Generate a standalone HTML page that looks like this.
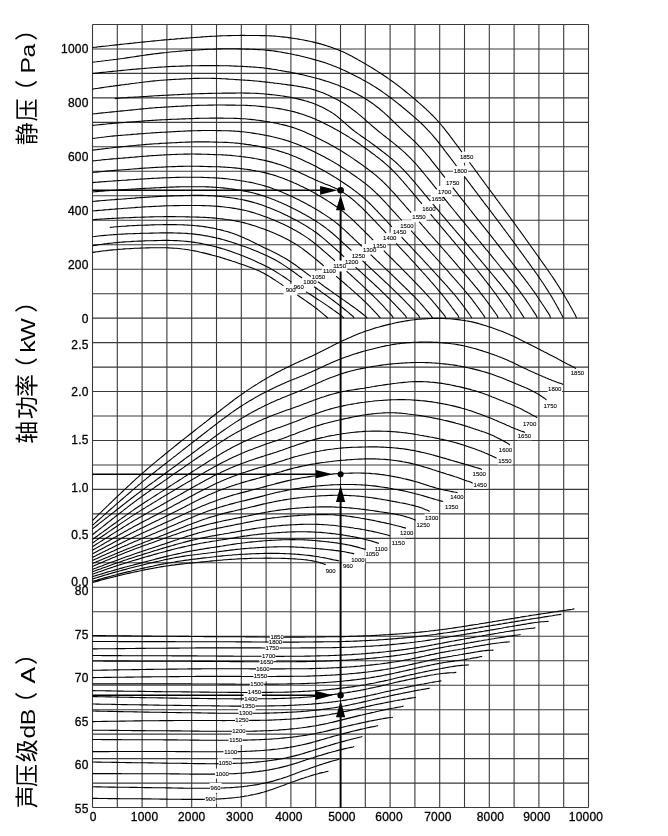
<!DOCTYPE html><html><head><meta charset="utf-8"><style>html,body{margin:0;padding:0;background:#fff;width:668px;height:836px;overflow:hidden}svg{display:block;filter:grayscale(100%)}</style></head><body>
<svg width="668" height="836" viewBox="0 0 668 836">
<rect width="668" height="836" fill="#fff"/>
<path d="M92.5 24.5V807.5M117.3 24.5V807.5M142.1 24.5V807.5M166.9 24.5V807.5M191.7 24.5V807.5M216.5 24.5V807.5M241.3 24.5V807.5M266.1 24.5V807.5M290.9 24.5V807.5M315.7 24.5V807.5M340.5 24.5V807.5M365.3 24.5V807.5M390.1 24.5V807.5M414.9 24.5V807.5M439.7 24.5V807.5M464.5 24.5V807.5M489.3 24.5V807.5M514.1 24.5V807.5M538.9 24.5V807.5M563.7 24.5V807.5M588.5 24.5V807.5M92.5 24.5H588.5M92.5 49H588.5M92.5 73.4H588.5M92.5 97.9H588.5M92.5 122.4H588.5M92.5 146.8H588.5M92.5 171.3H588.5M92.5 195.8H588.5M92.5 220.3H588.5M92.5 244.7H588.5M92.5 269.2H588.5M92.5 293.7H588.5M92.5 318.1H588.5M92.5 342.6H588.5M92.5 367.1H588.5M92.5 391.5H588.5M92.5 416H588.5M92.5 440.5H588.5M92.5 465H588.5M92.5 489.4H588.5M92.5 513.9H588.5M92.5 538.4H588.5M92.5 562.8H588.5M92.5 587.3H588.5M92.5 611.8H588.5M92.5 636.2H588.5M92.5 660.7H588.5M92.5 685.2H588.5M92.5 709.7H588.5M92.5 734.1H588.5M92.5 758.6H588.5M92.5 783.1H588.5M92.5 807.5H588.5" stroke="#3a3a3a" stroke-width="1.1" fill="none"/>
<path d="M340.6 807.5V717 M340.6 695.5V501.5 M340.6 440.4V209.5" stroke="#000" stroke-width="1.9" fill="none"/><path d="M92.5 190.3H321.1" stroke="#000" stroke-width="1.6" fill="none"/><path d="M92.5 474.2H316.9" stroke="#000" stroke-width="1.6" fill="none"/><path d="M92.5 695.3H316.2" stroke="#000" stroke-width="1.6" fill="none"/>
<g fill="#fff"><rect x="459" y="151.7" width="15.2" height="11"/><rect x="570.2" y="368.9" width="14.4" height="8"/><rect x="269.6" y="631.8" width="15" height="10"/><rect x="452.9" y="165.7" width="15.2" height="11"/><rect x="547.6" y="384.6" width="14.4" height="8"/><rect x="268" y="636.8" width="15" height="10"/><rect x="445.1" y="177.1" width="15.2" height="11"/><rect x="543" y="401.8" width="14.4" height="8"/><rect x="264.8" y="642.7" width="15" height="10"/><rect x="437" y="186" width="15.2" height="11"/><rect x="522.4" y="419.8" width="14.4" height="8"/><rect x="261.2" y="651.1" width="15" height="10"/><rect x="430.7" y="193.2" width="15.2" height="11"/><rect x="517.2" y="432.2" width="14.4" height="8"/><rect x="259.2" y="656.5" width="15" height="10"/><rect x="421.3" y="203.5" width="15.2" height="11"/><rect x="498.3" y="445.4" width="14.4" height="8"/><rect x="255.4" y="663.6" width="15" height="10"/><rect x="411.4" y="211.2" width="15.2" height="11"/><rect x="497.7" y="456.5" width="14.4" height="8"/><rect x="252.9" y="671.2" width="15" height="10"/><rect x="399.3" y="220.2" width="15.2" height="11"/><rect x="472.1" y="469.7" width="14.4" height="8"/><rect x="249.5" y="678.9" width="15" height="10"/><rect x="392.1" y="226.5" width="15.2" height="11"/><rect x="472.9" y="480.7" width="14.4" height="8"/><rect x="247" y="687.2" width="15" height="10"/><rect x="382.2" y="232.7" width="15.2" height="11"/><rect x="449.7" y="493.2" width="14.4" height="8"/><rect x="243.5" y="693.6" width="15" height="10"/><rect x="371.9" y="239.9" width="15.2" height="11"/><rect x="444.4" y="502.6" width="14.4" height="8"/><rect x="240.8" y="700.8" width="15" height="10"/><rect x="362" y="244" width="15.2" height="11"/><rect x="424.5" y="513.7" width="14.4" height="8"/><rect x="238.1" y="708" width="15" height="10"/><rect x="350.8" y="250.2" width="15.2" height="11"/><rect x="416" y="521.1" width="14.4" height="8"/><rect x="234.5" y="715.2" width="15" height="10"/><rect x="344" y="256.5" width="15.2" height="11"/><rect x="399.5" y="528.6" width="14.4" height="8"/><rect x="231.4" y="726" width="15" height="10"/><rect x="332" y="260.5" width="15.2" height="11"/><rect x="391.1" y="538.7" width="14.4" height="8"/><rect x="228.2" y="734.9" width="15" height="10"/><rect x="321.9" y="265.5" width="15.2" height="11"/><rect x="373.9" y="544.4" width="14.4" height="8"/><rect x="223.2" y="746.4" width="15" height="10"/><rect x="310.9" y="271.1" width="15.2" height="11"/><rect x="364.9" y="550.2" width="14.4" height="8"/><rect x="217.8" y="758.3" width="15" height="10"/><rect x="302.4" y="275.9" width="15.2" height="11"/><rect x="350.7" y="555.9" width="14.4" height="8"/><rect x="214.7" y="768.7" width="15" height="10"/><rect x="291.8" y="281" width="14" height="11"/><rect x="342.3" y="562.3" width="11.2" height="8"/><rect x="209.6" y="782.9" width="12" height="10"/><rect x="283.7" y="284.3" width="14" height="11"/><rect x="325.1" y="566.4" width="11.2" height="8"/><rect x="204.5" y="794" width="12" height="10"/></g>
<path d="M92.5 47.5 L94.5 47.3 L96.5 47.1 L98.5 46.8 L100.5 46.6 L102.5 46.4 L104.5 46.2 L106.5 46 L108.5 45.8 L110.5 45.5 L112.5 45.3 L114.5 45.1 L116.5 44.9 L118.5 44.7 L120.5 44.4 L122.5 44.2 L124.5 44 L126.5 43.8 L128.5 43.6 L130.5 43.4 L132.5 43.2 L134.5 42.9 L136.5 42.7 L138.5 42.5 L140.5 42.3 L142.5 42.1 L144.5 41.9 L146.5 41.7 L148.5 41.5 L150.5 41.3 L152.5 41.1 L154.5 40.9 L156.5 40.7 L158.5 40.5 L160.5 40.3 L162.5 40.1 L164.5 39.9 L166.5 39.7 L168.5 39.6 L170.5 39.4 L172.5 39.2 L174.5 39.1 L176.5 38.9 L178.5 38.7 L180.5 38.6 L182.5 38.4 L184.5 38.3 L186.5 38.1 L188.5 38 L190.5 37.8 L192.5 37.7 L194.5 37.5 L196.5 37.4 L198.5 37.2 L200.5 37.1 L202.5 36.9 L204.5 36.8 L206.5 36.6 L208.5 36.5 L210.5 36.4 L212.5 36.3 L214.5 36.2 L216.5 36.1 L218.5 36 L220.5 35.9 L222.5 35.8 L224.5 35.7 L226.5 35.7 L228.5 35.6 L230.5 35.6 L232.5 35.5 L234.5 35.5 L236.5 35.5 L238.5 35.5 L240.5 35.4 L242.5 35.4 L244.5 35.4 L246.5 35.5 L248.5 35.5 L250.5 35.5 L252.5 35.5 L254.5 35.5 L256.5 35.5 L258.5 35.5 L260.5 35.6 L262.5 35.6 L264.5 35.6 L266.5 35.7 L268.5 35.8 L270.5 35.9 L272.5 36 L274.5 36.1 L276.5 36.3 L278.5 36.5 L280.5 36.7 L282.5 36.9 L284.5 37.1 L286.5 37.3 L288.5 37.6 L290.5 37.9 L292.5 38.2 L294.5 38.5 L296.5 38.8 L298.5 39.1 L300.5 39.5 L302.5 39.8 L304.5 40.2 L306.5 40.6 L308.5 41 L310.5 41.5 L312.5 41.9 L314.5 42.4 L316.5 42.9 L318.5 43.4 L320.5 43.9 L322.5 44.5 L324.5 45.1 L326.5 45.7 L328.5 46.4 L330.5 47 L332.5 47.7 L334.4 48.4 L335.9 49 L337.4 49.6 L338.9 50.2 L340.4 50.8 L341.9 51.4 L343.4 52.1 L344.9 52.8 L346.4 53.5 L347.9 54.2 L349.4 55 L350.9 55.8 L352.4 56.6 L353.9 57.4 L355.4 58.2 L356.9 59 L358.4 59.9 L359.9 60.7 L361.4 61.6 L362.9 62.5 L364.4 63.3 L365.9 64.2 L367.4 65.1 L368.9 66 L370.4 66.9 L371.9 67.8 L373.4 68.8 L374.9 69.7 L376.4 70.6 L377.9 71.6 L379.4 72.5 L380.9 73.5 L382.4 74.5 L383.9 75.5 L385.4 76.5 L386.9 77.5 L388.4 78.6 L389.9 79.6 L391.4 80.7 L392.9 81.8 L394.4 82.9 L395.9 84 L397.4 85.1 L398.9 86.3 L400.4 87.4 L401.9 88.6 L403.4 89.8 L404.9 91 L406.4 92.2 L407.9 93.4 L409.4 94.6 L410.9 95.9 L412.4 97.1 L413.9 98.4 L415.4 99.7 L416.9 101 L418.4 102.3 L419.9 103.6 L421.3 104.8 L422.5 105.9 L423.7 107 L424.9 108.1 L426.1 109.2 L427.3 110.3 L428.5 111.4 L429.7 112.6 L430.9 113.8 L432.1 115 L433.3 116.2 L434.5 117.4 L435.7 118.7 L436.9 120 L438.1 121.3 L439.3 122.7 L440.5 124 L441.7 125.5 L442.9 126.9 L444.1 128.4 L445.2 129.8 L446.2 131.1 L447.2 132.3 L448.2 133.6 L449.2 134.9 L450.2 136.3 L451.2 137.6 L452.2 138.9 L453.2 140.3 L454.2 141.6 L455.2 143 L456.2 144.3 L457.2 145.7 L458.2 147 L459.2 148.4 L460.2 149.7 L461.2 151.1 L462 152.1 M469.5 162.3 L470.5 163.7 L471.5 165.1 L472.5 166.4 L473.5 167.8 L474.5 169.2 L475.5 170.5 L476.5 171.9 L477.5 173.2 L478.5 174.6 L479.5 176 L480.5 177.3 L481.5 178.7 L482.5 180.1 L483.5 181.4 L484.5 182.8 L485.5 184.2 L486.5 185.5 L487.5 186.9 L488.5 188.2 L489.5 189.6 L490.5 190.9 L491.5 192.3 L492.5 193.6 L493.5 195 L494.5 196.4 L495.5 197.7 L496.5 199.1 L497.5 200.4 L498.5 201.8 L499.5 203.1 L500.5 204.5 L501.5 205.8 L502.5 207.2 L503.5 208.5 L504.5 209.9 L505.5 211.2 L506.5 212.6 L507.5 213.9 L508.5 215.3 L509.5 216.6 L510.5 218 L511.5 219.4 L512.5 220.7 L513.5 222.1 L514.5 223.5 L515.5 224.8 L516.5 226.2 L517.5 227.6 L518.5 229 L519.5 230.4 L520.5 231.7 L521.5 233.1 L522.5 234.5 L523.5 235.9 L524.5 237.3 L525.5 238.7 L526.5 240.1 L527.5 241.5 L528.5 242.9 L529.5 244.3 L530.5 245.7 L531.5 247.1 L532.5 248.5 L533.5 249.9 L534.5 251.3 L535.5 252.7 L536.5 254.1 L537.5 255.5 L538.5 256.9 L539.5 258.4 L540.5 259.8 L541.5 261.2 L542.5 262.6 L543.5 264 L544.5 265.4 L545.5 266.8 L546.5 268.3 L547.5 269.7 L548.5 271.1 L549.5 272.6 L550.5 274 L551.5 275.5 L552.5 276.9 L553.5 278.4 L554.5 279.9 L555.5 281.4 L556.5 283 L557.5 284.5 L558.5 286.1 L559.4 287.5 L560.3 288.9 L561.1 290.3 L562 291.7 L562.9 293.1 L563.7 294.6 L564.6 296 L565.4 297.5 L566.3 299 L567.1 300.4 L568 301.9 L568.9 303.5 L569.7 305 L570.6 306.5 L571.4 308 L572.3 309.6 L573.1 311.1 L574 312.7 L574.9 314.2 L575.6 315.8 L576.2 317.3 L576.5 318.1 M92.5 520.5 L93.7 519.3 L94.9 518.1 L96.1 517 L97.3 515.8 L98.5 514.6 L99.7 513.4 L100.9 512.3 L102.1 511.1 L103.3 509.9 L104.5 508.8 L105.7 507.6 L106.9 506.4 L108.1 505.3 L109.3 504.1 L110.5 503 L111.7 501.8 L112.9 500.7 L114.1 499.5 L115.3 498.4 L116.5 497.2 L117.7 496.1 L118.9 494.9 L120.1 493.8 L121.3 492.7 L122.5 491.5 L123.7 490.4 L124.9 489.3 L126.1 488.1 L127.3 487 L128.5 485.9 L129.7 484.8 L130.9 483.6 L132.1 482.5 L133.3 481.4 L134.5 480.3 L135.7 479.2 L136.9 478.1 L138.1 477.1 L139.3 476 L140.5 474.9 L141.7 473.9 L143.1 472.6 L144.6 471.3 L146.1 470 L147.6 468.7 L149.1 467.4 L150.6 466.2 L152.1 464.9 L153.6 463.6 L155.1 462.4 L156.6 461.1 L158.1 459.9 L159.6 458.7 L161.1 457.4 L162.6 456.2 L164.1 455 L165.6 453.7 L167.1 452.5 L168.6 451.3 L170.1 450.1 L171.6 448.9 L173.1 447.7 L174.6 446.4 L176.1 445.2 L177.6 444 L179.1 442.8 L180.6 441.6 L182.1 440.4 L183.6 439.3 L185.1 438.1 L186.6 436.9 L188.1 435.7 L189.6 434.5 L191.1 433.3 L192.6 432.2 L194.1 431 L195.6 429.8 L197.1 428.6 L198.6 427.4 L200.1 426.3 L201.6 425.1 L203.1 423.9 L204.6 422.7 L206.1 421.6 L207.6 420.4 L209.1 419.2 L210.6 418 L212.1 416.8 L213.6 415.7 L215.1 414.5 L216.6 413.3 L218.1 412.1 L219.6 411 L221.1 409.8 L222.6 408.6 L224.1 407.4 L225.6 406.3 L227.1 405.1 L228.6 404 L230.1 402.8 L231.6 401.7 L233.1 400.5 L234.6 399.4 L236.1 398.3 L237.6 397.2 L239.1 396.1 L240.6 395.1 L242.1 394 L243.6 393 L245.1 391.9 L246.6 390.9 L248.1 389.9 L249.6 388.9 L251.1 387.9 L252.6 386.9 L254.1 386 L255.6 385 L257.1 384.1 L258.6 383.1 L260.1 382.2 L261.6 381.3 L263.1 380.4 L264.6 379.5 L266.1 378.6 L267.6 377.8 L269.1 376.9 L270.6 376 L272.1 375.2 L273.6 374.4 L275.1 373.6 L276.6 372.8 L278.1 372 L279.6 371.2 L281.1 370.4 L282.6 369.6 L284.1 368.9 L285.6 368.1 L287.1 367.4 L288.6 366.7 L290.1 365.9 L291.6 365.2 L293.1 364.5 L294.6 363.8 L296.1 363.1 L297.6 362.5 L299.1 361.8 L300.6 361.1 L302.1 360.4 L303.6 359.8 L305.1 359.1 L306.6 358.4 L308.1 357.8 L309.6 357.1 L311.1 356.4 L312.6 355.7 L314.1 355 L315.6 354.3 L317.1 353.5 L318.6 352.8 L320.1 352 L321.6 351.3 L323.1 350.5 L324.6 349.7 L326.1 349 L327.6 348.2 L329.1 347.4 L330.6 346.7 L332.1 345.9 L333.6 345.1 L335.1 344.4 L336.6 343.6 L338.1 342.9 L339.6 342.2 L341.1 341.5 L342.6 340.7 L344.1 340 L345.6 339.4 L347.1 338.7 L348.6 338 L350.1 337.4 L351.6 336.7 L353.1 336.1 L354.6 335.4 L356.1 334.8 L357.6 334.2 L359.1 333.6 L360.6 333 L362.1 332.5 L364 331.8 L366 331.1 L368 330.4 L370 329.7 L372 329.1 L374 328.4 L376 327.8 L378 327.3 L380 326.7 L382 326.1 L384 325.6 L386 325.1 L388 324.6 L390 324.1 L392 323.7 L394 323.2 L396 322.8 L398 322.4 L400 322 L402 321.6 L404 321.2 L406 320.9 L408 320.6 L410 320.3 L412 320 L414 319.8 L416 319.5 L418 319.3 L420 319.2 L422 319 L424 318.9 L426 318.7 L428 318.6 L430 318.5 L432 318.5 L434 318.4 L436 318.4 L438 318.4 L440 318.4 L442 318.4 L444 318.5 L446 318.6 L448 318.7 L450 318.8 L452 319 L454 319.2 L456 319.4 L458 319.6 L460 319.9 L462 320.2 L464 320.4 L466 320.8 L468 321.1 L470 321.5 L472 321.9 L474 322.4 L476 322.9 L478 323.4 L480 324 L482 324.6 L484 325.2 L486 325.8 L488 326.5 L490 327.1 L492 327.8 L494 328.5 L496 329.2 L497.9 329.9 L499.4 330.5 L500.9 331 L502.4 331.6 L503.9 332.2 L505.4 332.8 L506.9 333.5 L508.4 334.1 L509.9 334.8 L511.4 335.4 L512.9 336.1 L514.4 336.8 L515.9 337.5 L517.4 338.2 L518.9 338.9 L520.4 339.7 L521.9 340.4 L523.4 341.2 L524.9 341.9 L526.4 342.7 L527.9 343.4 L529.4 344.2 L530.9 345 L532.4 345.8 L533.9 346.5 L535.4 347.3 L536.9 348.1 L538.4 348.8 L539.9 349.6 L541.4 350.4 L542.9 351.1 L544.4 351.9 L545.9 352.6 L547.4 353.4 L548.9 354.2 L550.4 355 L551.9 355.7 L553.4 356.5 L554.9 357.3 L556.4 358.1 L557.9 358.9 L559.4 359.8 L560.9 360.6 L562.4 361.4 L563.9 362.2 L565.4 363 L566.9 363.8 L568.4 364.6 L569.9 365.3 L571.4 366.1 L572.9 366.8 L574.4 367.5 L575.8 368.7 M92.5 635.5 L94.5 635.5 L96.5 635.5 L98.5 635.6 L100.5 635.6 L102.5 635.6 L104.5 635.6 L106.5 635.7 L108.5 635.7 L110.5 635.7 L112.5 635.7 L114.5 635.8 L116.5 635.8 L118.5 635.8 L120.5 635.8 L122.5 635.9 L124.5 635.9 L126.5 635.9 L128.5 635.9 L130.5 635.9 L132.5 636 L134.5 636 L136.5 636 L138.5 636 L140.5 636 L142.5 636.1 L144.5 636.1 L146.5 636.1 L148.5 636.1 L150.5 636.1 L152.5 636.2 L154.5 636.2 L156.5 636.2 L158.5 636.2 L160.5 636.2 L162.5 636.2 L164.5 636.3 L166.5 636.3 L168.5 636.3 L170.5 636.3 L172.5 636.3 L174.5 636.3 L176.5 636.3 L178.5 636.4 L180.5 636.4 L182.5 636.4 L184.5 636.4 L186.5 636.4 L188.5 636.4 L190.5 636.5 L192.5 636.5 L194.5 636.5 L196.5 636.5 L198.5 636.5 L200.5 636.5 L202.5 636.5 L204.5 636.6 L206.5 636.6 L208.5 636.6 L210.5 636.6 L212.5 636.6 L214.5 636.6 L216.5 636.6 L218.5 636.7 L220.5 636.7 L222.5 636.7 L224.5 636.7 L226.5 636.7 L228.5 636.7 L230.5 636.7 L232.5 636.8 L234.5 636.8 L236.5 636.8 L238.5 636.8 L240.5 636.8 L242.5 636.8 L244.5 636.8 L246.5 636.9 L248.5 636.9 L250.5 636.9 L252.5 636.9 L254.5 636.9 L256.5 636.9 L258.5 637 L260.5 637 L262.5 637 L264.5 637 L266.5 637 L268.5 637 L270 637 M284 637.1 L286 637.1 L288 637.1 L290 637.1 L292 637.1 L294 637.1 L296 637.1 L298 637.1 L300 637.1 L302 637.1 L304 637.1 L306 637 L308 637 L310 637 L312 637 L314 637 L316 637 L318 636.9 L320 636.9 L322 636.9 L324 636.9 L326 636.8 L328 636.8 L330 636.8 L332 636.8 L334 636.7 L336 636.7 L338 636.7 L340 636.6 L342 636.6 L344 636.6 L346 636.5 L348 636.5 L350 636.4 L352 636.3 L354 636.3 L356 636.2 L358 636.1 L360 636.1 L362 636 L364 635.9 L366 635.8 L368 635.7 L370 635.7 L372 635.6 L374 635.5 L376 635.4 L378 635.3 L380 635.1 L382 635 L384 634.9 L386 634.8 L388 634.7 L390 634.5 L392 634.4 L394 634.3 L396 634.1 L398 634 L400 633.8 L402 633.7 L404 633.5 L406 633.3 L408 633.2 L410 633 L412 632.8 L414 632.6 L416 632.5 L418 632.3 L420 632.1 L422 631.9 L424 631.7 L426 631.5 L428 631.3 L430 631 L432 630.8 L434 630.6 L436 630.3 L438 630.1 L440 629.8 L442 629.6 L444 629.3 L446 629.1 L448 628.8 L450 628.5 L452 628.2 L454 627.9 L456 627.6 L458 627.3 L460 627 L462 626.7 L464 626.4 L466 626.1 L468 625.7 L470 625.4 L472 625.1 L474 624.8 L476 624.5 L478 624.2 L480 623.8 L482 623.5 L484 623.2 L486 622.9 L488 622.5 L490 622.2 L492 621.9 L494 621.5 L496 621.2 L498 620.9 L500 620.5 L502 620.2 L504 619.9 L506 619.6 L508 619.2 L510 618.9 L512 618.6 L514 618.3 L516 617.9 L518 617.6 L520 617.3 L522 616.9 L524 616.6 L526 616.3 L528 616 L530 615.6 L532 615.3 L534 615 L536 614.7 L538 614.4 L540 614.1 L542 613.8 L544 613.5 L546 613.2 L548 612.9 L550 612.6 L552 612.3 L554 612 L556 611.7 L558 611.4 L560 611.1 L562 610.8 L564 610.5 L566 610.2 L568 609.9 L570 609.6 L572 609.3 L574 608.9 L574.4 608.7 M92.5 62.3 L94.5 62 L96.5 61.8 L98.5 61.5 L100.5 61.3 L102.5 61 L104.5 60.8 L106.5 60.5 L108.5 60.3 L110.5 60 L112.5 59.8 L114.5 59.5 L116.5 59.3 L118.5 59 L120.5 58.7 L122.5 58.5 L124.5 58.2 L126.5 57.9 L128.5 57.6 L130.5 57.3 L132.5 57 L134.5 56.7 L136.5 56.4 L138.5 56.1 L140.5 55.8 L142.5 55.5 L144.5 55.2 L146.5 54.9 L148.5 54.6 L150.5 54.4 L152.5 54.1 L154.5 53.8 L156.5 53.6 L158.5 53.4 L160.5 53.1 L162.5 52.9 L164.5 52.7 L166.5 52.5 L168.5 52.2 L170.5 52 L172.5 51.8 L174.5 51.7 L176.5 51.5 L178.5 51.3 L180.5 51.1 L182.5 51 L184.5 50.8 L186.5 50.6 L188.5 50.5 L190.5 50.4 L192.5 50.2 L194.5 50.1 L196.5 50 L198.5 49.9 L200.5 49.7 L202.5 49.6 L204.5 49.5 L206.5 49.4 L208.5 49.3 L210.5 49.2 L212.5 49.2 L214.5 49.1 L216.5 49 L218.5 48.9 L220.5 48.9 L222.5 48.8 L224.5 48.8 L226.5 48.8 L228.5 48.8 L230.5 48.8 L232.5 48.8 L234.5 48.8 L236.5 48.8 L238.5 48.9 L240.5 48.9 L242.5 49 L244.5 49 L246.5 49.1 L248.5 49.1 L250.5 49.2 L252.5 49.3 L254.5 49.4 L256.5 49.5 L258.5 49.6 L260.5 49.7 L262.5 49.8 L264.5 50 L266.5 50.2 L268.5 50.4 L270.5 50.6 L272.5 50.8 L274.5 51.1 L276.5 51.4 L278.5 51.7 L280.5 52 L282.5 52.4 L284.5 52.7 L286.5 53.1 L288.5 53.5 L290.5 53.8 L292.5 54.2 L294.5 54.7 L296.5 55.1 L298.5 55.5 L300.5 56 L302.5 56.5 L304.5 57 L306.5 57.5 L308.5 58 L310.5 58.5 L312.5 59.1 L314.5 59.6 L316.5 60.2 L318.5 60.8 L320.5 61.4 L322.5 62 L324.5 62.6 L326.5 63.3 L328.5 64 L330.5 64.7 L332.1 65.3 L333.6 65.9 L335.1 66.5 L336.6 67.1 L338.1 67.7 L339.6 68.3 L341.1 69 L342.6 69.7 L344.1 70.3 L345.6 71 L347.1 71.7 L348.6 72.5 L350.1 73.2 L351.6 73.9 L353.1 74.7 L354.6 75.4 L356.1 76.2 L357.6 77 L359.1 77.7 L360.6 78.5 L362.1 79.4 L363.6 80.2 L365.1 81 L366.6 81.9 L368.1 82.8 L369.6 83.6 L371.1 84.5 L372.6 85.5 L374.1 86.4 L375.6 87.3 L377.1 88.3 L378.6 89.3 L380.1 90.3 L381.6 91.3 L383.1 92.4 L384.6 93.4 L386.1 94.5 L387.6 95.6 L389.1 96.7 L390.6 97.8 L392.1 98.9 L393.6 100.1 L395.1 101.2 L396.6 102.4 L398.1 103.6 L399.6 104.8 L401.1 106 L402.6 107.3 L404.1 108.5 L405.6 109.7 L407.1 111 L408.6 112.2 L410.1 113.5 L411.6 114.8 L413.1 116.1 L414.6 117.4 L415.9 118.5 L417.1 119.6 L418.3 120.7 L419.5 121.8 L420.7 122.9 L421.9 124 L423.1 125.2 L424.3 126.4 L425.5 127.6 L426.7 128.8 L427.9 130.1 L429.1 131.3 L430.3 132.7 L431.5 134 L432.7 135.4 L433.9 136.8 L435.1 138.2 L436.3 139.7 L437.5 141.2 L438.5 142.4 L439.5 143.7 L440.5 145 L441.5 146.2 L442.5 147.5 L443.5 148.8 L444.5 150.1 L445.5 151.5 L446.5 152.8 L447.5 154.1 L448.5 155.4 L449.5 156.7 L450.5 158 L451.5 159.4 L452.5 160.7 L453.5 162 L454.5 163.3 L455.5 164.7 L456.5 166 M464.2 176.3 L465.2 177.6 L466.2 178.9 L467.2 180.3 L468.2 181.6 L469.2 182.9 L470.2 184.2 L471.2 185.6 L472.2 186.9 L473.2 188.2 L474.2 189.5 L475.2 190.9 L476.2 192.2 L477.2 193.5 L478.2 194.8 L479.2 196.2 L480.2 197.5 L481.2 198.8 L482.2 200.1 L483.2 201.4 L484.2 202.8 L485.2 204.1 L486.2 205.4 L487.2 206.7 L488.2 208 L489.2 209.4 L490.2 210.7 L491.2 212 L492.2 213.3 L493.2 214.6 L494.2 216 L495.2 217.3 L496.2 218.6 L497.2 219.9 L498.2 221.3 L499.2 222.6 L500.2 223.9 L501.2 225.3 L502.2 226.6 L503.2 228 L504.2 229.3 L505.2 230.6 L506.2 232 L507.2 233.3 L508.2 234.7 L509.2 236.1 L510.2 237.4 L511.2 238.8 L512.2 240.1 L513.2 241.5 L514.2 242.9 L515.2 244.2 L516.2 245.6 L517.2 247 L518.2 248.3 L519.2 249.7 L520.2 251.1 L521.2 252.5 L522.2 253.9 L523.2 255.2 L524.2 256.6 L525.2 258 L526.2 259.4 L527.2 260.8 L528.2 262.1 L529.2 263.5 L530.2 264.9 L531.2 266.3 L532.2 267.7 L533.2 269.1 L534.2 270.5 L535.2 271.9 L536.2 273.3 L537.2 274.7 L538.2 276.1 L539.2 277.6 L540.2 279 L541.2 280.5 L542.2 282 L543.2 283.5 L544.2 285 L545.2 286.5 L546.2 288.1 L547.2 289.6 L548.1 290.9 L548.9 292.3 L549.8 293.7 L550.6 295.1 L551.5 296.6 L552.4 298 L553.2 299.5 L554.1 301 L554.9 302.5 L555.8 304 L556.6 305.5 L557.5 307.1 L558.4 308.6 L559.2 310.2 L560.1 311.8 L560.9 313.3 L561.8 314.9 L562.6 316.5 L563.4 318.1 M92.5 525.3 L93.7 524.2 L94.9 523.2 L96.1 522.1 L97.3 521 L98.5 520 L99.7 518.9 L100.9 517.8 L102.1 516.8 L103.3 515.7 L104.5 514.7 L105.7 513.6 L106.9 512.5 L108.2 511.3 L109.8 510 L111.2 508.7 L112.8 507.4 L114.2 506.1 L115.8 504.7 L117.2 503.4 L118.8 502.1 L120.2 500.8 L121.8 499.5 L123.2 498.2 L124.8 496.9 L126.2 495.6 L127.8 494.3 L129.2 493 L130.8 491.7 L132.2 490.4 L133.8 489.1 L135.2 487.8 L136.8 486.6 L138.2 485.3 L139.8 484.1 L141.2 482.8 L142.8 481.6 L144.2 480.4 L145.8 479.1 L147.2 477.9 L148.8 476.7 L150.2 475.5 L151.8 474.4 L153.2 473.2 L154.8 472 L156.2 470.8 L157.8 469.6 L159.2 468.5 L160.8 467.3 L162.2 466.1 L163.8 464.9 L165.2 463.8 L166.8 462.6 L168.2 461.4 L169.8 460.3 L171.2 459.1 L172.8 457.9 L174.2 456.7 L175.8 455.6 L177.2 454.4 L178.8 453.2 L180.2 452.1 L181.8 450.9 L183.2 449.7 L184.8 448.5 L186.2 447.4 L187.8 446.2 L189.2 445 L190.8 443.9 L192.2 442.7 L193.8 441.5 L195.2 440.4 L196.8 439.2 L198.2 438 L199.8 436.8 L201.2 435.7 L202.8 434.5 L204.2 433.3 L205.8 432.2 L207.2 431 L208.8 429.9 L210.2 428.7 L211.8 427.5 L213.2 426.4 L214.8 425.2 L216.2 424.1 L217.8 422.9 L219.2 421.8 L220.8 420.7 L222.2 419.5 L223.8 418.4 L225.2 417.3 L226.8 416.2 L228.2 415.1 L229.8 414 L231.2 412.9 L232.8 411.9 L234.2 410.8 L235.8 409.8 L237.2 408.8 L238.8 407.8 L240.2 406.8 L241.8 405.8 L243.2 404.9 L244.8 403.9 L246.2 403 L247.8 402.1 L249.2 401.1 L250.8 400.2 L252.2 399.4 L253.8 398.5 L255.2 397.6 L256.8 396.8 L258.2 395.9 L259.8 395.1 L261.2 394.3 L262.8 393.5 L264.2 392.7 L265.8 391.9 L267.2 391.2 L268.8 390.4 L270.2 389.7 L271.8 388.9 L273.2 388.2 L274.8 387.5 L276.2 386.8 L277.8 386.1 L279.2 385.4 L280.8 384.7 L282.2 384.1 L283.8 383.4 L285.2 382.7 L286.8 382.1 L288.2 381.5 L289.8 380.8 L291.2 380.2 L292.8 379.6 L294.2 379 L295.8 378.4 L297.2 377.8 L298.8 377.2 L300.2 376.6 L301.8 376 L303.2 375.4 L304.8 374.7 L306.2 374.1 L307.8 373.5 L309.2 372.8 L310.8 372.2 L312.2 371.5 L313.8 370.8 L315.2 370.2 L316.8 369.5 L318.2 368.8 L319.8 368.1 L321.2 367.4 L322.8 366.7 L324.2 366 L325.8 365.3 L327.2 364.6 L328.8 363.9 L330.2 363.3 L331.8 362.6 L333.2 362 L334.8 361.3 L336.2 360.7 L337.8 360.1 L339.2 359.5 L340.8 358.9 L342.2 358.3 L343.8 357.7 L345.5 357.1 L347.5 356.4 L349.5 355.7 L351.5 355 L353.5 354.3 L355.5 353.7 L357.5 353.1 L359.5 352.5 L361.5 351.9 L363.5 351.3 L365.5 350.8 L367.5 350.2 L369.5 349.7 L371.5 349.2 L373.5 348.7 L375.5 348.2 L377.5 347.7 L379.5 347.2 L381.5 346.8 L383.5 346.4 L385.5 345.9 L387.5 345.5 L389.5 345.2 L391.5 344.8 L393.5 344.4 L395.5 344.1 L397.5 343.8 L399.5 343.6 L401.5 343.3 L403.5 343.1 L405.5 342.9 L407.5 342.7 L409.5 342.6 L411.5 342.5 L413.5 342.3 L415.5 342.2 L417.5 342.2 L419.5 342.1 L421.5 342.1 L423.5 342 L425.5 342 L427.5 342 L429.5 342.1 L431.5 342.1 L433.5 342.2 L435.5 342.3 L437.5 342.4 L439.5 342.6 L441.5 342.7 L443.5 342.9 L445.5 343.1 L447.5 343.3 L449.5 343.5 L451.5 343.8 L453.5 344 L455.5 344.3 L457.5 344.6 L459.5 345 L461.5 345.4 L463.5 345.8 L465.5 346.2 L467.5 346.7 L469.5 347.2 L471.5 347.7 L473.5 348.3 L475.5 348.8 L477.5 349.4 L479.5 350 L481.5 350.6 L483.5 351.2 L485.5 351.9 L487.5 352.5 L489.5 353.2 L491.5 353.9 L493.5 354.6 L495.2 355.3 L496.8 355.8 L498.2 356.4 L499.8 357 L501.2 357.6 L502.8 358.2 L504.2 358.8 L505.8 359.5 L507.2 360.1 L508.8 360.8 L510.2 361.4 L511.8 362.1 L513.2 362.8 L514.8 363.5 L516.2 364.2 L517.8 365 L519.2 365.7 L520.8 366.4 L522.2 367.2 L523.8 367.9 L525.2 368.6 L526.8 369.3 L528.2 370.1 L529.8 370.8 L531.2 371.5 L532.8 372.1 L534.2 372.8 L535.8 373.5 L537.2 374.1 L538.8 374.8 L540.2 375.4 L541.8 376 L543.2 376.7 L544.8 377.3 L546.2 377.9 L547.8 378.5 L549.2 379.2 L550.8 379.8 L552.2 380.4 L553.8 380.9 L555.2 381.5 L557 382.2 L559 382.9 L561 383.6 L562.8 384.2 L563.2 384.4 M92.5 641.5 L94.5 641.5 L96.5 641.5 L98.5 641.5 L100.5 641.5 L102.5 641.5 L104.5 641.5 L106.5 641.5 L108.5 641.5 L110.5 641.5 L112.5 641.5 L114.5 641.5 L116.5 641.5 L118.5 641.6 L120.5 641.6 L122.5 641.6 L124.5 641.6 L126.5 641.6 L128.5 641.6 L130.5 641.6 L132.5 641.6 L134.5 641.6 L136.5 641.6 L138.5 641.6 L140.5 641.6 L142.5 641.6 L144.5 641.6 L146.5 641.6 L148.5 641.6 L150.5 641.6 L152.5 641.6 L154.5 641.6 L156.5 641.6 L158.5 641.6 L160.5 641.6 L162.5 641.6 L164.5 641.6 L166.5 641.6 L168.5 641.6 L170.5 641.6 L172.5 641.6 L174.5 641.6 L176.5 641.7 L178.5 641.7 L180.5 641.7 L182.5 641.7 L184.5 641.7 L186.5 641.7 L188.5 641.7 L190.5 641.7 L192.5 641.7 L194.5 641.7 L196.5 641.7 L198.5 641.7 L200.5 641.7 L202.5 641.7 L204.5 641.7 L206.5 641.7 L208.5 641.7 L210.5 641.7 L212.5 641.8 L214.5 641.8 L216.5 641.8 L218.5 641.8 L220.5 641.8 L222.5 641.8 L224.5 641.8 L226.5 641.8 L228.5 641.8 L230.5 641.8 L232.5 641.8 L234.5 641.8 L236.5 641.9 L238.5 641.9 L240.5 641.9 L242.5 641.9 L244.5 641.9 L246.5 641.9 L248.5 641.9 L250.5 641.9 L252.5 642 L254.5 642 L256.5 642 L258.5 642 L260.5 642 L262.5 642 L264.5 642 L266.5 642 L268.5 642.1 M282.5 642.1 L284.5 642.1 L286.5 642.1 L288.5 642.1 L290.5 642.1 L292.5 642.1 L294.5 642.1 L296.5 642.1 L298.5 642.1 L300.5 642 L302.5 642 L304.5 642 L306.5 642 L308.5 642 L310.5 642 L312.5 642 L314.5 641.9 L316.5 641.9 L318.5 641.9 L320.5 641.9 L322.5 641.9 L324.5 641.8 L326.5 641.8 L328.5 641.8 L330.5 641.8 L332.5 641.7 L334.5 641.7 L336.5 641.7 L338.5 641.6 L340.5 641.6 L342.5 641.5 L344.5 641.5 L346.5 641.4 L348.5 641.4 L350.5 641.3 L352.5 641.2 L354.5 641.1 L356.5 641.1 L358.5 641 L360.5 640.9 L362.5 640.8 L364.5 640.7 L366.5 640.6 L368.5 640.5 L370.5 640.4 L372.5 640.3 L374.5 640.2 L376.5 640.1 L378.5 639.9 L380.5 639.8 L382.5 639.7 L384.5 639.5 L386.5 639.4 L388.5 639.3 L390.5 639.1 L392.5 638.9 L394.5 638.8 L396.5 638.6 L398.5 638.4 L400.5 638.3 L402.5 638.1 L404.5 637.9 L406.5 637.7 L408.5 637.5 L410.5 637.3 L412.5 637.1 L414.5 636.9 L416.5 636.7 L418.5 636.5 L420.5 636.2 L422.5 636 L424.5 635.8 L426.5 635.5 L428.5 635.3 L430.5 635 L432.5 634.7 L434.5 634.5 L436.5 634.2 L438.5 633.9 L440.5 633.6 L442.5 633.3 L444.5 633 L446.5 632.8 L448.5 632.5 L450.5 632.2 L452.5 631.9 L454.5 631.6 L456.5 631.3 L458.5 631 L460.5 630.7 L462.5 630.4 L464.5 630.1 L466.5 629.7 L468.5 629.4 L470.5 629.1 L472.5 628.8 L474.5 628.4 L476.5 628.1 L478.5 627.8 L480.5 627.4 L482.5 627.1 L484.5 626.8 L486.5 626.4 L488.5 626.1 L490.5 625.8 L492.5 625.4 L494.5 625.1 L496.5 624.8 L498.5 624.4 L500.5 624.1 L502.5 623.8 L504.5 623.4 L506.5 623.1 L508.5 622.8 L510.5 622.4 L512.5 622.1 L514.5 621.8 L516.5 621.4 L518.5 621.1 L520.5 620.8 L522.5 620.4 L524.5 620.1 L526.5 619.8 L528.5 619.5 L530.5 619.1 L532.5 618.8 L534.5 618.5 L536.5 618.2 L538.5 617.9 L540.5 617.6 L542.5 617.2 L544.5 616.9 L546.5 616.6 L548.5 616.3 L550.5 616 L552.5 615.7 L554.5 615.3 L556.5 615 L558.5 614.7 L560.5 614.4 L561.3 614.2 M92.5 73.5 L94.5 73.3 L96.5 73.1 L98.5 72.9 L100.5 72.6 L102.5 72.4 L104.5 72.2 L106.5 72 L108.5 71.8 L110.5 71.6 L112.5 71.4 L114.5 71.2 L116.5 71 L118.5 70.8 L120.5 70.6 L122.5 70.4 L124.5 70.2 L126.5 70 L128.5 69.8 L130.5 69.6 L132.5 69.4 L134.5 69.3 L136.5 69.1 L138.5 68.9 L140.5 68.7 L142.5 68.5 L144.5 68.4 L146.5 68.2 L148.5 68 L150.5 67.9 L152.5 67.7 L154.5 67.5 L156.5 67.4 L158.5 67.2 L160.5 67.1 L162.5 67 L164.5 66.9 L166.5 66.7 L168.5 66.6 L170.5 66.5 L172.5 66.4 L174.5 66.4 L176.5 66.3 L178.5 66.2 L180.5 66.1 L182.5 66.1 L184.5 66 L186.5 65.9 L188.5 65.9 L190.5 65.8 L192.5 65.8 L194.5 65.7 L196.5 65.7 L198.5 65.7 L200.5 65.6 L202.5 65.6 L204.5 65.6 L206.5 65.6 L208.5 65.6 L210.5 65.6 L212.5 65.6 L214.5 65.6 L216.5 65.6 L218.5 65.6 L220.5 65.7 L222.5 65.7 L224.5 65.7 L226.5 65.8 L228.5 65.8 L230.5 65.9 L232.5 66 L234.5 66.1 L236.5 66.1 L238.5 66.2 L240.5 66.3 L242.5 66.4 L244.5 66.5 L246.5 66.6 L248.5 66.8 L250.5 66.9 L252.5 67 L254.5 67.1 L256.5 67.3 L258.5 67.5 L260.5 67.6 L262.5 67.8 L264.5 68.1 L266.5 68.3 L268.5 68.6 L270.5 68.9 L272.5 69.2 L274.5 69.5 L276.5 69.8 L278.5 70.2 L280.5 70.5 L282.5 70.9 L284.5 71.2 L286.5 71.6 L288.5 71.9 L290.5 72.3 L292.5 72.7 L294.5 73.1 L296.5 73.5 L298.5 73.9 L300.5 74.4 L302.5 74.8 L304.5 75.2 L306.5 75.7 L308.5 76.2 L310.5 76.7 L312.5 77.2 L314.5 77.8 L316.5 78.3 L318.5 78.8 L320.5 79.4 L322.5 80 L324.5 80.6 L326.5 81.2 L328.5 81.8 L330.5 82.5 L332.5 83.2 L334.5 83.9 L336.2 84.6 L337.8 85.1 L339.2 85.7 L340.8 86.4 L342.2 87 L343.8 87.6 L345.2 88.3 L346.8 89 L348.2 89.6 L349.8 90.3 L351.2 91 L352.8 91.8 L354.2 92.5 L355.8 93.3 L357.2 94.1 L358.8 94.9 L360.2 95.7 L361.8 96.6 L363.2 97.4 L364.8 98.4 L366.2 99.3 L367.8 100.3 L369.2 101.3 L370.8 102.3 L372.2 103.3 L373.8 104.4 L375.2 105.5 L376.8 106.7 L378.2 107.8 L379.8 109 L381.2 110.3 L382.8 111.6 L384.1 112.7 L385.3 113.8 L386.5 114.9 L387.7 116 L388.9 117.2 L390.1 118.3 L391.3 119.5 L392.5 120.6 L393.7 121.8 L394.9 123 L396.1 124.2 L397.3 125.4 L398.5 126.5 L399.7 127.7 L400.9 128.8 L402.1 129.9 L403.3 131.1 L404.5 132.2 L405.7 133.3 L406.9 134.4 L408.1 135.5 L409.3 136.5 L410.5 137.6 L411.7 138.8 L412.9 139.9 L414.1 141 L415.3 142.2 L416.5 143.4 L417.7 144.6 L418.9 145.8 L420.1 147.1 L421.3 148.4 L422.5 149.7 L423.7 151.1 L424.9 152.5 L426.1 153.9 L427.3 155.3 L428.5 156.7 L429.7 158.2 L430.9 159.7 L432 161.1 L433 162.3 L434 163.6 L435 164.9 L436 166.1 L437 167.4 L438 168.7 L439 170 L440 171.3 L441 172.5 L442 173.8 L443 175.1 L444 176.4 L445 177.7 M452.8 187.6 L453.8 188.9 L454.8 190.2 L455.8 191.4 L456.8 192.7 L457.8 194 L458.8 195.3 L459.8 196.6 L460.8 197.8 L461.8 199.1 L462.8 200.4 L463.8 201.7 L464.8 202.9 L465.8 204.2 L466.8 205.5 L467.8 206.7 L468.8 208 L469.8 209.3 L470.8 210.5 L471.8 211.8 L472.8 213.1 L473.8 214.3 L474.8 215.6 L475.8 216.8 L476.8 218.1 L477.8 219.3 L478.8 220.6 L479.8 221.8 L480.8 223.1 L481.8 224.4 L482.8 225.6 L483.8 226.9 L484.8 228.1 L485.8 229.4 L486.8 230.6 L487.8 231.9 L488.8 233.2 L489.8 234.4 L490.8 235.7 L491.8 236.9 L492.8 238.2 L493.8 239.5 L494.8 240.7 L495.8 242 L496.8 243.3 L497.8 244.6 L498.8 245.8 L499.8 247.1 L500.8 248.4 L501.8 249.7 L502.8 250.9 L503.8 252.2 L504.8 253.5 L505.8 254.8 L506.8 256.1 L507.8 257.3 L508.8 258.6 L509.8 259.9 L510.8 261.2 L511.8 262.5 L512.8 263.8 L513.8 265 L514.8 266.3 L515.8 267.6 L516.8 268.9 L517.8 270.2 L518.8 271.4 L519.8 272.7 L520.8 274 L521.8 275.3 L522.8 276.6 L523.8 277.9 L524.8 279.2 L525.8 280.5 L526.8 281.8 L527.8 283.1 L528.8 284.5 L529.8 285.8 L530.8 287.2 L531.8 288.6 L532.8 290 L533.8 291.4 L534.8 292.8 L535.8 294.3 L536.8 295.8 L537.8 297.2 L538.8 298.7 L539.8 300.2 L540.8 301.7 L541.8 303.3 L542.8 304.8 L543.8 306.3 L544.8 307.8 L545.8 309.4 L546.8 310.9 L547.8 312.4 L548.8 313.9 L549.8 315.4 L550.2 317.2 L550.3 318.1 M92.5 528.8 L94 527.6 L95.5 526.5 L97 525.3 L98.5 524.1 L100 522.9 L101.5 521.8 L103 520.6 L104.5 519.4 L106 518.2 L107.5 517.1 L109 515.9 L110.5 514.7 L112 513.5 L113.5 512.4 L115 511.2 L116.5 510 L118 508.8 L119.5 507.7 L121 506.5 L122.5 505.3 L124 504.1 L125.5 503 L127 501.8 L128.5 500.6 L130 499.5 L131.5 498.3 L133 497.2 L134.5 496 L136 494.9 L137.5 493.7 L139 492.6 L140.5 491.5 L142 490.3 L143.5 489.2 L145 488.1 L146.5 487 L148 485.9 L149.5 484.8 L151 483.7 L152.5 482.6 L154 481.6 L155.5 480.5 L157 479.4 L158.5 478.3 L160 477.2 L161.5 476.1 L163 475 L164.5 473.9 L166 472.8 L167.5 471.7 L169 470.6 L170.5 469.5 L172 468.4 L173.5 467.3 L175 466.2 L176.5 465.1 L178 464 L179.5 462.9 L181 461.8 L182.5 460.7 L184 459.5 L185.5 458.4 L187 457.3 L188.5 456.2 L190 455.1 L191.5 453.9 L193 452.8 L194.5 451.7 L196 450.6 L197.5 449.5 L199 448.3 L200.5 447.2 L202 446.1 L203.5 445 L205 443.9 L206.5 442.8 L208 441.7 L209.5 440.6 L211 439.5 L212.5 438.4 L214 437.3 L215.5 436.2 L217 435.1 L218.5 434 L220 432.9 L221.5 431.8 L223 430.8 L224.5 429.7 L226 428.6 L227.5 427.6 L229 426.6 L230.5 425.6 L232 424.6 L233.5 423.6 L235 422.6 L236.5 421.6 L238 420.7 L239.5 419.7 L241 418.8 L242.5 417.9 L244 417 L245.5 416.1 L247 415.2 L248.5 414.3 L250 413.5 L251.5 412.6 L253 411.8 L254.5 411 L256 410.2 L257.5 409.4 L259 408.6 L260.5 407.9 L262 407.1 L263.5 406.4 L265 405.6 L266.5 404.9 L268 404.2 L269.5 403.5 L271 402.8 L272.5 402.1 L274 401.5 L275.5 400.8 L277 400.1 L278.5 399.5 L280 398.9 L281.5 398.2 L283 397.6 L284.5 397 L286 396.4 L287.5 395.8 L289 395.2 L290.5 394.6 L292 394 L293.5 393.4 L295 392.8 L296.5 392.2 L298 391.6 L299.5 391 L301 390.4 L302.5 389.8 L304 389.2 L305.5 388.5 L307 387.9 L308.5 387.2 L310 386.6 L311.5 385.9 L313 385.2 L314.5 384.6 L316 383.9 L317.5 383.2 L319 382.5 L320.5 381.9 L322 381.2 L323.5 380.6 L325 380 L326.5 379.3 L328 378.7 L329.5 378.1 L331 377.5 L332.5 377 L334 376.4 L336 375.7 L338 375 L340 374.3 L342 373.6 L344 373 L346 372.4 L348 371.8 L350 371.2 L352 370.7 L354 370.2 L356 369.7 L358 369.3 L360 368.9 L362 368.4 L364 368.1 L366 367.7 L368 367.3 L370 367 L372 366.6 L374 366.3 L376 366 L378 365.7 L380 365.4 L382 365.1 L384 364.8 L386 364.6 L388 364.3 L390 364.1 L392 363.9 L394 363.7 L396 363.5 L398 363.4 L400 363.2 L402 363.1 L404 363 L406 362.9 L408 362.8 L410 362.7 L412 362.6 L414 362.5 L416 362.5 L418 362.5 L420 362.5 L422 362.5 L424 362.5 L426 362.6 L428 362.6 L430 362.7 L432 362.9 L434 363 L436 363.1 L438 363.3 L440 363.5 L442 363.7 L444 363.9 L446 364.1 L448 364.3 L450 364.6 L452 364.8 L454 365.1 L456 365.4 L458 365.8 L460 366.1 L462 366.5 L464 366.9 L466 367.3 L468 367.7 L470 368.2 L472 368.6 L474 369.1 L476 369.6 L478 370.1 L480 370.6 L482 371.2 L484 371.8 L486 372.4 L488 373 L490 373.6 L492 374.3 L494 375 L496 375.7 L497.9 376.4 L499.4 377 L500.9 377.6 L502.4 378.1 L503.9 378.7 L505.4 379.3 L506.9 379.9 L508.4 380.5 L509.9 381.2 L511.4 381.8 L512.9 382.4 L514.4 383 L515.9 383.7 L517.4 384.3 L518.9 384.9 L520.4 385.5 L521.9 386.2 L523.4 386.8 L524.9 387.5 L526.4 388.1 L527.9 388.8 L529.4 389.5 L530.9 390.2 L532.4 390.9 L533.9 391.7 L535.4 392.5 L536.9 393.4 L538.4 394.3 L539.9 395.2 L541.4 396.2 L542.9 397.2 L544.4 398.2 L545.8 399.4 L546.4 400.1 M92.5 648.9 L94.5 648.9 L96.5 648.9 L98.5 648.8 L100.5 648.8 L102.5 648.8 L104.5 648.8 L106.5 648.7 L108.5 648.7 L110.5 648.7 L112.5 648.7 L114.5 648.7 L116.5 648.6 L118.5 648.6 L120.5 648.6 L122.5 648.6 L124.5 648.6 L126.5 648.5 L128.5 648.5 L130.5 648.5 L132.5 648.5 L134.5 648.5 L136.5 648.4 L138.5 648.4 L140.5 648.4 L142.5 648.4 L144.5 648.4 L146.5 648.3 L148.5 648.3 L150.5 648.3 L152.5 648.3 L154.5 648.3 L156.5 648.2 L158.5 648.2 L160.5 648.2 L162.5 648.2 L164.5 648.2 L166.5 648.2 L168.5 648.1 L170.5 648.1 L172.5 648.1 L174.5 648.1 L176.5 648.1 L178.5 648.1 L180.5 648 L182.5 648 L184.5 648 L186.5 648 L188.5 648 L190.5 648 L192.5 648 L194.5 648 L196.5 647.9 L198.5 647.9 L200.5 647.9 L202.5 647.9 L204.5 647.9 L206.5 647.9 L208.5 647.9 L210.5 647.9 L212.5 647.9 L214.5 647.9 L216.5 647.9 L218.5 647.9 L220.5 647.9 L222.5 647.9 L224.5 647.9 L226.5 647.9 L228.5 647.9 L230.5 647.9 L232.5 647.9 L234.5 647.9 L236.5 647.9 L238.5 647.9 L240.5 647.9 L242.5 647.9 L244.5 647.9 L246.5 647.9 L248.5 647.9 L250.5 647.9 L252.5 647.9 L254.5 647.9 L256.5 647.9 L258.5 647.9 L260.5 647.9 L262.5 648 L264.5 648 L265.5 648 M279.5 648 L281.5 648 L283.5 648 L285.5 648 L287.5 648 L289.5 648 L291.5 648 L293.5 648 L295.5 648 L297.5 648 L299.5 648 L301.5 647.9 L303.5 647.9 L305.5 647.9 L307.5 647.9 L309.5 647.9 L311.5 647.9 L313.5 647.9 L315.5 647.9 L317.5 647.8 L319.5 647.8 L321.5 647.8 L323.5 647.8 L325.5 647.8 L327.5 647.7 L329.5 647.7 L331.5 647.7 L333.5 647.6 L335.5 647.6 L337.5 647.5 L339.5 647.5 L341.5 647.4 L343.5 647.4 L345.5 647.3 L347.5 647.2 L349.5 647.2 L351.5 647.1 L353.5 647 L355.5 646.9 L357.5 646.8 L359.5 646.8 L361.5 646.7 L363.5 646.5 L365.5 646.4 L367.5 646.3 L369.5 646.2 L371.5 646.1 L373.5 646 L375.5 645.8 L377.5 645.7 L379.5 645.6 L381.5 645.4 L383.5 645.3 L385.5 645.1 L387.5 644.9 L389.5 644.8 L391.5 644.6 L393.5 644.4 L395.5 644.2 L397.5 644 L399.5 643.8 L401.5 643.6 L403.5 643.4 L405.5 643.2 L407.5 643 L409.5 642.8 L411.5 642.5 L413.5 642.3 L415.5 642 L417.5 641.8 L419.5 641.5 L421.5 641.3 L423.5 641 L425.5 640.7 L427.5 640.4 L429.5 640.1 L431.5 639.8 L433.5 639.5 L435.5 639.1 L437.5 638.8 L439.5 638.5 L441.5 638.1 L443.5 637.8 L445.5 637.5 L447.5 637.2 L449.5 636.8 L451.5 636.5 L453.5 636.2 L455.5 635.9 L457.5 635.5 L459.5 635.2 L461.5 634.9 L463.5 634.6 L465.5 634.2 L467.5 633.9 L469.5 633.6 L471.5 633.2 L473.5 632.9 L475.5 632.6 L477.5 632.3 L479.5 631.9 L481.5 631.6 L483.5 631.3 L485.5 630.9 L487.5 630.6 L489.5 630.3 L491.5 629.9 L493.5 629.6 L495.5 629.2 L497.5 628.9 L499.5 628.5 L501.5 628.2 L503.5 627.8 L505.5 627.5 L507.5 627.1 L509.5 626.8 L511.5 626.5 L513.5 626.1 L515.5 625.8 L517.5 625.4 L519.5 625.1 L521.5 624.7 L523.5 624.4 L525.5 624.1 L527.5 623.7 L529.5 623.4 L531.5 623.1 L533.5 622.8 L535.5 622.5 L537.5 622.3 L539.5 622 L541.5 621.8 L543.5 621.7 L545.5 621.5 L547.5 621.4 L548.6 621.3 M92.5 89.1 L94.5 88.8 L96.5 88.5 L98.5 88.2 L100.5 87.9 L102.5 87.6 L104.5 87.3 L106.5 87 L108.5 86.7 L110.5 86.4 L112.5 86.2 L114.5 85.9 L116.5 85.6 L118.5 85.4 L120.5 85.1 L122.5 84.8 L124.5 84.6 L126.5 84.3 L128.5 84.1 L130.5 83.8 L132.5 83.5 L134.5 83.3 L136.5 83 L138.5 82.8 L140.5 82.5 L142.5 82.3 L144.5 82 L146.5 81.8 L148.5 81.6 L150.5 81.3 L152.5 81.1 L154.5 80.9 L156.5 80.7 L158.5 80.5 L160.5 80.3 L162.5 80.2 L164.5 80 L166.5 79.9 L168.5 79.7 L170.5 79.6 L172.5 79.5 L174.5 79.4 L176.5 79.3 L178.5 79.2 L180.5 79.1 L182.5 79 L184.5 78.9 L186.5 78.8 L188.5 78.7 L190.5 78.6 L192.5 78.5 L194.5 78.4 L196.5 78.4 L198.5 78.4 L200.5 78.3 L202.5 78.3 L204.5 78.3 L206.5 78.3 L208.5 78.3 L210.5 78.3 L212.5 78.4 L214.5 78.4 L216.5 78.5 L218.5 78.5 L220.5 78.6 L222.5 78.7 L224.5 78.8 L226.5 78.9 L228.5 79.1 L230.5 79.2 L232.5 79.3 L234.5 79.5 L236.5 79.6 L238.5 79.7 L240.5 79.9 L242.5 80 L244.5 80.1 L246.5 80.3 L248.5 80.4 L250.5 80.5 L252.5 80.7 L254.5 80.9 L256.5 81 L258.5 81.2 L260.5 81.4 L262.5 81.7 L264.5 81.9 L266.5 82.1 L268.5 82.3 L270.5 82.6 L272.5 82.8 L274.5 83.1 L276.5 83.3 L278.5 83.5 L280.5 83.8 L282.5 84.1 L284.5 84.3 L286.5 84.6 L288.5 84.9 L290.5 85.1 L292.5 85.4 L294.5 85.7 L296.5 86 L298.5 86.4 L300.5 86.7 L302.5 87.1 L304.5 87.5 L306.5 87.9 L308.5 88.3 L310.5 88.8 L312.5 89.4 L314.5 89.9 L316.5 90.6 L318.5 91.2 L320.5 92 L322 92.5 L323.5 93.1 L325 93.7 L326.5 94.4 L328 95 L329.5 95.7 L331 96.4 L332.5 97.2 L334 97.9 L335.5 98.7 L337 99.5 L338.5 100.3 L340 101.2 L341.5 102 L343 102.9 L344.5 103.8 L346 104.8 L347.5 105.8 L349 106.8 L350.5 107.9 L352 109 L353.5 110.1 L355 111.2 L356.5 112.4 L358 113.6 L359.5 114.9 L361 116.1 L362.5 117.4 L364 118.7 L365.5 120 L366.7 121.1 L367.9 122.1 L369.2 123.3 L370.8 124.7 L372.2 126 L373.8 127.2 L375.2 128.5 L376.8 129.8 L378.2 131 L379.8 132.2 L381.2 133.4 L382.8 134.6 L384.2 135.8 L385.8 137 L387.2 138.1 L388.8 139.3 L390.2 140.5 L391.8 141.7 L393.2 142.9 L394.8 144.1 L396.2 145.3 L397.8 146.6 L399.2 147.8 L400.8 149.1 L402.2 150.4 L403.6 151.6 L404.8 152.7 L406 153.8 L407.2 155 L408.4 156.1 L409.6 157.3 L410.8 158.5 L412 159.8 L413.2 161.1 L414.4 162.4 L415.6 163.7 L416.8 165 L418 166.4 L419.2 167.8 L420.4 169.2 L421.6 170.6 L422.8 172.1 L424 173.5 L425.2 175 L426.4 176.5 L427.6 177.9 L428.8 179.4 L430 180.9 L431.2 182.4 L432.4 183.8 L433.6 185.3 L434.8 186.8 L436 188.3 L436.9 189.4 M442.9 196.8 L444.1 198.2 L445.3 199.7 L446.5 201.2 L447.7 202.7 L448.9 204.1 L450.1 205.6 L451.3 207.1 L452.5 208.5 L453.7 210 L454.9 211.5 L456.1 212.9 L457.3 214.4 L458.5 215.9 L459.7 217.3 L460.9 218.8 L462.1 220.2 L463.3 221.7 L464.5 223.1 L465.7 224.6 L466.9 226 L468.1 227.4 L469.3 228.9 L470.5 230.3 L471.7 231.8 L472.9 233.2 L474.1 234.7 L475.3 236.1 L476.5 237.6 L477.7 239 L478.9 240.5 L480.1 241.9 L481.3 243.4 L482.5 244.9 L483.7 246.3 L484.9 247.8 L486.1 249.3 L487.3 250.7 L488.5 252.2 L489.7 253.7 L490.9 255.1 L492.1 256.6 L493.3 258.1 L494.5 259.6 L495.7 261 L496.9 262.5 L498.1 264 L499.3 265.5 L500.5 267 L501.7 268.4 L502.9 269.9 L504.1 271.4 L505.3 272.9 L506.5 274.4 L507.7 275.8 L508.9 277.3 L510.1 278.8 L511.2 280.2 L512.2 281.5 L513.2 282.8 L514.2 284 L515.2 285.3 L516.2 286.6 L517.2 287.9 L518.2 289.2 L519.2 290.6 L520.2 291.9 L521.2 293.3 L522.2 294.7 L523.2 296.1 L524.2 297.5 L525.2 298.9 L526.2 300.4 L527.2 301.9 L528.2 303.3 L529.2 304.8 L530.2 306.3 L531.2 307.8 L532.2 309.3 L533.2 310.9 L534.2 312.4 L535.2 313.9 L536.2 315.4 L536.9 317 L537.3 318.1 M92.5 534.7 L94 533.5 L95.5 532.3 L97 531.1 L98.5 529.9 L100 528.7 L101.5 527.6 L103 526.4 L104.5 525.2 L106 524 L107.5 522.8 L109 521.6 L110.5 520.5 L112 519.3 L113.5 518.1 L115 516.9 L116.5 515.7 L118 514.6 L119.5 513.4 L121 512.2 L122.5 511.1 L124 509.9 L125.5 508.7 L127 507.6 L128.5 506.4 L130 505.3 L131.5 504.1 L133 503 L134.5 501.9 L136 500.8 L137.5 499.6 L139 498.5 L140.5 497.5 L142 496.4 L143.5 495.3 L145 494.2 L146.5 493.1 L148 492.1 L149.5 491 L151 490 L152.5 488.9 L154 487.9 L155.5 486.8 L157 485.8 L158.5 484.8 L160 483.7 L161.5 482.7 L163 481.6 L164.5 480.6 L166 479.6 L167.5 478.5 L169 477.5 L170.5 476.4 L172 475.4 L173.5 474.4 L175 473.3 L176.5 472.3 L178 471.2 L179.5 470.2 L181 469.2 L182.5 468.1 L184 467.1 L185.5 466 L187 465 L188.5 464 L190 462.9 L191.5 461.9 L193 460.9 L194.5 459.8 L196 458.8 L197.5 457.8 L199 456.7 L200.5 455.7 L202 454.7 L203.5 453.7 L205 452.6 L206.5 451.6 L208 450.6 L209.5 449.6 L211 448.6 L212.5 447.6 L214 446.6 L215.5 445.6 L217 444.6 L218.5 443.6 L220 442.6 L221.5 441.6 L223 440.7 L224.5 439.7 L226 438.8 L227.5 437.8 L229 436.9 L230.5 436 L232 435.1 L233.5 434.3 L235 433.4 L236.5 432.5 L238 431.7 L239.5 430.9 L241 430 L242.5 429.2 L244 428.4 L245.5 427.7 L247 426.9 L248.5 426.1 L250 425.4 L251.5 424.6 L253 423.9 L254.5 423.2 L256 422.5 L257.5 421.8 L259 421.1 L260.5 420.4 L262 419.8 L263.5 419.1 L265 418.5 L266.5 417.9 L268 417.2 L269.5 416.6 L271 416 L272.5 415.4 L274 414.8 L275.5 414.3 L277 413.7 L279 413 L281 412.2 L283 411.5 L285 410.8 L287 410.1 L289 409.4 L291 408.7 L293 408 L295 407.3 L297 406.6 L299 405.9 L300.6 405.3 L302.1 404.7 L303.6 404.1 L305.1 403.5 L306.6 403 L308.1 402.4 L309.6 401.8 L311.1 401.2 L312.6 400.7 L314.1 400.1 L316 399.4 L318 398.7 L320 398 L322 397.3 L324 396.7 L326 396 L328 395.4 L330 394.8 L332 394.2 L334 393.7 L336 393.1 L338 392.6 L340 392.2 L342 391.7 L344 391.3 L346 391 L348 390.6 L350 390.3 L352 390 L354 389.7 L356 389.4 L358 389.1 L360 388.8 L362 388.5 L364 388.2 L366 387.8 L368 387.5 L370 387.2 L372 386.8 L374 386.5 L376 386.1 L378 385.8 L380 385.5 L382 385.2 L384 384.9 L386 384.6 L388 384.3 L390 384.1 L392 383.8 L394 383.5 L396 383.3 L398 383 L400 382.8 L402 382.6 L404 382.4 L406 382.2 L408 382 L410 381.8 L412 381.7 L414 381.6 L416 381.6 L418 381.5 L420 381.6 L422 381.6 L424 381.7 L426 381.8 L428 381.9 L430 382.1 L432 382.2 L434 382.4 L436 382.6 L438 382.9 L440 383.1 L442 383.4 L444 383.7 L446 384.1 L448 384.4 L450 384.8 L452 385.2 L454 385.6 L456 386.1 L458 386.5 L460 386.9 L462 387.4 L464 387.9 L466 388.4 L468 388.9 L470 389.4 L472 390 L474 390.5 L476 391.1 L478 391.7 L480 392.4 L482 393 L484 393.7 L486 394.5 L487.8 395.1 L489.2 395.7 L490.8 396.3 L492.2 396.9 L493.8 397.5 L495.2 398.1 L496.8 398.7 L498.2 399.3 L499.8 399.9 L501.2 400.5 L502.8 401.1 L504.2 401.7 L505.8 402.3 L507.2 402.9 L508.8 403.5 L510.2 404.1 L511.8 404.8 L513.2 405.4 L514.8 406 L516.2 406.7 L517.8 407.4 L519.2 408.1 L520.8 408.8 L522.2 409.6 L523.8 410.4 L525.2 411.2 L526.8 412 L528.2 412.8 L529.8 413.6 L531.2 414.4 L532.8 415.2 L534.2 416 L535.8 416.7 L537 417.9 M92.5 655.5 L94.5 655.5 L96.5 655.5 L98.5 655.5 L100.5 655.5 L102.5 655.6 L104.5 655.6 L106.5 655.6 L108.5 655.6 L110.5 655.6 L112.5 655.6 L114.5 655.6 L116.5 655.6 L118.5 655.6 L120.5 655.6 L122.5 655.7 L124.5 655.7 L126.5 655.7 L128.5 655.7 L130.5 655.7 L132.5 655.7 L134.5 655.7 L136.5 655.7 L138.5 655.7 L140.5 655.7 L142.5 655.7 L144.5 655.8 L146.5 655.8 L148.5 655.8 L150.5 655.8 L152.5 655.8 L154.5 655.8 L156.5 655.8 L158.5 655.8 L160.5 655.8 L162.5 655.8 L164.5 655.8 L166.5 655.8 L168.5 655.8 L170.5 655.8 L172.5 655.9 L174.5 655.9 L176.5 655.9 L178.5 655.9 L180.5 655.9 L182.5 655.9 L184.5 655.9 L186.5 655.9 L188.5 655.9 L190.5 655.9 L192.5 655.9 L194.5 655.9 L196.5 655.9 L198.5 656 L200.5 656 L202.5 656 L204.5 656 L206.5 656 L208.5 656 L210.5 656 L212.5 656 L214.5 656 L216.5 656 L218.5 656.1 L220.5 656.1 L222.5 656.1 L224.5 656.1 L226.5 656.1 L228.5 656.1 L230.5 656.1 L232.5 656.1 L234.5 656.2 L236.5 656.2 L238.5 656.2 L240.5 656.2 L242.5 656.2 L244.5 656.2 L246.5 656.2 L248.5 656.3 L250.5 656.3 L252.5 656.3 L254.5 656.3 L256.5 656.3 L258.5 656.3 L260.5 656.3 L261.5 656.4 M275.5 656.4 L277.5 656.4 L279.5 656.4 L281.5 656.4 L283.5 656.4 L285.5 656.3 L287.5 656.3 L289.5 656.3 L291.5 656.3 L293.5 656.3 L295.5 656.3 L297.5 656.2 L299.5 656.2 L301.5 656.2 L303.5 656.2 L305.5 656.1 L307.5 656.1 L309.5 656.1 L311.5 656 L313.5 656 L315.5 656 L317.5 655.9 L319.5 655.9 L321.5 655.8 L323.5 655.8 L325.5 655.7 L327.5 655.7 L329.5 655.6 L331.5 655.5 L333.5 655.5 L335.5 655.4 L337.5 655.3 L339.5 655.2 L341.5 655.1 L343.5 655 L345.5 654.9 L347.5 654.8 L349.5 654.7 L351.5 654.6 L353.5 654.4 L355.5 654.3 L357.5 654.2 L359.5 654 L361.5 653.9 L363.5 653.7 L365.5 653.6 L367.5 653.4 L369.5 653.3 L371.5 653.1 L373.5 652.9 L375.5 652.7 L377.5 652.6 L379.5 652.4 L381.5 652.2 L383.5 652 L385.5 651.8 L387.5 651.5 L389.5 651.3 L391.5 651.1 L393.5 650.9 L395.5 650.6 L397.5 650.4 L399.5 650.1 L401.5 649.9 L403.5 649.6 L405.5 649.4 L407.5 649.1 L409.5 648.8 L411.5 648.5 L413.5 648.2 L415.5 647.9 L417.5 647.6 L419.5 647.3 L421.5 646.9 L423.5 646.6 L425.5 646.2 L427.5 645.9 L429.5 645.5 L431.5 645.1 L433.5 644.8 L435.5 644.4 L437.5 644 L439.5 643.6 L441.5 643.3 L443.5 642.9 L445.5 642.5 L447.5 642.1 L449.5 641.7 L451.5 641.3 L453.5 641 L455.5 640.6 L457.5 640.2 L459.5 639.9 L461.5 639.5 L463.5 639.2 L465.5 638.8 L467.5 638.4 L469.5 638.1 L471.5 637.7 L473.5 637.4 L475.5 637 L477.5 636.7 L479.5 636.3 L481.5 636 L483.5 635.6 L485.5 635.3 L487.5 634.9 L489.5 634.6 L491.5 634.2 L493.5 633.9 L495.5 633.5 L497.5 633.2 L499.5 632.8 L501.5 632.5 L503.5 632.2 L505.5 631.8 L507.5 631.5 L509.5 631.2 L511.5 630.9 L513.5 630.6 L515.5 630.3 L517.5 630 L519.5 629.7 L521.5 629.5 L523.5 629.2 L525.5 629 L527.5 628.7 L529.5 628.5 L531.5 628.3 L533.5 628.1 L535.4 627.8 M114.8 98.6 L116.8 98.4 L118.8 98.2 L120.8 98 L122.8 97.8 L124.8 97.7 L126.8 97.6 L128.8 97.4 L130.8 97.3 L132.8 97.2 L134.8 97.1 L136.8 97 L138.8 96.9 L140.8 96.7 L142.8 96.6 L144.8 96.5 L146.8 96.4 L148.8 96.2 L150.8 96.1 L152.8 96 L154.8 95.8 L156.8 95.7 L158.8 95.6 L160.8 95.5 L162.8 95.4 L164.8 95.3 L166.8 95.2 L168.8 95.1 L170.8 95 L172.8 94.9 L174.8 94.8 L176.8 94.7 L178.8 94.6 L180.8 94.5 L182.8 94.4 L184.8 94.3 L186.8 94.2 L188.8 94.1 L190.8 94 L192.8 93.9 L194.8 93.8 L196.8 93.8 L198.8 93.7 L200.8 93.6 L202.8 93.6 L204.8 93.5 L206.8 93.5 L208.8 93.4 L210.8 93.4 L212.8 93.3 L214.8 93.3 L216.8 93.2 L218.8 93.2 L220.8 93.2 L222.8 93.1 L224.8 93.1 L226.8 93.1 L228.8 93.1 L230.8 93.1 L232.8 93.1 L234.8 93.1 L236.8 93 L238.8 93 L240.8 93 L242.8 93 L244.8 93.1 L246.8 93.1 L248.8 93.1 L250.8 93.2 L252.8 93.2 L254.8 93.3 L256.8 93.4 L258.8 93.5 L260.8 93.7 L262.8 93.8 L264.8 94 L266.8 94.2 L268.8 94.4 L270.8 94.6 L272.8 94.8 L274.8 95 L276.8 95.2 L278.8 95.5 L280.8 95.8 L282.8 96 L284.8 96.4 L286.8 96.7 L288.8 97 L290.8 97.4 L292.8 97.8 L294.8 98.2 L296.8 98.6 L298.8 99.1 L300.8 99.6 L302.8 100.1 L304.8 100.7 L306.8 101.3 L308.8 101.9 L310.8 102.6 L312.8 103.3 L314.3 103.8 L315.8 104.4 L317.3 105 L318.8 105.7 L320.3 106.4 L321.8 107.1 L323.3 107.8 L324.8 108.6 L326.3 109.4 L327.8 110.2 L329.3 111.1 L330.8 112 L332.3 112.9 L333.8 113.9 L335.3 115 L336.8 116.1 L338.3 117.3 L339.8 118.6 L341.3 119.9 L342.5 120.9 L343.7 122 L344.9 123.1 L346.1 124.1 L347.3 125.2 L348.8 126.5 L350.3 127.8 L351.8 129 L353.3 130.2 L354.8 131.4 L356.3 132.5 L357.8 133.6 L359.3 134.6 L360.8 135.7 L362.3 136.7 L363.8 137.8 L365.3 138.8 L366.8 139.9 L368.3 140.9 L369.8 142 L371.3 143.1 L372.8 144.2 L374.3 145.3 L375.8 146.4 L377.3 147.5 L378.8 148.7 L380.3 149.8 L381.8 151 L383.3 152.1 L384.8 153.3 L386.3 154.5 L387.8 155.6 L389.3 156.9 L390.8 158.1 L392.3 159.3 L393.8 160.6 L395.3 161.9 L396.5 163 L397.7 164.1 L398.9 165.3 L400.1 166.4 L401.3 167.6 L402.5 168.8 L403.7 170 L404.9 171.3 L406.1 172.6 L407.3 173.9 L408.5 175.2 L409.7 176.6 L410.9 177.9 L412.1 179.3 L413.3 180.7 L414.5 182.1 L415.7 183.6 L416.9 185 L418.1 186.4 L419.3 187.8 L420.5 189.3 L421.7 190.7 L422.9 192.1 L424.1 193.6 L425.3 195 L426.5 196.4 L427.7 197.9 L428.9 199.3 L430.1 200.7 L430.4 201.1 M432.8 204 L434 205.4 L435.2 206.8 L436.4 208.3 L437.6 209.7 L438.8 211.1 L440 212.5 L441.2 214 L442.4 215.4 L443.6 216.8 L444.8 218.2 L446 219.6 L447.2 221.1 L448.4 222.5 L449.6 223.9 L450.8 225.3 L452 226.7 L453.2 228.1 L454.4 229.5 L455.6 230.9 L456.8 232.3 L458 233.7 L459.2 235.1 L460.4 236.5 L461.6 237.9 L462.8 239.3 L464 240.7 L465.2 242.2 L466.4 243.6 L467.6 245 L468.8 246.4 L470 247.8 L471.2 249.2 L472.4 250.6 L473.6 252.1 L474.8 253.5 L476 254.9 L477.2 256.3 L478.4 257.8 L479.6 259.2 L480.8 260.6 L482 262.1 L483.2 263.5 L484.4 264.9 L485.6 266.4 L486.8 267.8 L488 269.2 L489.2 270.7 L490.4 272.1 L491.6 273.5 L492.8 275 L494 276.4 L495.2 277.9 L496.4 279.3 L497.6 280.8 L498.8 282.2 L500 283.7 L501.2 285.2 L502.3 286.5 L503.3 287.8 L504.3 289.1 L505.3 290.3 L506.3 291.6 L507.3 292.9 L508.3 294.3 L509.3 295.6 L510.3 297 L511.3 298.4 L512.3 299.8 L513.3 301.2 L514.3 302.7 L515.3 304.2 L516.3 305.7 L517.3 307.2 L518.3 308.7 L519.3 310.3 L520.3 311.8 L521.3 313.4 L522.3 314.9 L523.3 316.5 L524.2 318.1 M92.5 539.5 L94 538.4 L95.5 537.3 L97 536.2 L98.5 535.1 L100 534 L101.5 532.9 L103 531.9 L104.5 530.8 L106 529.7 L107.5 528.6 L109 527.5 L110.5 526.4 L112 525.3 L113.5 524.2 L115 523.2 L116.5 522.1 L118 521 L119.5 519.9 L121 518.9 L122.5 517.8 L124 516.7 L125.5 515.6 L127 514.6 L128.5 513.5 L130 512.5 L131.5 511.4 L133 510.4 L134.5 509.3 L136 508.3 L137.5 507.3 L139 506.3 L140.5 505.3 L142 504.3 L143.5 503.3 L145 502.3 L146.5 501.3 L148 500.3 L149.5 499.4 L151 498.4 L152.5 497.4 L154 496.5 L155.5 495.5 L157 494.5 L158.5 493.6 L160 492.6 L161.5 491.6 L163 490.7 L164.5 489.7 L166 488.7 L167.5 487.8 L169 486.8 L170.5 485.8 L172 484.9 L173.5 483.9 L175 482.9 L176.5 482 L178 481 L179.5 480 L181 479.1 L182.5 478.1 L184 477.1 L185.5 476.2 L187 475.2 L188.5 474.2 L190 473.3 L191.5 472.3 L193 471.3 L194.5 470.4 L196 469.4 L197.5 468.5 L199 467.5 L200.5 466.5 L202 465.6 L203.5 464.6 L205 463.7 L206.5 462.7 L208 461.8 L209.5 460.8 L211 459.9 L212.5 459 L214 458 L215.5 457.1 L217 456.2 L218.5 455.3 L220 454.4 L221.5 453.5 L223 452.6 L224.5 451.8 L226 450.9 L227.5 450.1 L229 449.3 L230.5 448.4 L232 447.6 L233.5 446.8 L235 446.1 L236.5 445.3 L238 444.5 L239.5 443.8 L241 443.1 L242.5 442.3 L244 441.6 L245.5 440.9 L247 440.2 L248.5 439.6 L250 438.9 L251.5 438.2 L253 437.6 L254.5 436.9 L256 436.3 L257.5 435.7 L259 435.1 L260.5 434.5 L262 433.9 L263.5 433.3 L265 432.7 L266.5 432.1 L268 431.6 L269.5 431 L271.5 430.3 L273.5 429.5 L275.5 428.8 L277.5 428.1 L279.5 427.4 L281.5 426.7 L283.5 426 L285.5 425.3 L287.5 424.6 L289.5 423.8 L291.2 423.2 L292.8 422.6 L294.2 422.1 L295.8 421.5 L297.2 420.9 L298.8 420.3 L300.2 419.7 L301.8 419.1 L303.2 418.5 L304.8 417.9 L306.2 417.3 L307.8 416.7 L309.2 416.1 L310.8 415.6 L312.2 415 L314 414.4 L316 413.6 L318 412.9 L320 412.2 L322 411.6 L324 410.9 L326 410.3 L328 409.7 L330 409.1 L332 408.5 L334 408 L336 407.5 L338 407 L340 406.5 L342 406.1 L344 405.6 L346 405.2 L348 404.8 L350 404.5 L352 404.1 L354 403.8 L356 403.5 L358 403.1 L360 402.8 L362 402.5 L364 402.3 L366 402 L368 401.7 L370 401.5 L372 401.3 L374 401 L376 400.8 L378 400.7 L380 400.5 L382 400.4 L384 400.2 L386 400.1 L388 400 L390 399.9 L392 399.8 L394 399.7 L396 399.7 L398 399.6 L400 399.6 L402 399.6 L404 399.6 L406 399.7 L408 399.8 L410 399.8 L412 400 L414 400.1 L416 400.2 L418 400.4 L420 400.6 L422 400.7 L424 400.9 L426 401.1 L428 401.4 L430 401.6 L432 401.9 L434 402.2 L436 402.5 L438 402.9 L440 403.2 L442 403.6 L444 404 L446 404.4 L448 404.8 L450 405.2 L452 405.6 L454 406.1 L456 406.6 L458 407.1 L460 407.6 L462 408.2 L464 408.7 L466 409.3 L468 410 L470 410.6 L472 411.3 L474 412 L476 412.7 L478 413.4 L479.9 414.1 L481.4 414.6 L482.9 415.2 L484.4 415.8 L485.9 416.4 L487.4 416.9 L488.9 417.5 L490.4 418.1 L491.9 418.7 L493.4 419.3 L494.9 420 L496.4 420.6 L497.9 421.2 L499.4 421.9 L500.9 422.5 L502.4 423.2 L503.9 423.8 L505.4 424.5 L506.9 425.2 L508.4 425.8 L509.9 426.5 L511.4 427.2 L512.9 427.8 L514.4 428.4 L515.9 429.1 L517.4 429.6 L519 430.3 L521 431 L523 431.6 L525 432.6 M92.5 661 L94.5 661 L96.5 661 L98.5 661 L100.5 661 L102.5 661 L104.5 661.1 L106.5 661.1 L108.5 661.1 L110.5 661.1 L112.5 661.1 L114.5 661.1 L116.5 661.1 L118.5 661.1 L120.5 661.1 L122.5 661.1 L124.5 661.1 L126.5 661.1 L128.5 661.1 L130.5 661.2 L132.5 661.2 L134.5 661.2 L136.5 661.2 L138.5 661.2 L140.5 661.2 L142.5 661.2 L144.5 661.2 L146.5 661.2 L148.5 661.2 L150.5 661.2 L152.5 661.2 L154.5 661.2 L156.5 661.2 L158.5 661.2 L160.5 661.2 L162.5 661.3 L164.5 661.3 L166.5 661.3 L168.5 661.3 L170.5 661.3 L172.5 661.3 L174.5 661.3 L176.5 661.3 L178.5 661.3 L180.5 661.3 L182.5 661.3 L184.5 661.3 L186.5 661.3 L188.5 661.3 L190.5 661.3 L192.5 661.4 L194.5 661.4 L196.5 661.4 L198.5 661.4 L200.5 661.4 L202.5 661.4 L204.5 661.4 L206.5 661.4 L208.5 661.4 L210.5 661.4 L212.5 661.4 L214.5 661.5 L216.5 661.5 L218.5 661.5 L220.5 661.5 L222.5 661.5 L224.5 661.5 L226.5 661.5 L228.5 661.5 L230.5 661.6 L232.5 661.6 L234.5 661.6 L236.5 661.6 L238.5 661.6 L240.5 661.6 L242.5 661.6 L244.5 661.7 L246.5 661.7 L248.5 661.7 L250.5 661.7 L252.5 661.7 L254.5 661.7 L256.5 661.7 L258.5 661.8 L259.5 661.8 M273.5 661.8 L275.5 661.8 L277.5 661.8 L279.5 661.8 L281.5 661.8 L283.5 661.7 L285.5 661.7 L287.5 661.7 L289.5 661.7 L291.5 661.7 L293.5 661.7 L295.5 661.7 L297.5 661.6 L299.5 661.6 L301.5 661.6 L303.5 661.6 L305.5 661.6 L307.5 661.5 L309.5 661.5 L311.5 661.5 L313.5 661.4 L315.5 661.4 L317.5 661.3 L319.5 661.3 L321.5 661.2 L323.5 661.2 L325.5 661.1 L327.5 661 L329.5 661 L331.5 660.9 L333.5 660.8 L335.5 660.7 L337.5 660.6 L339.5 660.5 L341.5 660.4 L343.5 660.3 L345.5 660.2 L347.5 660.1 L349.5 660 L351.5 659.8 L353.5 659.7 L355.5 659.6 L357.5 659.4 L359.5 659.3 L361.5 659.1 L363.5 659 L365.5 658.8 L367.5 658.6 L369.5 658.5 L371.5 658.3 L373.5 658.1 L375.5 657.9 L377.5 657.7 L379.5 657.5 L381.5 657.3 L383.5 657 L385.5 656.8 L387.5 656.6 L389.5 656.4 L391.5 656.1 L393.5 655.9 L395.5 655.6 L397.5 655.3 L399.5 655.1 L401.5 654.8 L403.5 654.5 L405.5 654.2 L407.5 653.9 L409.5 653.5 L411.5 653.2 L413.5 652.9 L415.5 652.5 L417.5 652.2 L419.5 651.8 L421.5 651.4 L423.5 651.1 L425.5 650.7 L427.5 650.3 L429.5 649.9 L431.5 649.5 L433.5 649.1 L435.5 648.7 L437.5 648.3 L439.5 647.9 L441.5 647.6 L443.5 647.2 L445.5 646.8 L447.5 646.5 L449.5 646.1 L451.5 645.8 L453.5 645.5 L455.5 645.1 L457.5 644.8 L459.5 644.5 L461.5 644.2 L463.5 643.8 L465.5 643.5 L467.5 643.1 L469.5 642.8 L471.5 642.4 L473.5 642.1 L475.5 641.7 L477.5 641.4 L479.5 641 L481.5 640.7 L483.5 640.3 L485.5 640 L487.5 639.7 L489.5 639.3 L491.5 639 L493.5 638.7 L495.5 638.3 L497.5 638 L499.5 637.7 L501.5 637.4 L503.5 637.1 L505.5 636.7 L507.5 636.4 L509.5 636.1 L511.5 635.9 L513.5 635.6 L515.5 635.3 L517.5 635 L519.5 634.8 L520.5 634.5 M92.5 114 L94.5 113.8 L96.5 113.6 L98.5 113.3 L100.5 113.1 L102.5 112.9 L104.5 112.7 L106.5 112.5 L108.5 112.3 L110.5 112.1 L112.5 111.9 L114.5 111.7 L116.5 111.5 L118.5 111.3 L120.5 111.1 L122.5 110.9 L124.5 110.7 L126.5 110.5 L128.5 110.3 L130.5 110.1 L132.5 109.9 L134.5 109.7 L136.5 109.5 L138.5 109.3 L140.5 109.1 L142.5 108.9 L144.5 108.7 L146.5 108.5 L148.5 108.3 L150.5 108.1 L152.5 108 L154.5 107.8 L156.5 107.6 L158.5 107.5 L160.5 107.4 L162.5 107.2 L164.5 107.1 L166.5 107 L168.5 106.9 L170.5 106.7 L172.5 106.6 L174.5 106.5 L176.5 106.4 L178.5 106.3 L180.5 106.2 L182.5 106.1 L184.5 106 L186.5 105.9 L188.5 105.8 L190.5 105.7 L192.5 105.6 L194.5 105.5 L196.5 105.4 L198.5 105.4 L200.5 105.3 L202.5 105.3 L204.5 105.2 L206.5 105.2 L208.5 105.1 L210.5 105.1 L212.5 105.1 L214.5 105 L216.5 105 L218.5 105 L220.5 105 L222.5 105 L224.5 105 L226.5 105.1 L228.5 105.1 L230.5 105.1 L232.5 105.1 L234.5 105.1 L236.5 105.2 L238.5 105.2 L240.5 105.2 L242.5 105.3 L244.5 105.3 L246.5 105.4 L248.5 105.5 L250.5 105.6 L252.5 105.7 L254.5 105.8 L256.5 106 L258.5 106.2 L260.5 106.4 L262.5 106.6 L264.5 106.8 L266.5 107 L268.5 107.2 L270.5 107.5 L272.5 107.7 L274.5 108 L276.5 108.3 L278.5 108.6 L280.5 108.9 L282.5 109.3 L284.5 109.7 L286.5 110.1 L288.5 110.5 L290.5 111 L292.5 111.4 L294.5 111.9 L296.5 112.5 L298.5 113.1 L300.5 113.7 L302.5 114.3 L304.5 115 L306.5 115.7 L308.5 116.4 L310 117 L311.5 117.6 L313 118.2 L314.5 118.8 L316 119.5 L317.5 120.2 L319 120.8 L320.5 121.6 L322 122.3 L323.5 123 L325 123.7 L326.5 124.5 L328 125.3 L329.5 126 L331 126.8 L332.5 127.6 L334 128.4 L335.5 129.2 L337 130.1 L338.5 130.9 L340 131.8 L341.5 132.6 L343 133.5 L344.5 134.4 L346 135.3 L347.5 136.2 L349 137.1 L350.5 138.1 L352 139 L353.5 140 L355 141 L356.5 142 L358 143 L359.5 144 L361 145.1 L362.5 146.1 L364 147.2 L365.5 148.3 L367 149.3 L368.5 150.4 L370 151.5 L371.5 152.7 L373 153.8 L374.5 154.9 L376 156.1 L377.5 157.2 L379 158.4 L380.5 159.6 L382 160.8 L383.5 162 L385 163.3 L386.5 164.6 L387.7 165.7 L388.9 166.8 L390.1 167.9 L391.3 169 L392.5 170.2 L393.7 171.4 L394.9 172.6 L396.1 173.9 L397.3 175.2 L398.5 176.5 L399.7 177.8 L400.9 179.2 L402.1 180.5 L403.3 181.9 L404.5 183.3 L405.7 184.7 L406.9 186.1 L408.1 187.5 L409.3 188.9 L410.5 190.3 L411.7 191.7 L412.9 193.2 L414.1 194.6 L415.3 196 L416.5 197.4 L417.7 198.8 L418.9 200.3 L420.1 201.7 L421.3 203.1 L421.9 203.8 M430.6 214.2 L431.8 215.6 L433 217 L434.2 218.5 L435.4 219.9 L436.6 221.3 L437.8 222.7 L439 224.1 L440.2 225.6 L441.4 227 L442.6 228.4 L443.8 229.8 L445 231.2 L446.2 232.6 L447.4 234.1 L448.6 235.5 L449.8 236.9 L451 238.3 L452.2 239.8 L453.4 241.2 L454.6 242.6 L455.8 244.1 L457 245.5 L458.2 247 L459.4 248.4 L460.6 249.9 L461.8 251.3 L463 252.8 L464.2 254.2 L465.4 255.7 L466.6 257.2 L467.8 258.6 L469 260.1 L470.2 261.6 L471.4 263 L472.6 264.5 L473.8 266 L475 267.5 L476.2 269 L477.4 270.5 L478.6 271.9 L479.8 273.4 L481 274.9 L482.2 276.4 L483.2 277.7 L484.2 279 L485.2 280.3 L486.2 281.5 L487.2 282.8 L488.2 284.1 L489.2 285.4 L490.2 286.7 L491.2 288 L492.2 289.3 L493.2 290.7 L494.2 292 L495.2 293.4 L496.2 294.8 L497.2 296.2 L498.2 297.6 L499.2 299 L500.2 300.4 L501.2 301.9 L502.2 303.3 L503.2 304.8 L504.2 306.2 L505.2 307.7 L506.2 309.1 L507.2 310.6 L508.2 312 L509.2 313.5 L510.2 314.9 L511 316.4 L511.1 318.1 M92.5 543 L94 542 L95.5 540.9 L97 539.9 L98.5 538.8 L100 537.8 L101.5 536.8 L103 535.7 L104.5 534.7 L106 533.7 L107.5 532.6 L109 531.6 L110.5 530.6 L112 529.5 L113.5 528.5 L115 527.5 L116.5 526.5 L118 525.5 L119.5 524.4 L121 523.4 L122.5 522.4 L124 521.4 L125.5 520.4 L127 519.4 L128.5 518.4 L130 517.4 L131.5 516.4 L133 515.4 L134.5 514.5 L136 513.5 L137.5 512.5 L139 511.6 L140.5 510.6 L142 509.7 L143.5 508.8 L145 507.9 L146.5 506.9 L148 506 L149.5 505.1 L151 504.2 L152.5 503.3 L154 502.4 L155.5 501.5 L157 500.6 L158.5 499.6 L160 498.7 L161.5 497.8 L163 496.9 L164.5 496 L166 495.1 L167.5 494.2 L169 493.3 L170.5 492.4 L172 491.5 L173.5 490.6 L175 489.7 L176.5 488.8 L178 487.9 L179.5 487.1 L181 486.2 L182.5 485.3 L184 484.4 L185.5 483.5 L187 482.6 L188.5 481.7 L190 480.9 L191.5 480 L193 479.1 L194.5 478.2 L196 477.4 L197.5 476.5 L199 475.6 L200.5 474.7 L202 473.9 L203.5 473 L205 472.1 L206.5 471.3 L208 470.4 L209.5 469.6 L211 468.7 L212.5 467.9 L214 467 L215.5 466.2 L217 465.4 L218.5 464.6 L220 463.8 L221.5 463 L223 462.2 L224.5 461.5 L226 460.7 L227.5 460 L229 459.2 L230.5 458.5 L232 457.8 L233.5 457.1 L235 456.4 L236.5 455.7 L238 455 L239.5 454.4 L241 453.7 L242.5 453.1 L244 452.5 L245.5 451.8 L247 451.2 L248.5 450.6 L250 450 L251.5 449.4 L253 448.9 L254.5 448.3 L256 447.7 L257.5 447.2 L259.5 446.4 L261.5 445.7 L263.5 445 L265.5 444.3 L267.5 443.6 L269.5 442.9 L271.5 442.3 L273.5 441.6 L275.5 440.9 L277.5 440.2 L279.5 439.6 L281.5 438.9 L283.5 438.2 L285.5 437.4 L287.5 436.7 L289 436.1 L290.5 435.6 L292 435 L293.5 434.4 L295 433.9 L296.5 433.3 L298 432.7 L299.5 432.1 L301 431.5 L302.5 431 L304 430.4 L306 429.7 L308 429 L310 428.3 L312 427.6 L314 426.9 L316 426.3 L318 425.6 L320 425 L322 424.4 L324 423.8 L326 423.3 L328 422.7 L330 422.2 L332 421.7 L334 421.2 L336 420.7 L338 420.3 L340 419.8 L342 419.4 L344 418.9 L346 418.5 L348 418.1 L350 417.6 L352 417.2 L354 416.8 L356 416.4 L358 416.1 L360 415.7 L362 415.3 L364 415 L366 414.7 L368 414.4 L370 414.2 L372 413.9 L374 413.7 L376 413.5 L378 413.3 L380 413.2 L382 413 L384 412.9 L386 412.8 L388 412.8 L390 412.8 L392 412.8 L394 412.8 L396 412.9 L398 413 L400 413.1 L402 413.3 L404 413.5 L406 413.7 L408 414 L410 414.2 L412 414.5 L414 414.7 L416 415 L418 415.3 L420 415.6 L422 415.9 L424 416.2 L426 416.6 L428 416.9 L430 417.3 L432 417.7 L434 418.1 L436 418.5 L438 418.9 L440 419.3 L442 419.7 L444 420.2 L446 420.6 L448 421.1 L450 421.6 L452 422.1 L454 422.6 L456 423.2 L458 423.7 L460 424.3 L462 424.9 L464 425.5 L466 426.1 L468 426.8 L470 427.4 L472 428.1 L474 428.8 L476 429.4 L478 430.1 L480 430.8 L482 431.4 L484 432.1 L486 432.8 L487.8 433.5 L489.2 434.1 L490.8 434.7 L492.2 435.3 L493.8 436 L495.2 436.7 L496.8 437.4 L498.2 438.2 L499.8 439 L501.2 439.8 L502.8 440.6 L504.2 441.4 L505.8 442.3 L507.2 443.1 L508.8 443.9 L509.7 445.2 M92.5 670.3 L94.5 670.3 L96.5 670.2 L98.5 670.2 L100.5 670.2 L102.5 670.1 L104.5 670.1 L106.5 670.1 L108.5 670 L110.5 670 L112.5 670 L114.5 669.9 L116.5 669.9 L118.5 669.9 L120.5 669.8 L122.5 669.8 L124.5 669.8 L126.5 669.7 L128.5 669.7 L130.5 669.7 L132.5 669.6 L134.5 669.6 L136.5 669.6 L138.5 669.6 L140.5 669.5 L142.5 669.5 L144.5 669.5 L146.5 669.4 L148.5 669.4 L150.5 669.4 L152.5 669.4 L154.5 669.3 L156.5 669.3 L158.5 669.3 L160.5 669.2 L162.5 669.2 L164.5 669.2 L166.5 669.2 L168.5 669.1 L170.5 669.1 L172.5 669.1 L174.5 669.1 L176.5 669.1 L178.5 669 L180.5 669 L182.5 669 L184.5 669 L186.5 669 L188.5 668.9 L190.5 668.9 L192.5 668.9 L194.5 668.9 L196.5 668.9 L198.5 668.9 L200.5 668.9 L202.5 668.8 L204.5 668.8 L206.5 668.8 L208.5 668.8 L210.5 668.8 L212.5 668.8 L214.5 668.8 L216.5 668.8 L218.5 668.8 L220.5 668.8 L222.5 668.8 L224.5 668.8 L226.5 668.8 L228.5 668.8 L230.5 668.8 L232.5 668.8 L234.5 668.8 L236.5 668.8 L238.5 668.8 L240.5 668.8 L242.5 668.8 L244.5 668.8 L246.5 668.8 L248.5 668.8 L250.5 668.9 L252.5 668.9 L254.5 668.9 L256 668.9 M270 668.9 L272 668.9 L274 668.9 L276 668.9 L278 668.9 L280 668.9 L282 668.9 L284 668.9 L286 668.8 L288 668.8 L290 668.8 L292 668.8 L294 668.8 L296 668.8 L298 668.8 L300 668.8 L302 668.7 L304 668.7 L306 668.7 L308 668.7 L310 668.6 L312 668.6 L314 668.5 L316 668.5 L318 668.4 L320 668.4 L322 668.3 L324 668.2 L326 668.2 L328 668.1 L330 668 L332 667.9 L334 667.8 L336 667.7 L338 667.6 L340 667.5 L342 667.4 L344 667.3 L346 667.1 L348 667 L350 666.9 L352 666.7 L354 666.6 L356 666.4 L358 666.2 L360 666.1 L362 665.9 L364 665.7 L366 665.5 L368 665.3 L370 665.1 L372 664.9 L374 664.7 L376 664.4 L378 664.2 L380 664 L382 663.7 L384 663.4 L386 663.2 L388 662.9 L390 662.6 L392 662.3 L394 662 L396 661.7 L398 661.4 L400 661 L402 660.7 L404 660.3 L406 659.9 L408 659.6 L410 659.2 L412 658.8 L414 658.4 L416 658 L418 657.6 L420 657.1 L422 656.7 L424 656.3 L426 655.8 L428 655.4 L430 654.9 L432 654.5 L434 654.1 L436 653.6 L438 653.2 L440 652.8 L442 652.4 L444 652.1 L446 651.7 L448 651.4 L450 651 L452 650.7 L454 650.3 L456 650 L458 649.7 L460 649.3 L462 649 L464 648.6 L466 648.3 L468 647.9 L470 647.5 L472 647.2 L474 646.8 L476 646.4 L478 646.1 L480 645.7 L482 645.4 L484 645.1 L486 644.7 L488 644.4 L490 644.1 L492 643.8 L494 643.5 L496 643.2 L498 643 L500 642.8 L502 642.5 L504 642.3 L506 642.1 L508 642 L509.8 641.7 M92.5 125.4 L94.5 125.2 L96.5 125 L98.5 124.8 L100.5 124.6 L102.5 124.4 L104.5 124.2 L106.5 124 L108.5 123.8 L110.5 123.6 L112.5 123.4 L114.5 123.3 L116.5 123.1 L118.5 122.9 L120.5 122.8 L122.5 122.6 L124.5 122.5 L126.5 122.3 L128.5 122.1 L130.5 122 L132.5 121.8 L134.5 121.7 L136.5 121.5 L138.5 121.4 L140.5 121.2 L142.5 121.1 L144.5 120.9 L146.5 120.8 L148.5 120.6 L150.5 120.5 L152.5 120.4 L154.5 120.3 L156.5 120.1 L158.5 120 L160.5 119.9 L162.5 119.8 L164.5 119.7 L166.5 119.6 L168.5 119.5 L170.5 119.4 L172.5 119.3 L174.5 119.3 L176.5 119.2 L178.5 119.1 L180.5 119 L182.5 118.9 L184.5 118.9 L186.5 118.8 L188.5 118.7 L190.5 118.6 L192.5 118.6 L194.5 118.5 L196.5 118.4 L198.5 118.4 L200.5 118.3 L202.5 118.3 L204.5 118.2 L206.5 118.2 L208.5 118.2 L210.5 118.1 L212.5 118.1 L214.5 118.1 L216.5 118.1 L218.5 118.1 L220.5 118.1 L222.5 118.1 L224.5 118.2 L226.5 118.2 L228.5 118.2 L230.5 118.3 L232.5 118.3 L234.5 118.4 L236.5 118.4 L238.5 118.5 L240.5 118.6 L242.5 118.7 L244.5 118.8 L246.5 119 L248.5 119.2 L250.5 119.4 L252.5 119.6 L254.5 119.8 L256.5 120.1 L258.5 120.3 L260.5 120.6 L262.5 120.9 L264.5 121.2 L266.5 121.5 L268.5 121.8 L270.5 122.2 L272.5 122.5 L274.5 122.9 L276.5 123.3 L278.5 123.7 L280.5 124.2 L282.5 124.6 L284.5 125.1 L286.5 125.6 L288.5 126.2 L290.5 126.8 L292.5 127.4 L294.5 128 L296.5 128.7 L298.4 129.4 L299.9 130 L301.4 130.6 L302.9 131.2 L304.4 131.8 L305.9 132.5 L307.4 133.2 L308.9 133.9 L310.4 134.6 L311.9 135.3 L313.4 136 L314.9 136.7 L316.4 137.5 L317.9 138.2 L319.4 139 L320.9 139.7 L322.4 140.5 L323.9 141.3 L325.4 142 L326.9 142.8 L328.4 143.6 L329.9 144.4 L331.4 145.3 L332.9 146.1 L334.4 146.9 L335.9 147.8 L337.4 148.7 L338.9 149.5 L340.4 150.4 L341.9 151.3 L343.4 152.3 L344.9 153.2 L346.4 154.2 L347.9 155.1 L349.4 156.1 L350.9 157.1 L352.4 158.1 L353.9 159.1 L355.4 160.2 L356.9 161.2 L358.4 162.3 L359.9 163.3 L361.4 164.4 L362.9 165.5 L364.4 166.6 L365.9 167.7 L367.4 168.8 L368.9 169.9 L370.4 171 L371.9 172.2 L373.4 173.4 L374.9 174.6 L376.4 175.8 L377.9 177.1 L379.3 178.3 L380.5 179.4 L381.7 180.5 L382.9 181.7 L384.1 182.8 L385.3 184 L386.5 185.2 L387.7 186.4 L388.9 187.7 L390.1 189 L391.3 190.3 L392.5 191.6 L393.7 192.9 L394.9 194.2 L396.1 195.6 L397.3 196.9 L398.5 198.3 L399.7 199.6 L400.9 201 L402.1 202.4 L403.3 203.7 L404.5 205.1 L405.7 206.5 L406.9 207.8 L408.1 209.2 L409.3 210.6 L410.5 211.9 L411.1 212.6 M419.2 221.9 L420.4 223.2 L421.6 224.6 L422.8 226 L424 227.3 L425.2 228.7 L426.4 230 L427.6 231.4 L428.8 232.8 L430 234.1 L431.2 235.5 L432.4 236.8 L433.6 238.2 L434.8 239.5 L436 240.9 L437.2 242.2 L438.4 243.6 L439.6 244.9 L440.8 246.3 L442 247.7 L443.2 249 L444.4 250.4 L445.6 251.8 L446.8 253.1 L448 254.5 L449.2 255.9 L450.4 257.3 L451.6 258.7 L452.8 260 L454 261.4 L455.2 262.8 L456.4 264.2 L457.6 265.6 L458.8 267 L460 268.4 L461.2 269.8 L462.4 271.2 L463.6 272.6 L464.8 274 L466 275.4 L467.2 276.8 L468.4 278.2 L469.6 279.6 L470.8 281 L472 282.4 L473.2 283.9 L474.4 285.3 L475.6 286.8 L476.8 288.2 L478 289.7 L479.2 291.2 L480.2 292.5 L481.2 293.8 L482.2 295.1 L483.2 296.4 L484.2 297.7 L485.2 299 L486.2 300.3 L487.2 301.7 L488.2 303.1 L489.2 304.5 L490.2 305.8 L491.2 307.2 L492.2 308.6 L493.2 310 L494.2 311.4 L495.2 312.8 L496.2 314.2 L497.2 315.6 L497.8 317.3 L498 318.1 M92.5 546.7 L94 545.7 L95.5 544.8 L97 543.8 L98.5 542.9 L100 541.9 L101.5 541 L103 540 L104.5 539.1 L106 538.1 L107.5 537.2 L109 536.2 L110.5 535.3 L112 534.3 L113.5 533.4 L115 532.4 L116.5 531.5 L118 530.5 L119.5 529.6 L121 528.7 L122.5 527.7 L124 526.8 L125.5 525.9 L127 525 L128.5 524 L130 523.1 L131.5 522.2 L133 521.3 L134.5 520.4 L136 519.5 L137.5 518.7 L139 517.8 L140.5 516.9 L142 516.1 L143.5 515.2 L145 514.3 L146.5 513.5 L148 512.6 L149.5 511.8 L151 510.9 L152.5 510.1 L154 509.2 L155.5 508.4 L157 507.6 L158.5 506.7 L160 505.9 L161.5 505 L163 504.2 L164.5 503.3 L166 502.5 L167.5 501.6 L169 500.8 L170.5 499.9 L172 499.1 L173.5 498.3 L175 497.4 L176.5 496.6 L178 495.7 L179.5 494.9 L181 494 L182.5 493.2 L184 492.3 L185.5 491.5 L187 490.6 L188.5 489.8 L190 488.9 L191.5 488.1 L193 487.3 L194.5 486.4 L196 485.6 L197.5 484.8 L199 483.9 L200.5 483.1 L202 482.3 L203.5 481.4 L205 480.6 L206.5 479.8 L208 479 L209.5 478.2 L211 477.4 L212.5 476.6 L214 475.8 L215.5 475.1 L217 474.3 L218.5 473.6 L220 472.9 L221.5 472.1 L223 471.4 L224.5 470.7 L226 470.1 L227.5 469.4 L229 468.7 L230.5 468.1 L232 467.4 L233.5 466.8 L235 466.2 L236.5 465.6 L238 465 L239.5 464.4 L241 463.8 L242.5 463.3 L244 462.7 L246 462 L248 461.3 L250 460.6 L252 459.9 L254 459.2 L256 458.5 L258 457.9 L260 457.2 L262 456.6 L264 456 L266 455.3 L268 454.7 L270 454.1 L272 453.5 L274 452.8 L276 452.2 L278 451.5 L280 450.8 L282 450.2 L284 449.5 L286 448.8 L288 448.1 L290 447.3 L292 446.6 L294 445.9 L296 445.2 L298 444.5 L300 443.9 L302 443.2 L304 442.6 L306 441.9 L308 441.3 L310 440.8 L312 440.2 L314 439.6 L316 439.1 L318 438.6 L320 438.1 L322 437.6 L324 437.2 L326 436.7 L328 436.3 L330 435.9 L332 435.5 L334 435.2 L336 434.8 L338 434.5 L340 434.2 L342 433.8 L344 433.5 L346 433.3 L348 433 L350 432.7 L352 432.5 L354 432.3 L356 432.1 L358 431.9 L360 431.7 L362 431.6 L364 431.4 L366 431.3 L368 431.2 L370 431.2 L372 431.1 L374 431.1 L376 431.1 L378 431.1 L380 431.1 L382 431.2 L384 431.2 L386 431.3 L388 431.4 L390 431.5 L392 431.6 L394 431.7 L396 431.9 L398 432.1 L400 432.3 L402 432.5 L404 432.7 L406 432.9 L408 433.2 L410 433.5 L412 433.8 L414 434.1 L416 434.5 L418 434.8 L420 435.2 L422 435.5 L424 435.9 L426 436.2 L428 436.6 L430 437 L432 437.3 L434 437.7 L436 438.1 L438 438.5 L440 439 L442 439.4 L444 439.8 L446 440.3 L448 440.8 L450 441.3 L452 441.8 L454 442.3 L456 442.8 L458 443.4 L460 444 L462 444.6 L464 445.3 L466 445.9 L468 446.6 L470 447.2 L472 447.9 L474 448.6 L476 449.4 L477.6 450 L479.1 450.5 L480.6 451.1 L482.1 451.7 L483.6 452.3 L485.1 453 L486.6 453.6 L488.1 454.2 L489.6 454.9 L491.1 455.5 L492.6 456.2 L494.1 456.9 L495.6 457.6 L496.5 458.4 M92.5 677.6 L94.5 677.6 L96.5 677.5 L98.5 677.5 L100.5 677.5 L102.5 677.5 L104.5 677.4 L106.5 677.4 L108.5 677.4 L110.5 677.4 L112.5 677.3 L114.5 677.3 L116.5 677.3 L118.5 677.3 L120.5 677.2 L122.5 677.2 L124.5 677.2 L126.5 677.1 L128.5 677.1 L130.5 677.1 L132.5 677.1 L134.5 677 L136.5 677 L138.5 677 L140.5 677 L142.5 676.9 L144.5 676.9 L146.5 676.9 L148.5 676.9 L150.5 676.9 L152.5 676.8 L154.5 676.8 L156.5 676.8 L158.5 676.8 L160.5 676.7 L162.5 676.7 L164.5 676.7 L166.5 676.7 L168.5 676.7 L170.5 676.6 L172.5 676.6 L174.5 676.6 L176.5 676.6 L178.5 676.6 L180.5 676.5 L182.5 676.5 L184.5 676.5 L186.5 676.5 L188.5 676.5 L190.5 676.5 L192.5 676.5 L194.5 676.5 L196.5 676.4 L198.5 676.4 L200.5 676.4 L202.5 676.4 L204.5 676.4 L206.5 676.4 L208.5 676.4 L210.5 676.4 L212.5 676.4 L214.5 676.4 L216.5 676.4 L218.5 676.4 L220.5 676.4 L222.5 676.4 L224.5 676.4 L226.5 676.4 L228.5 676.4 L230.5 676.4 L232.5 676.4 L234.5 676.4 L236.5 676.4 L238.5 676.4 L240.5 676.4 L242.5 676.5 L244.5 676.5 L246.5 676.5 L248.5 676.5 L250.5 676.5 L252.5 676.5 L253.5 676.5 M267.5 676.5 L269.5 676.5 L271.5 676.5 L273.5 676.5 L275.5 676.5 L277.5 676.4 L279.5 676.4 L281.5 676.4 L283.5 676.4 L285.5 676.4 L287.5 676.4 L289.5 676.4 L291.5 676.4 L293.5 676.3 L295.5 676.3 L297.5 676.3 L299.5 676.3 L301.5 676.2 L303.5 676.2 L305.5 676.2 L307.5 676.1 L309.5 676.1 L311.5 676 L313.5 675.9 L315.5 675.9 L317.5 675.8 L319.5 675.7 L321.5 675.6 L323.5 675.5 L325.5 675.4 L327.5 675.3 L329.5 675.2 L331.5 675.1 L333.5 675 L335.5 674.9 L337.5 674.7 L339.5 674.6 L341.5 674.5 L343.5 674.3 L345.5 674.2 L347.5 674 L349.5 673.8 L351.5 673.6 L353.5 673.5 L355.5 673.3 L357.5 673.1 L359.5 672.9 L361.5 672.7 L363.5 672.4 L365.5 672.2 L367.5 672 L369.5 671.7 L371.5 671.5 L373.5 671.2 L375.5 670.9 L377.5 670.7 L379.5 670.4 L381.5 670.1 L383.5 669.8 L385.5 669.5 L387.5 669.1 L389.5 668.8 L391.5 668.4 L393.5 668.1 L395.5 667.7 L397.5 667.3 L399.5 666.9 L401.5 666.5 L403.5 666.1 L405.5 665.7 L407.5 665.3 L409.5 664.8 L411.5 664.4 L413.5 663.9 L415.5 663.5 L417.5 663 L419.5 662.6 L421.5 662.1 L423.5 661.7 L425.5 661.2 L427.5 660.8 L429.5 660.4 L431.5 659.9 L433.5 659.5 L435.5 659.1 L437.5 658.7 L439.5 658.3 L441.5 657.9 L443.5 657.6 L445.5 657.2 L447.5 656.9 L449.5 656.5 L451.5 656.2 L453.5 655.8 L455.5 655.5 L457.5 655.2 L459.5 654.8 L461.5 654.5 L463.5 654.1 L465.5 653.8 L467.5 653.4 L469.5 653.1 L471.5 652.7 L473.5 652.4 L475.5 652 L477.5 651.7 L479.5 651.4 L481.5 651.1 L483.5 650.8 L485.5 650.6 L487.5 650.4 L489.5 650.3 L491.5 650.2 L493.5 650.1 M92.5 138.5 L94.5 138.2 L96.5 138 L98.5 137.7 L100.5 137.5 L102.5 137.2 L104.5 137 L106.5 136.7 L108.5 136.5 L110.5 136.3 L112.5 136.1 L114.5 135.9 L116.5 135.7 L118.5 135.5 L120.5 135.4 L122.5 135.2 L124.5 135 L126.5 134.9 L128.5 134.7 L130.5 134.6 L132.5 134.4 L134.5 134.2 L136.5 134.1 L138.5 133.9 L140.5 133.8 L142.5 133.6 L144.5 133.5 L146.5 133.3 L148.5 133.2 L150.5 133 L152.5 132.9 L154.5 132.8 L156.5 132.6 L158.5 132.5 L160.5 132.4 L162.5 132.3 L164.5 132.2 L166.5 132.1 L168.5 132 L170.5 131.9 L172.5 131.8 L174.5 131.6 L176.5 131.5 L178.5 131.4 L180.5 131.3 L182.5 131.2 L184.5 131.1 L186.5 131 L188.5 130.9 L190.5 130.9 L192.5 130.8 L194.5 130.7 L196.5 130.7 L198.5 130.6 L200.5 130.6 L202.5 130.5 L204.5 130.5 L206.5 130.5 L208.5 130.5 L210.5 130.5 L212.5 130.5 L214.5 130.5 L216.5 130.6 L218.5 130.6 L220.5 130.6 L222.5 130.7 L224.5 130.7 L226.5 130.8 L228.5 130.8 L230.5 130.9 L232.5 131 L234.5 131.1 L236.5 131.2 L238.5 131.4 L240.5 131.6 L242.5 131.8 L244.5 132 L246.5 132.2 L248.5 132.5 L250.5 132.8 L252.5 133.1 L254.5 133.4 L256.5 133.7 L258.5 134 L260.5 134.4 L262.5 134.7 L264.5 135.1 L266.5 135.5 L268.5 135.9 L270.5 136.3 L272.5 136.8 L274.5 137.2 L276.5 137.7 L278.5 138.2 L280.5 138.7 L282.5 139.3 L284.5 139.9 L286.5 140.5 L288.5 141.1 L290.5 141.7 L292.5 142.4 L294.5 143.2 L296.1 143.8 L297.6 144.4 L299.1 145 L300.6 145.6 L302.1 146.2 L303.6 146.8 L305.1 147.5 L306.6 148.2 L308.1 148.9 L309.6 149.6 L311.1 150.3 L312.6 151 L314.1 151.7 L315.6 152.5 L317.1 153.2 L318.6 154 L320.1 154.7 L321.6 155.5 L323.1 156.3 L324.6 157.1 L326.1 157.9 L327.6 158.7 L329.1 159.5 L330.6 160.4 L332.1 161.3 L333.6 162.1 L335.1 163 L336.6 163.9 L338.1 164.8 L339.6 165.8 L341.1 166.7 L342.6 167.7 L344.1 168.6 L345.6 169.6 L347.1 170.6 L348.6 171.6 L350.1 172.6 L351.6 173.7 L353.1 174.7 L354.6 175.7 L356.1 176.8 L357.6 177.9 L359.1 178.9 L360.6 180 L362.1 181.1 L363.6 182.3 L365.1 183.4 L366.6 184.6 L368.1 185.8 L369.6 187.1 L371.1 188.4 L372.4 189.5 L373.6 190.6 L374.8 191.7 L376 192.9 L377.2 194 L378.4 195.2 L379.6 196.4 L380.8 197.7 L382 198.9 L383.2 200.2 L384.4 201.4 L385.6 202.7 L386.8 204 L388 205.3 L389.2 206.6 L390.4 208 L391.6 209.3 L392.8 210.6 L394 211.9 L395.2 213.2 L396.4 214.6 L397.6 215.9 L398.8 217.2 L400 218.5 L401.2 219.8 L401.8 220.5 M411.1 230.7 L412.3 232 L413.5 233.4 L414.7 234.7 L415.9 236 L417.1 237.3 L418.3 238.6 L419.5 239.9 L420.7 241.2 L421.9 242.5 L423.1 243.8 L424.3 245.1 L425.5 246.4 L426.7 247.8 L427.9 249.1 L429.1 250.4 L430.3 251.7 L431.5 253 L432.7 254.3 L433.9 255.7 L435.1 257 L436.3 258.3 L437.5 259.6 L438.7 261 L439.9 262.3 L441.1 263.6 L442.3 265 L443.5 266.3 L444.7 267.7 L445.9 269 L447.1 270.4 L448.3 271.7 L449.5 273.1 L450.7 274.4 L451.9 275.8 L453.1 277.1 L454.3 278.5 L455.5 279.9 L456.7 281.2 L457.9 282.6 L459.1 284 L460.3 285.3 L461.5 286.7 L462.7 288.1 L463.9 289.5 L465.1 291 L466.3 292.4 L467.5 293.9 L468.7 295.3 L469.8 296.7 L470.8 297.9 L471.8 299.2 L472.8 300.5 L473.8 301.8 L474.8 303.1 L475.8 304.5 L476.8 305.8 L477.8 307.2 L478.8 308.6 L479.8 310 L480.8 311.4 L481.8 312.8 L482.8 314.2 L483.8 315.6 L484.6 317.2 L484.9 318.1 M92.5 550.2 L94 549.3 L95.5 548.5 L97 547.6 L98.5 546.7 L100 545.9 L101.5 545 L103 544.2 L104.5 543.3 L106 542.4 L107.5 541.6 L109 540.7 L110.5 539.8 L112 539 L113.5 538.1 L115 537.3 L116.5 536.4 L118 535.6 L119.5 534.7 L121 533.8 L122.5 533 L124 532.1 L125.5 531.3 L127 530.5 L128.5 529.6 L130 528.8 L131.5 528 L133 527.1 L134.5 526.3 L136 525.5 L137.5 524.7 L139 523.9 L140.5 523.1 L142 522.3 L143.5 521.5 L145 520.7 L146.5 519.9 L148 519.2 L149.5 518.4 L151 517.6 L152.5 516.8 L154 516 L155.5 515.2 L157 514.4 L158.5 513.6 L160 512.8 L161.5 512 L163 511.2 L164.5 510.5 L166 509.7 L167.5 508.9 L169 508.1 L170.5 507.3 L172 506.5 L173.5 505.6 L175 504.8 L176.5 504 L178 503.2 L179.5 502.4 L181 501.6 L182.5 500.8 L184 500 L185.5 499.2 L187 498.4 L188.5 497.6 L190 496.8 L191.5 496 L193 495.2 L194.5 494.4 L196 493.6 L197.5 492.8 L199 492 L200.5 491.2 L202 490.5 L203.5 489.7 L205 488.9 L206.5 488.2 L208 487.4 L209.5 486.7 L211 485.9 L212.5 485.2 L214 484.5 L215.5 483.8 L217 483.1 L218.5 482.4 L220 481.8 L221.5 481.1 L223 480.5 L224.5 479.8 L226 479.2 L227.5 478.6 L229 478 L230.5 477.4 L232 476.8 L233.5 476.3 L235 475.7 L237 475 L239 474.2 L241 473.5 L243 472.8 L245 472.2 L247 471.5 L249 470.9 L251 470.2 L253 469.6 L255 469 L257 468.4 L259 467.8 L261 467.2 L263 466.7 L265 466.1 L267 465.5 L269 464.9 L271 464.3 L273 463.7 L275 463.1 L277 462.5 L279 461.8 L281 461.2 L283 460.6 L285 459.9 L287 459.3 L289 458.7 L291 458 L293 457.4 L295 456.8 L297 456.3 L299 455.7 L301 455.2 L303 454.7 L305 454.2 L307 453.7 L309 453.2 L311 452.8 L313 452.3 L315 451.9 L317 451.5 L319 451.2 L321 450.8 L323 450.5 L325 450.1 L327 449.8 L329 449.5 L331 449.2 L333 449 L335 448.7 L337 448.5 L339 448.3 L341 448.1 L343 447.9 L345 447.7 L347 447.6 L349 447.5 L351 447.4 L353 447.3 L355 447.2 L357 447.2 L359 447.1 L361 447.1 L363 447 L365 447 L367 447 L369 446.9 L371 446.9 L373 446.9 L375 446.9 L377 446.9 L379 447 L381 447.1 L383 447.1 L385 447.2 L387 447.4 L389 447.5 L391 447.6 L393 447.8 L395 448 L397 448.1 L399 448.4 L401 448.6 L403 448.8 L405 449.1 L407 449.4 L409 449.7 L411 450.1 L413 450.4 L415 450.8 L417 451.2 L419 451.6 L421 452.1 L423 452.5 L425 453 L427 453.5 L429 454 L431 454.5 L433 455 L435 455.6 L437 456.1 L439 456.7 L441 457.3 L443 457.9 L445 458.4 L447 459 L449 459.6 L451 460.2 L453 460.8 L455 461.4 L457 461.9 L459 462.5 L461 463.1 L463 463.6 L465 464.2 L467 464.8 L469 465.4 L471 466 L473 466.6 L475 467.2 L477 467.8 L479 468.4 L481 469 L482 469.5 M92.5 683.9 L94.5 683.9 L96.5 683.9 L98.5 683.9 L100.5 683.9 L102.5 683.9 L104.5 683.9 L106.5 683.9 L108.5 683.9 L110.5 683.9 L112.5 683.9 L114.5 683.9 L116.5 683.9 L118.5 683.9 L120.5 683.9 L122.5 683.9 L124.5 683.9 L126.5 683.9 L128.5 683.9 L130.5 683.9 L132.5 683.9 L134.5 683.9 L136.5 683.9 L138.5 683.9 L140.5 683.9 L142.5 683.9 L144.5 683.9 L146.5 683.9 L148.5 683.9 L150.5 683.9 L152.5 683.9 L154.5 683.9 L156.5 683.9 L158.5 683.9 L160.5 683.9 L162.5 683.9 L164.5 683.9 L166.5 683.9 L168.5 683.9 L170.5 683.9 L172.5 683.9 L174.5 683.9 L176.5 683.9 L178.5 683.9 L180.5 683.9 L182.5 683.9 L184.5 683.9 L186.5 683.9 L188.5 683.9 L190.5 683.9 L192.5 684 L194.5 684 L196.5 684 L198.5 684 L200.5 684 L202.5 684 L204.5 684 L206.5 684 L208.5 684 L210.5 684 L212.5 684 L214.5 684 L216.5 684 L218.5 684 L220.5 684.1 L222.5 684.1 L224.5 684.1 L226.5 684.1 L228.5 684.1 L230.5 684.1 L232.5 684.1 L234.5 684.1 L236.5 684.2 L238.5 684.2 L240.5 684.2 L242.5 684.2 L244.5 684.2 L246.5 684.2 L248.5 684.2 L250 684.2 M264 684.2 L266 684.1 L268 684.1 L270 684.1 L272 684.1 L274 684.1 L276 684.1 L278 684.1 L280 684 L282 684 L284 684 L286 684 L288 683.9 L290 683.9 L292 683.9 L294 683.8 L296 683.8 L298 683.7 L300 683.7 L302 683.6 L304 683.6 L306 683.5 L308 683.4 L310 683.3 L312 683.2 L314 683.2 L316 683.1 L318 682.9 L320 682.8 L322 682.7 L324 682.6 L326 682.5 L328 682.3 L330 682.2 L332 682 L334 681.9 L336 681.7 L338 681.5 L340 681.4 L342 681.2 L344 681 L346 680.8 L348 680.6 L350 680.4 L352 680.1 L354 679.9 L356 679.7 L358 679.4 L360 679.2 L362 678.9 L364 678.6 L366 678.3 L368 678.1 L370 677.8 L372 677.4 L374 677.1 L376 676.8 L378 676.4 L380 676.1 L382 675.7 L384 675.3 L386 674.9 L388 674.5 L390 674.1 L392 673.7 L394 673.3 L396 672.8 L398 672.4 L400 671.9 L402 671.5 L404 671 L406 670.6 L408 670.1 L410 669.6 L412 669.2 L414 668.7 L416 668.2 L418 667.8 L420 667.3 L422 666.9 L424 666.5 L426 666 L428 665.6 L430 665.2 L432 664.8 L434 664.4 L436 664 L438 663.6 L440 663.2 L442 662.9 L444 662.5 L446 662.2 L448 661.9 L450 661.6 L452 661.4 L454 661.1 L456 660.8 L458 660.6 L460 660.3 L462 660 L464 659.7 L466 659.4 L468 659 L470 658.7 L472 658.3 L474 657.9 L476 657.6 L478 657.2 L480 656.8 L481.8 656.4 L482.2 656.3 M92.5 150.2 L94.5 149.9 L96.5 149.7 L98.5 149.4 L100.5 149.2 L102.5 148.9 L104.5 148.7 L106.5 148.4 L108.5 148.2 L110.5 148 L112.5 147.7 L114.5 147.5 L116.5 147.3 L118.5 147.1 L120.5 146.9 L122.5 146.7 L124.5 146.5 L126.5 146.3 L128.5 146.1 L130.5 145.9 L132.5 145.7 L134.5 145.5 L136.5 145.3 L138.5 145.1 L140.5 145 L142.5 144.8 L144.5 144.6 L146.5 144.4 L148.5 144.3 L150.5 144.1 L152.5 144 L154.5 143.8 L156.5 143.7 L158.5 143.6 L160.5 143.4 L162.5 143.3 L164.5 143.2 L166.5 143.1 L168.5 143 L170.5 142.9 L172.5 142.8 L174.5 142.7 L176.5 142.6 L178.5 142.5 L180.5 142.4 L182.5 142.3 L184.5 142.2 L186.5 142.1 L188.5 142.1 L190.5 142 L192.5 142 L194.5 141.9 L196.5 141.9 L198.5 141.9 L200.5 141.9 L202.5 141.9 L204.5 141.9 L206.5 141.9 L208.5 141.9 L210.5 142 L212.5 142 L214.5 142.1 L216.5 142.1 L218.5 142.2 L220.5 142.2 L222.5 142.3 L224.5 142.4 L226.5 142.4 L228.5 142.5 L230.5 142.7 L232.5 142.8 L234.5 143 L236.5 143.1 L238.5 143.3 L240.5 143.6 L242.5 143.8 L244.5 144.1 L246.5 144.4 L248.5 144.6 L250.5 144.9 L252.5 145.3 L254.5 145.6 L256.5 145.9 L258.5 146.3 L260.5 146.7 L262.5 147.1 L264.5 147.5 L266.5 147.9 L268.5 148.3 L270.5 148.8 L272.5 149.3 L274.5 149.8 L276.5 150.3 L278.5 150.9 L280.5 151.5 L282.5 152.1 L284.5 152.8 L286.5 153.4 L288.5 154.1 L290.1 154.8 L291.6 155.3 L293.1 155.9 L294.6 156.5 L296.1 157.1 L297.6 157.8 L299.1 158.4 L300.6 159.1 L302.1 159.8 L303.6 160.5 L305.1 161.2 L306.6 161.9 L308.1 162.6 L309.6 163.3 L311.1 164 L312.6 164.8 L314.1 165.5 L315.6 166.3 L317.1 167.1 L318.6 167.9 L320.1 168.7 L321.6 169.5 L323.1 170.3 L324.6 171.1 L326.1 172 L327.6 172.9 L329.1 173.7 L330.6 174.6 L332.1 175.5 L333.6 176.5 L335.1 177.4 L336.6 178.3 L338.1 179.3 L339.6 180.3 L341.1 181.2 L342.6 182.2 L344.1 183.2 L345.6 184.2 L347.1 185.3 L348.6 186.3 L350.1 187.3 L351.6 188.4 L353.1 189.5 L354.6 190.6 L356.1 191.7 L357.6 192.9 L359.1 194.1 L360.6 195.3 L362.1 196.5 L363.6 197.8 L364.9 199 L366.1 200.1 L367.3 201.2 L368.5 202.3 L369.7 203.5 L370.9 204.7 L372.1 205.9 L373.3 207.1 L374.5 208.3 L375.7 209.6 L376.9 210.8 L378.1 212.1 L379.3 213.4 L380.5 214.6 L381.7 215.9 L382.9 217.2 L384.1 218.5 L385.3 219.7 L386.5 221 L387.7 222.3 L388.9 223.6 L390.1 224.9 L391.3 226.2 L391.9 226.8 M401.5 237 L402.7 238.3 L403.9 239.6 L405.1 240.9 L406.3 242.1 L407.5 243.4 L408.7 244.7 L409.9 245.9 L411.1 247.2 L412.3 248.5 L413.5 249.8 L414.7 251 L415.9 252.3 L417.1 253.6 L418.3 254.9 L419.5 256.1 L420.7 257.4 L421.9 258.7 L423.1 260 L424.3 261.3 L425.5 262.6 L426.7 263.9 L427.9 265.2 L429.1 266.5 L430.3 267.8 L431.5 269.1 L432.7 270.4 L433.9 271.7 L435.1 273 L436.3 274.3 L437.5 275.6 L438.7 276.9 L439.9 278.3 L441.1 279.6 L442.3 280.9 L443.5 282.2 L444.7 283.6 L445.9 284.9 L447.1 286.2 L448.3 287.6 L449.5 288.9 L450.7 290.3 L451.9 291.7 L453.1 293.1 L454.3 294.5 L455.5 295.9 L456.7 297.4 L457.9 298.9 L459 300.3 L460 301.5 L461 302.8 L462 304.1 L463 305.5 L464 306.8 L465 308.2 L466 309.6 L467 311 L468 312.4 L469 313.8 L470 315.2 L471 316.7 L471.9 318.1 M92.5 553.8 L94 553 L95.5 552.2 L97 551.4 L98.5 550.6 L100 549.8 L101.5 549 L103 548.2 L104.5 547.4 L106 546.6 L107.5 545.8 L109 545 L110.5 544.2 L112 543.4 L113.5 542.6 L115 541.8 L116.5 541 L118 540.2 L119.5 539.4 L121 538.6 L122.5 537.8 L124 537 L125.5 536.2 L127 535.4 L128.5 534.7 L130 533.9 L131.5 533.1 L133 532.4 L134.5 531.6 L136 530.9 L137.5 530.1 L139 529.4 L140.5 528.6 L142 527.9 L143.5 527.2 L145 526.4 L146.5 525.7 L148 525 L149.5 524.2 L151 523.5 L152.5 522.8 L154 522.1 L155.5 521.3 L157 520.6 L158.5 519.9 L160 519.1 L161.5 518.4 L163 517.7 L164.5 516.9 L166 516.2 L167.5 515.5 L169 514.7 L170.5 514 L172 513.2 L173.5 512.5 L175 511.7 L176.5 511 L178 510.2 L179.5 509.5 L181 508.7 L182.5 507.9 L184 507.2 L185.5 506.4 L187 505.6 L188.5 504.9 L190 504.1 L191.5 503.4 L193 502.6 L194.5 501.8 L196 501.1 L197.5 500.3 L199 499.6 L200.5 498.8 L202 498.1 L203.5 497.4 L205 496.7 L206.5 496 L208 495.3 L209.5 494.6 L211 494 L212.5 493.3 L214 492.7 L215.5 492.1 L217 491.4 L218.5 490.8 L220 490.3 L221.5 489.7 L223 489.1 L225 488.4 L227 487.6 L229 486.9 L231 486.3 L233 485.6 L235 484.9 L237 484.3 L239 483.7 L241 483 L243 482.4 L245 481.9 L247 481.3 L249 480.7 L251 480.1 L253 479.6 L255 479.1 L257 478.5 L259 478 L261 477.4 L263 476.9 L265 476.3 L267 475.8 L269 475.2 L271 474.6 L273 474 L275 473.4 L277 472.8 L279 472.2 L281 471.7 L283 471.1 L285 470.5 L287 469.9 L289 469.4 L291 468.9 L293 468.3 L295 467.8 L297 467.4 L299 466.9 L301 466.4 L303 466 L305 465.6 L307 465.2 L309 464.8 L311 464.4 L313 464.1 L315 463.8 L317 463.4 L319 463.1 L321 462.8 L323 462.5 L325 462.3 L327 462 L329 461.7 L331 461.5 L333 461.2 L335 461 L337 460.8 L339 460.6 L341 460.4 L343 460.2 L345 460.1 L347 459.9 L349 459.7 L351 459.6 L353 459.5 L355 459.3 L357 459.2 L359 459.1 L361 459.1 L363 459 L365 458.9 L367 458.9 L369 458.9 L371 458.9 L373 458.9 L375 458.9 L377 459 L379 459.1 L381 459.2 L383 459.3 L385 459.4 L387 459.6 L389 459.8 L391 460 L393 460.2 L395 460.5 L397 460.8 L399 461.1 L401 461.4 L403 461.8 L405 462.1 L407 462.5 L409 462.9 L411 463.4 L413 463.9 L415 464.3 L417 464.9 L419 465.4 L421 466 L423 466.6 L425 467.2 L427 467.8 L429 468.4 L431 469 L433 469.7 L435 470.3 L437 471 L439 471.6 L441 472.3 L443 472.9 L445 473.5 L447 474.2 L449 474.8 L451 475.4 L453 476 L455 476.7 L457 477.3 L459 478 L461 478.7 L463 479.4 L465 480.2 L467 480.9 L469 481.6 L471 482.3 L472.6 483.2 M92.5 690.6 L94.5 690.6 L96.5 690.7 L98.5 690.7 L100.5 690.7 L102.5 690.8 L104.5 690.8 L106.5 690.9 L108.5 690.9 L110.5 690.9 L112.5 691 L114.5 691 L116.5 691 L118.5 691.1 L120.5 691.1 L122.5 691.1 L124.5 691.2 L126.5 691.2 L128.5 691.2 L130.5 691.2 L132.5 691.3 L134.5 691.3 L136.5 691.3 L138.5 691.4 L140.5 691.4 L142.5 691.4 L144.5 691.4 L146.5 691.5 L148.5 691.5 L150.5 691.5 L152.5 691.5 L154.5 691.6 L156.5 691.6 L158.5 691.6 L160.5 691.6 L162.5 691.7 L164.5 691.7 L166.5 691.7 L168.5 691.7 L170.5 691.7 L172.5 691.8 L174.5 691.8 L176.5 691.8 L178.5 691.8 L180.5 691.8 L182.5 691.9 L184.5 691.9 L186.5 691.9 L188.5 691.9 L190.5 692 L192.5 692 L194.5 692 L196.5 692 L198.5 692 L200.5 692.1 L202.5 692.1 L204.5 692.1 L206.5 692.1 L208.5 692.1 L210.5 692.2 L212.5 692.2 L214.5 692.2 L216.5 692.2 L218.5 692.2 L220.5 692.3 L222.5 692.3 L224.5 692.3 L226.5 692.3 L228.5 692.4 L230.5 692.4 L232.5 692.4 L234.5 692.4 L236.5 692.4 L238.5 692.4 L240.5 692.5 L242.5 692.5 L244.5 692.5 L246.5 692.5 L247.5 692.5 M261.5 692.5 L263.5 692.4 L265.5 692.4 L267.5 692.4 L269.5 692.4 L271.5 692.4 L273.5 692.3 L275.5 692.3 L277.5 692.3 L279.5 692.2 L281.5 692.2 L283.5 692.2 L285.5 692.1 L287.5 692.1 L289.5 692 L291.5 692 L293.5 691.9 L295.5 691.8 L297.5 691.7 L299.5 691.6 L301.5 691.5 L303.5 691.4 L305.5 691.3 L307.5 691.2 L309.5 691.1 L311.5 691 L313.5 690.8 L315.5 690.7 L317.5 690.5 L319.5 690.4 L321.5 690.2 L323.5 690 L325.5 689.9 L327.5 689.7 L329.5 689.5 L331.5 689.3 L333.5 689.1 L335.5 688.9 L337.5 688.6 L339.5 688.4 L341.5 688.2 L343.5 687.9 L345.5 687.7 L347.5 687.4 L349.5 687.1 L351.5 686.9 L353.5 686.6 L355.5 686.3 L357.5 686 L359.5 685.7 L361.5 685.3 L363.5 685 L365.5 684.7 L367.5 684.3 L369.5 683.9 L371.5 683.5 L373.5 683.2 L375.5 682.8 L377.5 682.3 L379.5 681.9 L381.5 681.5 L383.5 681.1 L385.5 680.6 L387.5 680.2 L389.5 679.7 L391.5 679.2 L393.5 678.8 L395.5 678.3 L397.5 677.8 L399.5 677.3 L401.5 676.9 L403.5 676.4 L405.5 675.9 L407.5 675.5 L409.5 675 L411.5 674.6 L413.5 674.2 L415.5 673.7 L417.5 673.3 L419.5 672.9 L421.5 672.5 L423.5 672 L425.5 671.6 L427.5 671.2 L429.5 670.8 L431.5 670.4 L433.5 670 L435.5 669.6 L437.5 669.2 L439.5 668.8 L441.5 668.5 L443.5 668.1 L445.5 667.7 L447.5 667.4 L449.5 667 L451.5 666.7 L453.5 666.4 L455.5 666.1 L457.5 665.8 L459.5 665.6 L461.5 665.4 L463.5 665.2 L465.5 665.1 L467.5 665 L468.8 664.9 M92.5 160.9 L94.5 160.7 L96.5 160.5 L98.5 160.3 L100.5 160.1 L102.5 159.8 L104.5 159.6 L106.5 159.5 L108.5 159.3 L110.5 159.1 L112.5 158.9 L114.5 158.7 L116.5 158.6 L118.5 158.4 L120.5 158.2 L122.5 158.1 L124.5 157.9 L126.5 157.7 L128.5 157.6 L130.5 157.4 L132.5 157.2 L134.5 157.1 L136.5 156.9 L138.5 156.7 L140.5 156.5 L142.5 156.4 L144.5 156.2 L146.5 156.1 L148.5 155.9 L150.5 155.8 L152.5 155.6 L154.5 155.5 L156.5 155.4 L158.5 155.2 L160.5 155.1 L162.5 155 L164.5 154.9 L166.5 154.8 L168.5 154.7 L170.5 154.6 L172.5 154.5 L174.5 154.5 L176.5 154.4 L178.5 154.3 L180.5 154.3 L182.5 154.2 L184.5 154.1 L186.5 154.1 L188.5 154.1 L190.5 154 L192.5 154 L194.5 154 L196.5 154.1 L198.5 154.1 L200.5 154.1 L202.5 154.2 L204.5 154.2 L206.5 154.3 L208.5 154.4 L210.5 154.5 L212.5 154.5 L214.5 154.6 L216.5 154.7 L218.5 154.7 L220.5 154.8 L222.5 154.9 L224.5 155 L226.5 155.1 L228.5 155.2 L230.5 155.4 L232.5 155.6 L234.5 155.7 L236.5 156 L238.5 156.2 L240.5 156.4 L242.5 156.7 L244.5 156.9 L246.5 157.2 L248.5 157.5 L250.5 157.8 L252.5 158.1 L254.5 158.5 L256.5 158.8 L258.5 159.2 L260.5 159.6 L262.5 160 L264.5 160.4 L266.5 160.9 L268.5 161.4 L270.5 161.9 L272.5 162.4 L274.5 163 L276.5 163.6 L278.5 164.2 L280.5 164.8 L282.5 165.5 L284.5 166.2 L286 166.8 L287.5 167.4 L289 168 L290.5 168.6 L292 169.2 L293.5 169.8 L295 170.5 L296.5 171.2 L298 171.8 L299.5 172.5 L301 173.2 L302.5 173.9 L304 174.6 L305.5 175.3 L307 176 L308.5 176.7 L310 177.4 L311.5 178.1 L313 178.8 L314.5 179.5 L316 180.2 L317.5 180.8 L319 181.5 L320.5 182.1 L322 182.7 L323.5 183.3 L325 183.9 L326.5 184.4 L328 185 L329.5 185.6 L331 186.2 L332.5 186.9 L334 187.5 L335.5 188.3 L337 189 L338.5 189.8 L340 190.6 L341.5 191.5 L343 192.4 L344.5 193.4 L346 194.4 L347.5 195.5 L349 196.6 L350.5 197.7 L352 198.9 L353.5 200.2 L355 201.4 L356.5 202.8 L357.7 203.8 L358.9 205 L360.1 206.1 L361.3 207.2 L362.5 208.4 L363.7 209.6 L364.9 210.8 L366.1 212 L367.3 213.2 L368.5 214.5 L369.7 215.7 L370.9 217 L372.1 218.2 L373.3 219.5 L374.5 220.7 L375.7 222 L376.9 223.2 L378.1 224.5 L379.3 225.7 L380.5 227 L381.7 228.3 L382.9 229.5 L384.1 230.8 L385.3 232.1 L386.2 233 M396.1 243.4 L397.3 244.7 L398.5 246 L399.7 247.3 L400.9 248.5 L402.1 249.8 L403.3 251.1 L404.5 252.3 L405.7 253.6 L406.9 254.9 L408.1 256.2 L409.3 257.5 L410.5 258.8 L411.7 260.1 L412.9 261.4 L414.1 262.7 L415.3 264 L416.5 265.3 L417.7 266.7 L418.9 268 L420.1 269.3 L421.3 270.6 L422.5 272 L423.7 273.3 L424.9 274.7 L426.1 276 L427.3 277.4 L428.5 278.7 L429.7 280.1 L430.9 281.5 L432.1 282.8 L433.3 284.2 L434.5 285.6 L435.7 287 L436.9 288.4 L438.1 289.8 L439.3 291.3 L440.5 292.7 L441.7 294.2 L442.9 295.7 L444 297 L445 298.3 L446 299.6 L447 300.9 L448 302.2 L449 303.5 L450 304.8 L451 306.1 L452 307.5 L453 308.8 L454 310.1 L455 311.5 L456 312.8 L457 314.1 L458 315.4 L458.6 316.9 L458.8 318.1 M92.5 557.4 L94 556.6 L95.5 555.9 L97 555.1 L98.5 554.4 L100 553.6 L101.5 552.9 L103 552.1 L104.5 551.4 L106 550.6 L107.5 549.9 L109 549.1 L110.5 548.4 L112 547.7 L113.5 546.9 L115 546.2 L116.5 545.4 L118 544.7 L119.5 543.9 L121 543.2 L122.5 542.5 L124 541.7 L125.5 541 L127 540.3 L128.5 539.6 L130 538.9 L131.5 538.2 L133 537.5 L134.5 536.8 L136 536.1 L137.5 535.4 L139 534.7 L140.5 534 L142 533.3 L143.5 532.6 L145 532 L146.5 531.3 L148 530.6 L149.5 529.9 L151 529.2 L152.5 528.6 L154 527.9 L155.5 527.2 L157 526.5 L158.5 525.8 L160 525.2 L161.5 524.5 L163 523.8 L164.5 523.1 L166 522.4 L167.5 521.7 L169 521 L170.5 520.4 L172 519.7 L173.5 519 L175 518.3 L176.5 517.6 L178 516.9 L179.5 516.2 L181 515.5 L182.5 514.8 L184 514.2 L185.5 513.5 L187 512.8 L188.5 512.1 L190 511.4 L191.5 510.8 L193 510.1 L194.5 509.4 L196 508.7 L197.5 508.1 L199 507.4 L200.5 506.8 L202 506.1 L203.5 505.5 L205 504.9 L206.5 504.3 L208 503.7 L209.5 503.1 L211 502.5 L212.5 502 L214 501.4 L216 500.7 L218 500 L220 499.3 L222 498.6 L224 497.9 L226 497.3 L228 496.6 L230 496 L232 495.4 L234 494.8 L236 494.3 L238 493.7 L240 493.1 L242 492.6 L244 492.1 L246 491.6 L248 491.1 L250 490.5 L252 490 L254 489.5 L256 489 L258 488.5 L260 488 L262 487.5 L264 486.9 L266 486.4 L268 485.8 L270 485.3 L272 484.7 L274 484.2 L276 483.6 L278 483.1 L280 482.6 L282 482.1 L284 481.6 L286 481.1 L288 480.6 L290 480.2 L292 479.8 L294 479.3 L296 478.9 L298 478.6 L300 478.2 L302 477.8 L304 477.5 L306 477.2 L308 476.9 L310 476.6 L312 476.3 L314 476 L316 475.8 L318 475.5 L320 475.3 L322 475 L324 474.8 L326 474.6 L328 474.4 L330 474.2 L332 474.1 L334 473.9 L336 473.8 L338 473.6 L340 473.5 L342 473.4 L344 473.3 L346 473.2 L348 473.2 L350 473.1 L352 473.1 L354 473 L356 473 L358 473 L360 473 L362 473.1 L364 473.1 L366 473.2 L368 473.3 L370 473.4 L372 473.6 L374 473.7 L376 473.9 L378 474.1 L380 474.4 L382 474.6 L384 474.9 L386 475.2 L388 475.5 L390 475.9 L392 476.2 L394 476.6 L396 477 L398 477.4 L400 477.8 L402 478.2 L404 478.7 L406 479.1 L408 479.6 L410 480.1 L412 480.6 L414 481.2 L416 481.7 L418 482.3 L420 482.9 L422 483.6 L424 484.2 L426 484.9 L428 485.5 L430 486.2 L432 486.8 L434 487.4 L436 488 L438 488.5 L440 489 L442 489.5 L444 490 L446 490.4 L448 490.8 L450 491.2 L452 491.6 L454 492 L456 492.3 L457.6 492.7 M92.5 696.5 L94.5 696.6 L96.5 696.6 L98.5 696.7 L100.5 696.7 L102.5 696.8 L104.5 696.8 L106.5 696.9 L108.5 696.9 L110.5 696.9 L112.5 697 L114.5 697 L116.5 697.1 L118.5 697.1 L120.5 697.2 L122.5 697.2 L124.5 697.3 L126.5 697.3 L128.5 697.3 L130.5 697.4 L132.5 697.4 L134.5 697.5 L136.5 697.5 L138.5 697.5 L140.5 697.6 L142.5 697.6 L144.5 697.6 L146.5 697.7 L148.5 697.7 L150.5 697.7 L152.5 697.8 L154.5 697.8 L156.5 697.8 L158.5 697.9 L160.5 697.9 L162.5 697.9 L164.5 698 L166.5 698 L168.5 698 L170.5 698.1 L172.5 698.1 L174.5 698.1 L176.5 698.1 L178.5 698.2 L180.5 698.2 L182.5 698.2 L184.5 698.2 L186.5 698.3 L188.5 698.3 L190.5 698.3 L192.5 698.4 L194.5 698.4 L196.5 698.4 L198.5 698.4 L200.5 698.5 L202.5 698.5 L204.5 698.5 L206.5 698.5 L208.5 698.6 L210.5 698.6 L212.5 698.6 L214.5 698.6 L216.5 698.7 L218.5 698.7 L220.5 698.7 L222.5 698.7 L224.5 698.8 L226.5 698.8 L228.5 698.8 L230.5 698.8 L232.5 698.8 L234.5 698.9 L236.5 698.9 L238.5 698.9 L240.5 698.9 L242.5 698.9 L244 698.9 M258 698.8 L260 698.8 L262 698.8 L264 698.8 L266 698.8 L268 698.7 L270 698.7 L272 698.7 L274 698.6 L276 698.6 L278 698.5 L280 698.5 L282 698.4 L284 698.4 L286 698.3 L288 698.2 L290 698.1 L292 698 L294 697.9 L296 697.8 L298 697.7 L300 697.6 L302 697.5 L304 697.3 L306 697.2 L308 697 L310 696.9 L312 696.7 L314 696.5 L316 696.4 L318 696.2 L320 696 L322 695.8 L324 695.6 L326 695.3 L328 695.1 L330 694.9 L332 694.6 L334 694.4 L336 694.1 L338 693.9 L340 693.6 L342 693.3 L344 693 L346 692.7 L348 692.4 L350 692.1 L352 691.8 L354 691.4 L356 691.1 L358 690.7 L360 690.4 L362 690 L364 689.6 L366 689.2 L368 688.8 L370 688.3 L372 687.9 L374 687.5 L376 687 L378 686.6 L380 686.1 L382 685.6 L384 685.1 L386 684.7 L388 684.2 L390 683.7 L392 683.3 L394 682.8 L396 682.3 L398 681.9 L400 681.4 L402 681 L404 680.6 L406 680.1 L408 679.7 L410 679.3 L412 678.9 L414 678.5 L416 678.1 L418 677.6 L420 677.2 L422 676.8 L424 676.5 L426 676.1 L428 675.7 L430 675.3 L432 675 L434 674.7 L436 674.3 L438 674 L440 673.8 L442 673.5 L444 673.3 L446 673.1 L448 672.9 L450 672.8 L452 672.7 L454 672.6 L455.9 672.4 L456.3 672.4 M92.5 172.5 L94.5 172.3 L96.5 172.1 L98.5 171.9 L100.5 171.7 L102.5 171.5 L104.5 171.3 L106.5 171.1 L108.5 170.9 L110.5 170.8 L112.5 170.6 L114.5 170.4 L116.5 170.3 L118.5 170.1 L120.5 170 L122.5 169.8 L124.5 169.7 L126.5 169.5 L128.5 169.4 L130.5 169.2 L132.5 169 L134.5 168.9 L136.5 168.7 L138.5 168.6 L140.5 168.4 L142.5 168.3 L144.5 168.1 L146.5 168 L148.5 167.9 L150.5 167.7 L152.5 167.6 L154.5 167.5 L156.5 167.4 L158.5 167.3 L160.5 167.2 L162.5 167.1 L164.5 167 L166.5 166.9 L168.5 166.8 L170.5 166.7 L172.5 166.6 L174.5 166.6 L176.5 166.5 L178.5 166.4 L180.5 166.4 L182.5 166.4 L184.5 166.3 L186.5 166.3 L188.5 166.3 L190.5 166.3 L192.5 166.3 L194.5 166.3 L196.5 166.3 L198.5 166.3 L200.5 166.4 L202.5 166.4 L204.5 166.5 L206.5 166.5 L208.5 166.6 L210.5 166.6 L212.5 166.7 L214.5 166.7 L216.5 166.8 L218.5 166.8 L220.5 166.9 L222.5 167 L224.5 167.1 L226.5 167.2 L228.5 167.4 L230.5 167.5 L232.5 167.7 L234.5 167.9 L236.5 168.1 L238.5 168.3 L240.5 168.6 L242.5 168.8 L244.5 169.1 L246.5 169.3 L248.5 169.6 L250.5 169.9 L252.5 170.3 L254.5 170.6 L256.5 171 L258.5 171.3 L260.5 171.7 L262.5 172.2 L264.5 172.6 L266.5 173.1 L268.5 173.6 L270.5 174.2 L272.5 174.8 L274.5 175.4 L276.5 176 L278.5 176.7 L280.5 177.4 L282.2 178 L283.8 178.6 L285.2 179.2 L286.8 179.8 L288.2 180.4 L289.8 181 L291.2 181.6 L292.8 182.3 L294.2 183 L295.8 183.6 L297.2 184.3 L298.8 185 L300.2 185.7 L301.8 186.4 L303.2 187.1 L304.8 187.9 L306.2 188.6 L307.8 189.4 L309.2 190.2 L310.8 191 L312.2 191.8 L313.8 192.6 L315.2 193.4 L316.8 194.3 L318.2 195.2 L319.8 196 L321.2 196.9 L322.8 197.8 L324.2 198.8 L325.8 199.7 L327.2 200.6 L328.8 201.6 L330.2 202.5 L331.8 203.5 L333.2 204.5 L334.8 205.5 L336.2 206.5 L337.8 207.6 L339.2 208.6 L340.8 209.8 L342.2 210.9 L343.8 212.1 L345.2 213.3 L346.8 214.6 L348.2 215.9 L349.6 217.1 L350.8 218.1 L352 219.2 L353.2 220.4 L354.4 221.5 L355.6 222.7 L356.8 223.8 L358 225 L359.2 226.2 L360.4 227.4 L361.6 228.5 L362.8 229.7 L364 230.9 L365.2 232.1 L366.4 233.3 L367.6 234.5 L368.8 235.7 L370 236.9 L371.2 238.1 L372.4 239.3 L373.3 240.2 M383.8 250.7 L385 251.9 L386.2 253.1 L387.4 254.3 L388.6 255.4 L389.8 256.6 L391 257.8 L392.2 259 L393.4 260.2 L394.6 261.4 L395.8 262.6 L397 263.8 L398.2 265 L399.4 266.2 L400.6 267.4 L401.8 268.6 L403 269.9 L404.2 271.1 L405.4 272.3 L406.6 273.5 L407.8 274.7 L409 276 L410.2 277.2 L411.4 278.4 L412.6 279.7 L413.8 280.9 L415 282.2 L416.2 283.4 L417.4 284.6 L418.6 285.9 L419.8 287.1 L421 288.4 L422.2 289.7 L423.4 290.9 L424.6 292.2 L425.8 293.5 L427 294.8 L428.2 296.1 L429.4 297.5 L430.6 298.8 L431.8 300.2 L433 301.6 L434.2 303 L435.4 304.4 L436.6 305.8 L437.8 307.3 L439 308.8 L440.2 310.2 L441.4 311.7 L442.6 313.2 L443.8 314.7 L444.8 315.9 L445.4 317.3 L445.7 318.1 M92.5 560.4 L94 559.7 L95.5 559 L97 558.4 L98.5 557.7 L100 557 L101.5 556.3 L103 555.6 L104.5 554.9 L106 554.3 L107.5 553.6 L109 552.9 L110.5 552.2 L112 551.5 L113.5 550.9 L115 550.2 L116.5 549.5 L118 548.8 L119.5 548.2 L121 547.5 L122.5 546.8 L124 546.2 L125.5 545.5 L127 544.9 L128.5 544.2 L130 543.6 L131.5 542.9 L133 542.3 L134.5 541.6 L136 541 L137.5 540.4 L139 539.7 L140.5 539.1 L142 538.5 L143.5 537.9 L145 537.2 L146.5 536.6 L148 536 L149.5 535.4 L151 534.7 L152.5 534.1 L154 533.5 L155.5 532.9 L157 532.2 L158.5 531.6 L160 530.9 L161.5 530.3 L163 529.7 L164.5 529 L166 528.4 L167.5 527.8 L169 527.1 L170.5 526.5 L172 525.8 L173.5 525.2 L175 524.5 L176.5 523.9 L178 523.3 L179.5 522.6 L181 522 L182.5 521.3 L184 520.7 L185.5 520.1 L187 519.4 L188.5 518.8 L190 518.2 L191.5 517.5 L193 516.9 L194.5 516.3 L196 515.7 L197.5 515.1 L199 514.5 L200.5 513.9 L202 513.4 L203.5 512.8 L205.5 512.1 L207.5 511.3 L209.5 510.6 L211.5 509.9 L213.5 509.3 L215.5 508.6 L217.5 508 L219.5 507.3 L221.5 506.7 L223.5 506.1 L225.5 505.5 L227.5 505 L229.5 504.4 L231.5 503.9 L233.5 503.4 L235.5 502.8 L237.5 502.3 L239.5 501.8 L241.5 501.3 L243.5 500.9 L245.5 500.4 L247.5 499.9 L249.5 499.4 L251.5 498.9 L253.5 498.4 L255.5 497.9 L257.5 497.4 L259.5 496.9 L261.5 496.4 L263.5 495.9 L265.5 495.3 L267.5 494.8 L269.5 494.3 L271.5 493.8 L273.5 493.3 L275.5 492.8 L277.5 492.3 L279.5 491.9 L281.5 491.5 L283.5 491 L285.5 490.6 L287.5 490.2 L289.5 489.8 L291.5 489.5 L293.5 489.1 L295.5 488.8 L297.5 488.5 L299.5 488.2 L301.5 487.9 L303.5 487.6 L305.5 487.4 L307.5 487.1 L309.5 486.9 L311.5 486.6 L313.5 486.4 L315.5 486.2 L317.5 486 L319.5 485.8 L321.5 485.6 L323.5 485.5 L325.5 485.3 L327.5 485.2 L329.5 485 L331.5 484.9 L333.5 484.8 L335.5 484.7 L337.5 484.7 L339.5 484.6 L341.5 484.5 L343.5 484.5 L345.5 484.5 L347.5 484.5 L349.5 484.5 L351.5 484.5 L353.5 484.5 L355.5 484.6 L357.5 484.7 L359.5 484.8 L361.5 484.9 L363.5 485 L365.5 485.1 L367.5 485.3 L369.5 485.5 L371.5 485.7 L373.5 485.9 L375.5 486.1 L377.5 486.4 L379.5 486.7 L381.5 487 L383.5 487.3 L385.5 487.6 L387.5 487.9 L389.5 488.3 L391.5 488.6 L393.5 489 L395.5 489.3 L397.5 489.7 L399.5 490.1 L401.5 490.5 L403.5 490.9 L405.5 491.3 L407.5 491.7 L409.5 492.2 L411.5 492.7 L413.5 493.2 L415.5 493.7 L417.5 494.2 L419.5 494.8 L421.5 495.3 L423.5 495.9 L425.5 496.5 L427.5 497.1 L429.5 497.7 L431.5 498.3 L433.5 498.9 L435.5 499.5 L437.5 500 L439.5 500.6 L441.5 501.1 L443.1 501.6 M92.5 704 L94.5 704 L96.5 704.1 L98.5 704.1 L100.5 704.2 L102.5 704.2 L104.5 704.2 L106.5 704.3 L108.5 704.3 L110.5 704.3 L112.5 704.4 L114.5 704.4 L116.5 704.5 L118.5 704.5 L120.5 704.5 L122.5 704.6 L124.5 704.6 L126.5 704.6 L128.5 704.7 L130.5 704.7 L132.5 704.7 L134.5 704.8 L136.5 704.8 L138.5 704.8 L140.5 704.9 L142.5 704.9 L144.5 704.9 L146.5 704.9 L148.5 705 L150.5 705 L152.5 705 L154.5 705.1 L156.5 705.1 L158.5 705.1 L160.5 705.2 L162.5 705.2 L164.5 705.2 L166.5 705.2 L168.5 705.3 L170.5 705.3 L172.5 705.3 L174.5 705.4 L176.5 705.4 L178.5 705.4 L180.5 705.4 L182.5 705.5 L184.5 705.5 L186.5 705.5 L188.5 705.5 L190.5 705.6 L192.5 705.6 L194.5 705.6 L196.5 705.6 L198.5 705.7 L200.5 705.7 L202.5 705.7 L204.5 705.8 L206.5 705.8 L208.5 705.8 L210.5 705.8 L212.5 705.9 L214.5 705.9 L216.5 705.9 L218.5 705.9 L220.5 706 L222.5 706 L224.5 706 L226.5 706 L228.5 706 L230.5 706.1 L232.5 706.1 L234.5 706.1 L236.5 706.1 L238.5 706.1 L240.5 706.1 L241.5 706.1 M255.5 706.1 L257.5 706 L259.5 706 L261.5 706 L263.5 706 L265.5 706 L267.5 706 L269.5 705.9 L271.5 705.9 L273.5 705.9 L275.5 705.8 L277.5 705.8 L279.5 705.8 L281.5 705.7 L283.5 705.6 L285.5 705.6 L287.5 705.5 L289.5 705.4 L291.5 705.3 L293.5 705.2 L295.5 705.1 L297.5 705 L299.5 704.9 L301.5 704.8 L303.5 704.7 L305.5 704.5 L307.5 704.4 L309.5 704.2 L311.5 704.1 L313.5 703.9 L315.5 703.8 L317.5 703.6 L319.5 703.4 L321.5 703.2 L323.5 703 L325.5 702.8 L327.5 702.6 L329.5 702.3 L331.5 702.1 L333.5 701.8 L335.5 701.6 L337.5 701.3 L339.5 701 L341.5 700.7 L343.5 700.4 L345.5 700.1 L347.5 699.8 L349.5 699.5 L351.5 699.1 L353.5 698.8 L355.5 698.4 L357.5 698 L359.5 697.6 L361.5 697.2 L363.5 696.8 L365.5 696.4 L367.5 695.9 L369.5 695.5 L371.5 695 L373.5 694.6 L375.5 694.1 L377.5 693.7 L379.5 693.2 L381.5 692.7 L383.5 692.3 L385.5 691.8 L387.5 691.4 L389.5 691 L391.5 690.5 L393.5 690.1 L395.5 689.7 L397.5 689.2 L399.5 688.8 L401.5 688.4 L403.5 688 L405.5 687.5 L407.5 687.1 L409.5 686.7 L411.5 686.3 L413.5 685.9 L415.5 685.5 L417.5 685.1 L419.5 684.7 L421.5 684.3 L423.5 684 L425.5 683.6 L427.5 683.2 L429.5 682.8 L431.5 682.5 L433.5 682.1 L435.5 681.8 L437.5 681.5 L439.5 681.1 L441.5 680.7 M92.5 182.6 L94.5 182.4 L96.5 182.3 L98.5 182.1 L100.5 181.9 L102.5 181.8 L104.5 181.6 L106.5 181.5 L108.5 181.3 L110.5 181.2 L112.5 181 L114.5 180.9 L116.5 180.8 L118.5 180.6 L120.5 180.5 L122.5 180.3 L124.5 180.2 L126.5 180.1 L128.5 179.9 L130.5 179.8 L132.5 179.7 L134.5 179.5 L136.5 179.4 L138.5 179.2 L140.5 179.1 L142.5 179 L144.5 178.9 L146.5 178.7 L148.5 178.6 L150.5 178.5 L152.5 178.4 L154.5 178.3 L156.5 178.2 L158.5 178.1 L160.5 178 L162.5 177.9 L164.5 177.8 L166.5 177.8 L168.5 177.7 L170.5 177.6 L172.5 177.5 L174.5 177.5 L176.5 177.4 L178.5 177.4 L180.5 177.3 L182.5 177.3 L184.5 177.2 L186.5 177.2 L188.5 177.2 L190.5 177.2 L192.5 177.2 L194.5 177.2 L196.5 177.3 L198.5 177.3 L200.5 177.3 L202.5 177.4 L204.5 177.5 L206.5 177.5 L208.5 177.6 L210.5 177.7 L212.5 177.8 L214.5 177.9 L216.5 178 L218.5 178.1 L220.5 178.3 L222.5 178.4 L224.5 178.6 L226.5 178.8 L228.5 179 L230.5 179.3 L232.5 179.5 L234.5 179.8 L236.5 180.1 L238.5 180.3 L240.5 180.7 L242.5 181 L244.5 181.3 L246.5 181.7 L248.5 182 L250.5 182.4 L252.5 182.8 L254.5 183.3 L256.5 183.8 L258.5 184.2 L260.5 184.8 L262.5 185.3 L264.5 185.9 L266.5 186.5 L268.5 187.1 L270.5 187.8 L272.5 188.5 L274.4 189.2 L275.9 189.7 L277.4 190.3 L278.9 190.9 L280.4 191.5 L281.9 192.1 L283.4 192.8 L284.9 193.4 L286.4 194.1 L287.9 194.7 L289.4 195.4 L290.9 196.1 L292.4 196.8 L293.9 197.5 L295.4 198.2 L296.9 198.9 L298.4 199.6 L299.9 200.4 L301.4 201.2 L302.9 201.9 L304.4 202.7 L305.9 203.5 L307.4 204.4 L308.9 205.2 L310.4 206 L311.9 206.9 L313.4 207.8 L314.9 208.6 L316.4 209.5 L317.9 210.4 L319.4 211.3 L320.9 212.2 L322.4 213.2 L323.9 214.1 L325.4 215.1 L326.9 216.1 L328.4 217.1 L329.9 218.1 L331.4 219.2 L332.9 220.3 L334.4 221.4 L335.9 222.6 L337.4 223.8 L338.9 225 L340.4 226.3 L341.8 227.6 L343 228.6 L344.2 229.7 L345.4 230.8 L346.6 231.9 L347.8 233 L349 234.1 L350.2 235.3 L351.4 236.4 L352.6 237.5 L353.8 238.7 L355 239.8 L356.2 240.9 L357.4 242.1 L358.6 243.2 L359.8 244.4 L361 245.5 L361.9 246.4 M370.6 254.6 L371.8 255.7 L373 256.9 L374.2 258 L375.4 259.1 L376.6 260.3 L377.8 261.4 L379 262.5 L380.2 263.7 L381.4 264.8 L382.6 265.9 L383.8 267.1 L385 268.2 L386.2 269.3 L387.4 270.5 L388.6 271.6 L389.8 272.7 L391 273.9 L392.2 275 L393.4 276.2 L394.6 277.3 L395.8 278.5 L397 279.7 L398.2 280.8 L399.4 282 L400.6 283.1 L401.8 284.3 L403 285.5 L404.2 286.6 L405.4 287.8 L406.6 289 L407.8 290.2 L409 291.4 L410.2 292.6 L411.4 293.8 L412.6 295 L413.8 296.2 L415 297.4 L416.2 298.7 L417.4 299.9 L418.6 301.2 L419.8 302.5 L421 303.8 L422.2 305.2 L423.4 306.6 L424.6 308 L425.8 309.4 L427 310.8 L428.2 312.2 L429.4 313.7 L430.6 315.2 L431.7 316.6 L432.6 318.1 M92.5 563.4 L94 562.8 L95.5 562.2 L97 561.5 L98.5 560.9 L100 560.3 L101.5 559.7 L103 559 L104.5 558.4 L106 557.8 L107.5 557.2 L109 556.5 L110.5 555.9 L112 555.3 L113.5 554.7 L115 554 L116.5 553.4 L118 552.8 L119.5 552.2 L121 551.6 L122.5 551 L124 550.3 L125.5 549.7 L127 549.1 L128.5 548.5 L130 547.9 L131.5 547.4 L133 546.8 L134.5 546.2 L136 545.6 L137.5 545 L139 544.4 L140.5 543.9 L142 543.3 L143.5 542.7 L145 542.1 L146.5 541.6 L148 541 L149.5 540.4 L151 539.8 L152.5 539.2 L154 538.7 L155.5 538.1 L157 537.5 L158.5 536.9 L160 536.3 L161.5 535.7 L163 535.2 L164.5 534.6 L166 534 L167.5 533.4 L169 532.8 L170.5 532.2 L172 531.6 L173.5 531 L175 530.4 L176.5 529.8 L178 529.2 L179.5 528.6 L181 528 L182.5 527.4 L184 526.8 L185.5 526.2 L187 525.6 L188.5 525 L190 524.5 L191.5 523.9 L193 523.3 L194.5 522.7 L196 522.2 L198 521.4 L200 520.7 L202 520 L204 519.3 L206 518.7 L208 518 L210 517.4 L212 516.8 L214 516.2 L216 515.6 L218 515 L220 514.5 L222 513.9 L224 513.4 L226 512.9 L228 512.4 L230 511.9 L232 511.4 L234 511 L236 510.5 L238 510 L240 509.6 L242 509.1 L244 508.7 L246 508.2 L248 507.8 L250 507.3 L252 506.8 L254 506.4 L256 505.9 L258 505.4 L260 504.9 L262 504.4 L264 503.9 L266 503.5 L268 503 L270 502.6 L272 502.2 L274 501.8 L276 501.4 L278 501 L280 500.6 L282 500.3 L284 499.9 L286 499.6 L288 499.3 L290 499 L292 498.7 L294 498.4 L296 498.2 L298 497.9 L300 497.7 L302 497.5 L304 497.2 L306 497 L308 496.8 L310 496.7 L312 496.5 L314 496.3 L316 496.2 L318 496 L320 495.9 L322 495.8 L324 495.7 L326 495.6 L328 495.5 L330 495.4 L332 495.4 L334 495.3 L336 495.3 L338 495.3 L340 495.3 L342 495.3 L344 495.4 L346 495.4 L348 495.5 L350 495.6 L352 495.7 L354 495.8 L356 496 L358 496.1 L360 496.3 L362 496.5 L364 496.8 L366 497 L368 497.2 L370 497.5 L372 497.8 L374 498.1 L376 498.4 L378 498.7 L380 499 L382 499.4 L384 499.7 L386 500 L388 500.4 L390 500.8 L392 501.1 L394 501.5 L396 501.9 L398 502.3 L400 502.7 L402 503 L404 503.4 L406 503.8 L408 504.2 L410 504.7 L412 505.1 L414 505.6 L416 506.2 L418 506.8 L420 507.4 L422 508.1 L423.6 508.8 L425.1 509.4 L426.6 510 L428.1 510.6 L429.6 511.4 M92.5 711 L94.5 711 L96.5 711.1 L98.5 711.1 L100.5 711.2 L102.5 711.2 L104.5 711.3 L106.5 711.3 L108.5 711.4 L110.5 711.4 L112.5 711.4 L114.5 711.5 L116.5 711.5 L118.5 711.6 L120.5 711.6 L122.5 711.6 L124.5 711.7 L126.5 711.7 L128.5 711.8 L130.5 711.8 L132.5 711.8 L134.5 711.9 L136.5 711.9 L138.5 712 L140.5 712 L142.5 712 L144.5 712.1 L146.5 712.1 L148.5 712.1 L150.5 712.2 L152.5 712.2 L154.5 712.2 L156.5 712.3 L158.5 712.3 L160.5 712.3 L162.5 712.4 L164.5 712.4 L166.5 712.4 L168.5 712.5 L170.5 712.5 L172.5 712.5 L174.5 712.5 L176.5 712.6 L178.5 712.6 L180.5 712.6 L182.5 712.7 L184.5 712.7 L186.5 712.7 L188.5 712.8 L190.5 712.8 L192.5 712.8 L194.5 712.8 L196.5 712.9 L198.5 712.9 L200.5 712.9 L202.5 713 L204.5 713 L206.5 713 L208.5 713.1 L210.5 713.1 L212.5 713.1 L214.5 713.1 L216.5 713.2 L218.5 713.2 L220.5 713.2 L222.5 713.2 L224.5 713.2 L226.5 713.3 L228.5 713.3 L230.5 713.3 L232.5 713.3 L234.5 713.3 L236.5 713.3 L238.5 713.3 M252.5 713.3 L254.5 713.2 L256.5 713.2 L258.5 713.2 L260.5 713.2 L262.5 713.2 L264.5 713.1 L266.5 713.1 L268.5 713.1 L270.5 713 L272.5 713 L274.5 712.9 L276.5 712.9 L278.5 712.8 L280.5 712.7 L282.5 712.6 L284.5 712.5 L286.5 712.4 L288.5 712.3 L290.5 712.2 L292.5 712.1 L294.5 712 L296.5 711.9 L298.5 711.7 L300.5 711.6 L302.5 711.4 L304.5 711.2 L306.5 711.1 L308.5 710.9 L310.5 710.7 L312.5 710.5 L314.5 710.3 L316.5 710.1 L318.5 709.9 L320.5 709.6 L322.5 709.4 L324.5 709.1 L326.5 708.9 L328.5 708.6 L330.5 708.3 L332.5 708 L334.5 707.7 L336.5 707.4 L338.5 707 L340.5 706.7 L342.5 706.3 L344.5 706 L346.5 705.6 L348.5 705.2 L350.5 704.8 L352.5 704.3 L354.5 703.9 L356.5 703.5 L358.5 703 L360.5 702.6 L362.5 702.1 L364.5 701.6 L366.5 701.2 L368.5 700.7 L370.5 700.2 L372.5 699.8 L374.5 699.3 L376.5 698.9 L378.5 698.4 L380.5 698 L382.5 697.5 L384.5 697.1 L386.5 696.7 L388.5 696.2 L390.5 695.8 L392.5 695.4 L394.5 694.9 L396.5 694.5 L398.5 694.1 L400.5 693.7 L402.5 693.3 L404.5 692.9 L406.5 692.5 L408.5 692.1 L410.5 691.7 L412.5 691.3 L414.5 690.9 L416.5 690.5 L418.5 690.1 L420.5 689.8 L422.5 689.4 L424.5 689.1 L426.5 688.7 L428.5 688.4 L429.7 688.1 M92.5 192 L94.5 191.8 L96.5 191.6 L98.5 191.4 L100.5 191.3 L102.5 191.1 L104.5 190.9 L106.5 190.8 L108.5 190.6 L110.5 190.5 L112.5 190.3 L114.5 190.2 L116.5 190.1 L118.5 189.9 L120.5 189.8 L122.5 189.7 L124.5 189.6 L126.5 189.5 L128.5 189.3 L130.5 189.2 L132.5 189.1 L134.5 189 L136.5 188.9 L138.5 188.8 L140.5 188.6 L142.5 188.5 L144.5 188.4 L146.5 188.3 L148.5 188.2 L150.5 188.1 L152.5 188 L154.5 187.9 L156.5 187.8 L158.5 187.7 L160.5 187.6 L162.5 187.5 L164.5 187.4 L166.5 187.3 L168.5 187.2 L170.5 187.1 L172.5 187.1 L174.5 187 L176.5 186.9 L178.5 186.9 L180.5 186.8 L182.5 186.8 L184.5 186.8 L186.5 186.7 L188.5 186.7 L190.5 186.7 L192.5 186.7 L194.5 186.7 L196.5 186.7 L198.5 186.7 L200.5 186.7 L202.5 186.8 L204.5 186.8 L206.5 186.9 L208.5 186.9 L210.5 187 L212.5 187.1 L214.5 187.2 L216.5 187.4 L218.5 187.5 L220.5 187.7 L222.5 187.9 L224.5 188.1 L226.5 188.3 L228.5 188.6 L230.5 188.8 L232.5 189.1 L234.5 189.4 L236.5 189.7 L238.5 190 L240.5 190.3 L242.5 190.7 L244.5 191.1 L246.5 191.5 L248.5 191.9 L250.5 192.3 L252.5 192.8 L254.5 193.3 L256.5 193.9 L258.5 194.4 L260.5 195 L262.5 195.6 L264.5 196.3 L266.5 197 L268.5 197.7 L270.2 198.3 L271.8 198.9 L273.2 199.5 L274.8 200.1 L276.2 200.7 L277.8 201.3 L279.2 202 L280.8 202.6 L282.2 203.3 L283.8 203.9 L285.2 204.6 L286.8 205.3 L288.2 206 L289.8 206.7 L291.2 207.4 L292.8 208.2 L294.2 208.9 L295.8 209.7 L297.2 210.4 L298.8 211.2 L300.2 212 L301.8 212.9 L303.2 213.7 L304.8 214.5 L306.2 215.4 L307.8 216.2 L309.2 217.1 L310.8 218 L312.2 218.9 L313.8 219.8 L315.2 220.7 L316.8 221.7 L318.2 222.6 L319.8 223.6 L321.2 224.7 L322.8 225.7 L324.2 226.8 L325.8 227.9 L327.2 229.1 L328.8 230.3 L330.2 231.5 L331.8 232.7 L333.2 234 L334.8 235.3 L336.1 236.5 L337.3 237.6 L338.5 238.7 L339.7 239.8 L340.9 240.9 L342.1 242 L343.3 243.1 L344.5 244.2 L345.7 245.3 L346.9 246.4 L348.1 247.5 L349.3 248.6 L350.5 249.7 L351.4 250.6 M362.5 260.8 L363.7 261.9 L364.9 263 L366.1 264.1 L367.3 265.2 L368.5 266.3 L369.7 267.5 L370.9 268.6 L372.1 269.7 L373.3 270.8 L374.5 271.9 L375.7 273 L376.9 274.1 L378.1 275.2 L379.3 276.3 L380.5 277.5 L381.7 278.6 L382.9 279.7 L384.1 280.8 L385.3 282 L386.5 283.1 L387.7 284.2 L388.9 285.4 L390.1 286.5 L391.3 287.7 L392.5 288.8 L393.7 290 L394.9 291.1 L396.1 292.3 L397.3 293.4 L398.5 294.6 L399.7 295.8 L400.9 297 L402.1 298.2 L403.3 299.4 L404.5 300.6 L405.7 301.8 L406.9 303.1 L408.1 304.3 L409.3 305.6 L410.5 306.9 L411.7 308.2 L412.9 309.5 L414.1 310.7 L415.3 312 L416.5 313.3 L417.7 314.6 L418.9 315.9 L419.5 317.6 L419.5 318.1 M92.5 566.4 L94 565.8 L95.5 565.1 L97 564.5 L98.5 563.8 L100 563.2 L101.5 562.5 L103 561.9 L104.5 561.3 L106 560.6 L107.5 560 L109 559.4 L110.5 558.7 L112 558.1 L113.5 557.5 L115 556.9 L116.5 556.2 L118 555.6 L119.5 555 L121 554.4 L122.5 553.8 L124 553.2 L125.5 552.6 L127 552 L128.5 551.4 L130 550.8 L131.5 550.3 L133 549.7 L134.5 549.1 L136 548.6 L137.5 548 L139.5 547.3 L141.5 546.5 L143.5 545.8 L145.5 545.1 L147.5 544.4 L149.5 543.6 L151.5 542.9 L153.5 542.2 L155.5 541.5 L157.5 540.7 L159.5 540 L161.5 539.3 L163.5 538.6 L165.5 537.9 L167.5 537.2 L169.5 536.5 L171.5 535.8 L173.5 535.1 L175.5 534.4 L177.5 533.7 L179.5 533 L181.5 532.3 L183.5 531.6 L185.5 531 L187.5 530.3 L189.5 529.7 L191.5 529.1 L193.5 528.5 L195.5 527.9 L197.5 527.3 L199.5 526.7 L201.5 526.1 L203.5 525.6 L205.5 525.1 L207.5 524.5 L209.5 524 L211.5 523.5 L213.5 523.1 L215.5 522.6 L217.5 522.1 L219.5 521.7 L221.5 521.2 L223.5 520.8 L225.5 520.4 L227.5 520 L229.5 519.6 L231.5 519.2 L233.5 518.8 L235.5 518.4 L237.5 518 L239.5 517.6 L241.5 517.2 L243.5 516.8 L245.5 516.4 L247.5 516 L249.5 515.5 L251.5 515.1 L253.5 514.7 L255.5 514.3 L257.5 513.9 L259.5 513.5 L261.5 513.1 L263.5 512.7 L265.5 512.3 L267.5 512 L269.5 511.6 L271.5 511.3 L273.5 511 L275.5 510.7 L277.5 510.4 L279.5 510.1 L281.5 509.8 L283.5 509.6 L285.5 509.4 L287.5 509.1 L289.5 508.9 L291.5 508.7 L293.5 508.5 L295.5 508.3 L297.5 508.1 L299.5 508 L301.5 507.8 L303.5 507.7 L305.5 507.5 L307.5 507.4 L309.5 507.3 L311.5 507.2 L313.5 507.1 L315.5 507 L317.5 507 L319.5 506.9 L321.5 506.9 L323.5 506.9 L325.5 506.9 L327.5 506.9 L329.5 506.9 L331.5 506.9 L333.5 507 L335.5 507.1 L337.5 507.2 L339.5 507.3 L341.5 507.4 L343.5 507.5 L345.5 507.6 L347.5 507.8 L349.5 507.9 L351.5 508.1 L353.5 508.3 L355.5 508.5 L357.5 508.7 L359.5 508.9 L361.5 509.2 L363.5 509.4 L365.5 509.7 L367.5 509.9 L369.5 510.2 L371.5 510.5 L373.5 510.8 L375.5 511.1 L377.5 511.4 L379.5 511.7 L381.5 512 L383.5 512.3 L385.5 512.6 L387.5 512.9 L389.5 513.2 L391.5 513.5 L393.5 513.9 L395.5 514.2 L397.5 514.6 L399.5 515 L401.5 515.5 L403.5 516 L405.5 516.6 L407.5 517.2 L409.5 517.8 L411.5 518.5 L413.5 519.3 L415 519.8 L415.7 520.4 M92.5 721.6 L94.5 721.6 L96.5 721.5 L98.5 721.5 L100.5 721.5 L102.5 721.4 L104.5 721.4 L106.5 721.4 L108.5 721.3 L110.5 721.3 L112.5 721.3 L114.5 721.2 L116.5 721.2 L118.5 721.2 L120.5 721.1 L122.5 721.1 L124.5 721.1 L126.5 721 L128.5 721 L130.5 721 L132.5 721 L134.5 720.9 L136.5 720.9 L138.5 720.9 L140.5 720.9 L142.5 720.8 L144.5 720.8 L146.5 720.8 L148.5 720.8 L150.5 720.7 L152.5 720.7 L154.5 720.7 L156.5 720.7 L158.5 720.7 L160.5 720.6 L162.5 720.6 L164.5 720.6 L166.5 720.6 L168.5 720.6 L170.5 720.6 L172.5 720.6 L174.5 720.5 L176.5 720.5 L178.5 720.5 L180.5 720.5 L182.5 720.5 L184.5 720.5 L186.5 720.5 L188.5 720.5 L190.5 720.5 L192.5 720.5 L194.5 720.5 L196.5 720.5 L198.5 720.5 L200.5 720.5 L202.5 720.5 L204.5 720.5 L206.5 720.5 L208.5 720.5 L210.5 720.5 L212.5 720.5 L214.5 720.5 L216.5 720.5 L218.5 720.5 L220.5 720.5 L222.5 720.6 L224.5 720.6 L226.5 720.5 L228.5 720.5 L230.5 720.5 L232.5 720.5 L234.5 720.5 L235 720.5 M249 720.5 L251 720.4 L253 720.4 L255 720.4 L257 720.4 L259 720.4 L261 720.3 L263 720.3 L265 720.2 L267 720.2 L269 720.1 L271 720.1 L273 720 L275 719.9 L277 719.8 L279 719.7 L281 719.6 L283 719.5 L285 719.4 L287 719.3 L289 719.2 L291 719 L293 718.9 L295 718.7 L297 718.6 L299 718.4 L301 718.2 L303 718 L305 717.8 L307 717.6 L309 717.4 L311 717.2 L313 716.9 L315 716.7 L317 716.4 L319 716.2 L321 715.9 L323 715.6 L325 715.3 L327 715 L329 714.7 L331 714.3 L333 713.9 L335 713.6 L337 713.2 L339 712.8 L341 712.4 L343 711.9 L345 711.5 L347 711.1 L349 710.6 L351 710.2 L353 709.7 L355 709.2 L357 708.8 L359 708.3 L361 707.9 L363 707.4 L365 707 L367 706.5 L369 706.1 L371 705.6 L373 705.2 L375 704.8 L377 704.4 L379 704 L381 703.6 L383 703.2 L385 702.8 L387 702.4 L389 702 L391 701.6 L393 701.2 L395 700.8 L397 700.5 L399 700.1 L401 699.8 L403 699.4 L405 699.1 L407 698.8 L409 698.4 L411 698.1 L413 697.8 L415 697.5 L416 697.3 M92.5 201.5 L94.5 201.3 L96.5 201.1 L98.5 200.9 L100.5 200.7 L102.5 200.5 L104.5 200.4 L106.5 200.2 L108.5 200 L110.5 199.9 L112.5 199.7 L114.5 199.6 L116.5 199.4 L118.5 199.3 L120.5 199.2 L122.5 199 L124.5 198.9 L126.5 198.7 L128.5 198.5 L130.5 198.4 L132.5 198.2 L134.5 198.1 L136.5 197.9 L138.5 197.8 L140.5 197.6 L142.5 197.5 L144.5 197.4 L146.5 197.2 L148.5 197.1 L150.5 197 L152.5 196.9 L154.5 196.7 L156.5 196.6 L158.5 196.5 L160.5 196.4 L162.5 196.3 L164.5 196.2 L166.5 196.1 L168.5 196 L170.5 195.9 L172.5 195.9 L174.5 195.8 L176.5 195.7 L178.5 195.7 L180.5 195.6 L182.5 195.6 L184.5 195.5 L186.5 195.5 L188.5 195.5 L190.5 195.4 L192.5 195.4 L194.5 195.4 L196.5 195.4 L198.5 195.4 L200.5 195.4 L202.5 195.4 L204.5 195.5 L206.5 195.5 L208.5 195.6 L210.5 195.7 L212.5 195.8 L214.5 196 L216.5 196.1 L218.5 196.3 L220.5 196.5 L222.5 196.7 L224.5 196.9 L226.5 197.2 L228.5 197.4 L230.5 197.7 L232.5 198 L234.5 198.3 L236.5 198.6 L238.5 199 L240.5 199.3 L242.5 199.7 L244.5 200.1 L246.5 200.6 L248.5 201.1 L250.5 201.6 L252.5 202.1 L254.5 202.7 L256.5 203.3 L258.5 203.9 L260.5 204.6 L262.5 205.3 L264.5 206 L266.1 206.6 L267.6 207.2 L269.1 207.7 L270.6 208.3 L272.1 208.9 L273.6 209.6 L275.1 210.2 L276.6 210.8 L278.1 211.5 L279.6 212.1 L281.1 212.8 L282.6 213.5 L284.1 214.2 L285.6 214.9 L287.1 215.6 L288.6 216.4 L290.1 217.1 L291.6 217.9 L293.1 218.7 L294.6 219.5 L296.1 220.3 L297.6 221.1 L299.1 221.9 L300.6 222.8 L302.1 223.6 L303.6 224.5 L305.1 225.4 L306.6 226.3 L308.1 227.2 L309.6 228.2 L311.1 229.1 L312.6 230.1 L314.1 231.2 L315.6 232.2 L317.1 233.3 L318.6 234.5 L320.1 235.7 L321.6 236.9 L323.1 238.1 L324.6 239.4 L326.1 240.6 L327.6 242 L328.9 243.1 L330.1 244.1 L331.3 245.2 L332.5 246.3 L333.7 247.4 L334.9 248.4 L336.1 249.5 L337.3 250.6 L338.5 251.7 L339.7 252.8 L340.9 253.9 L342.1 255 L343.3 256.1 L344.2 256.9 M355.6 267.2 L356.8 268.3 L358 269.4 L359.2 270.5 L360.4 271.6 L361.6 272.7 L362.8 273.8 L364 274.9 L365.2 276 L366.4 277.1 L367.6 278.2 L368.8 279.3 L370 280.4 L371.2 281.5 L372.4 282.6 L373.6 283.7 L374.8 284.9 L376 286 L377.2 287.1 L378.4 288.2 L379.6 289.4 L380.8 290.5 L382 291.7 L383.2 292.8 L384.4 294 L385.6 295.1 L386.8 296.3 L388 297.5 L389.2 298.7 L390.4 299.9 L391.6 301.1 L392.8 302.3 L394 303.5 L395.2 304.8 L396.4 306.1 L397.6 307.3 L398.8 308.6 L400 309.9 L401.2 311.2 L402.4 312.5 L403.6 313.8 L404.8 315.1 L406 316.5 L406.4 318.1 M92.5 569.4 L94 568.8 L95.5 568.3 L97 567.7 L98.5 567.1 L100 566.5 L101.5 566 L103 565.4 L104.5 564.8 L106 564.3 L107.5 563.7 L109 563.1 L110.5 562.6 L112 562 L113.5 561.5 L115 560.9 L117 560.2 L119 559.4 L121 558.7 L123 558 L125 557.3 L127 556.6 L129 555.9 L131 555.2 L133 554.5 L135 553.8 L137 553.1 L139 552.4 L141 551.8 L143 551.1 L145 550.4 L147 549.8 L149 549.1 L151 548.4 L153 547.7 L155 547.1 L157 546.4 L159 545.7 L161 545 L163 544.4 L165 543.7 L167 543 L169 542.4 L171 541.7 L173 541 L175 540.3 L177 539.7 L179 539 L181 538.3 L183 537.7 L185 537 L187 536.4 L189 535.8 L191 535.2 L193 534.6 L195 534 L197 533.4 L199 532.8 L201 532.3 L203 531.7 L205 531.2 L207 530.7 L209 530.2 L211 529.8 L213 529.3 L215 528.9 L217 528.4 L219 528 L221 527.6 L223 527.2 L225 526.8 L227 526.4 L229 526 L231 525.6 L233 525.2 L235 524.8 L237 524.4 L239 524 L241 523.6 L243 523.2 L245 522.8 L247 522.4 L249 522 L251 521.6 L253 521.2 L255 520.8 L257 520.4 L259 520.1 L261 519.7 L263 519.4 L265 519.1 L267 518.8 L269 518.5 L271 518.2 L273 517.9 L275 517.7 L277 517.5 L279 517.2 L281 517 L283 516.8 L285 516.6 L287 516.4 L289 516.2 L291 516 L293 515.9 L295 515.7 L297 515.6 L299 515.4 L301 515.3 L303 515.2 L305 515.1 L307 515 L309 514.9 L311 514.8 L313 514.7 L315 514.7 L317 514.6 L319 514.6 L321 514.6 L323 514.6 L325 514.6 L327 514.6 L329 514.7 L331 514.7 L333 514.8 L335 514.9 L337 515.1 L339 515.2 L341 515.4 L343 515.6 L345 515.8 L347 516.1 L349 516.3 L351 516.6 L353 516.9 L355 517.2 L357 517.5 L359 517.8 L361 518.2 L363 518.5 L365 518.9 L367 519.2 L369 519.6 L371 520 L373 520.4 L375 520.8 L377 521.2 L379 521.6 L381 522.1 L383 522.5 L385 522.9 L387 523.4 L389 523.8 L391 524.3 L393 524.8 L395 525.2 L397 525.8 L399 526.3 L401 526.8 L403 527.4 L405 527.9 L406 528.2 M92.5 730.2 L94.5 730.2 L96.5 730.2 L98.5 730.3 L100.5 730.3 L102.5 730.3 L104.5 730.3 L106.5 730.3 L108.5 730.3 L110.5 730.4 L112.5 730.4 L114.5 730.4 L116.5 730.4 L118.5 730.4 L120.5 730.5 L122.5 730.5 L124.5 730.5 L126.5 730.5 L128.5 730.5 L130.5 730.5 L132.5 730.6 L134.5 730.6 L136.5 730.6 L138.5 730.6 L140.5 730.6 L142.5 730.6 L144.5 730.6 L146.5 730.7 L148.5 730.7 L150.5 730.7 L152.5 730.7 L154.5 730.7 L156.5 730.7 L158.5 730.8 L160.5 730.8 L162.5 730.8 L164.5 730.8 L166.5 730.8 L168.5 730.8 L170.5 730.9 L172.5 730.9 L174.5 730.9 L176.5 730.9 L178.5 730.9 L180.5 730.9 L182.5 731 L184.5 731 L186.5 731 L188.5 731 L190.5 731 L192.5 731.1 L194.5 731.1 L196.5 731.1 L198.5 731.1 L200.5 731.2 L202.5 731.2 L204.5 731.2 L206.5 731.2 L208.5 731.2 L210.5 731.3 L212.5 731.3 L214.5 731.3 L216.5 731.3 L218.5 731.3 L220.5 731.3 L222.5 731.3 L224.5 731.3 L226.5 731.3 L228.5 731.3 L230.5 731.3 L232 731.3 M246 731.2 L248 731.2 L250 731.2 L252 731.2 L254 731.1 L256 731.1 L258 731 L260 731 L262 730.9 L264 730.8 L266 730.7 L268 730.7 L270 730.6 L272 730.5 L274 730.3 L276 730.2 L278 730.1 L280 729.9 L282 729.8 L284 729.6 L286 729.5 L288 729.3 L290 729.1 L292 728.9 L294 728.7 L296 728.5 L298 728.2 L300 728 L302 727.8 L304 727.5 L306 727.2 L308 726.9 L310 726.6 L312 726.3 L314 726 L316 725.7 L318 725.3 L320 724.9 L322 724.5 L324 724.1 L326 723.7 L328 723.3 L330 722.8 L332 722.4 L334 721.9 L336 721.4 L338 720.9 L340 720.4 L342 719.9 L344 719.4 L346 718.9 L348 718.4 L350 717.9 L352 717.4 L354 716.9 L356 716.4 L358 715.9 L360 715.4 L362 715 L364 714.5 L366 714 L368 713.5 L370 713.1 L372 712.6 L374 712.2 L376 711.7 L378 711.3 L380 710.8 L382 710.4 L384 710 L386 709.5 L388 709.1 L390 708.7 L392 708.3 L394 708 L396 707.6 L398 707.2 L400 706.9 L402 706.5 L403.5 706.1 M92.5 211 L94.5 210.8 L96.5 210.6 L98.5 210.4 L100.5 210.2 L102.5 210.1 L104.5 209.9 L106.5 209.7 L108.5 209.6 L110.5 209.4 L112.5 209.2 L114.5 209.1 L116.5 208.9 L118.5 208.8 L120.5 208.7 L122.5 208.5 L124.5 208.3 L126.5 208.2 L128.5 208 L130.5 207.9 L132.5 207.7 L134.5 207.6 L136.5 207.4 L138.5 207.3 L140.5 207.2 L142.5 207 L144.5 206.9 L146.5 206.8 L148.5 206.7 L150.5 206.6 L152.5 206.5 L154.5 206.4 L156.5 206.3 L158.5 206.2 L160.5 206.1 L162.5 206 L164.5 205.9 L166.5 205.8 L168.5 205.8 L170.5 205.7 L172.5 205.7 L174.5 205.6 L176.5 205.6 L178.5 205.6 L180.5 205.5 L182.5 205.5 L184.5 205.5 L186.5 205.5 L188.5 205.5 L190.5 205.5 L192.5 205.5 L194.5 205.5 L196.5 205.5 L198.5 205.5 L200.5 205.5 L202.5 205.6 L204.5 205.6 L206.5 205.7 L208.5 205.8 L210.5 205.9 L212.5 206 L214.5 206.1 L216.5 206.3 L218.5 206.4 L220.5 206.6 L222.5 206.8 L224.5 207 L226.5 207.3 L228.5 207.5 L230.5 207.8 L232.5 208.1 L234.5 208.4 L236.5 208.7 L238.5 209.1 L240.5 209.5 L242.5 209.9 L244.5 210.3 L246.5 210.8 L248.5 211.3 L250.5 211.9 L252.5 212.4 L254.5 213 L256.5 213.7 L258.5 214.3 L260.5 215 L262.5 215.7 L264.5 216.4 L266.5 217.1 L268 217.7 L269.5 218.3 L271 218.9 L272.5 219.5 L274 220.1 L275.5 220.7 L277 221.4 L278.5 222.1 L280 222.7 L281.5 223.4 L283 224.1 L284.5 224.8 L286 225.6 L287.5 226.3 L289 227.1 L290.5 227.8 L292 228.6 L293.5 229.4 L295 230.2 L296.5 231.1 L298 231.9 L299.5 232.8 L301 233.7 L302.5 234.6 L304 235.6 L305.5 236.6 L307 237.6 L308.5 238.6 L310 239.7 L311.5 240.9 L313 242 L314.5 243.2 L316 244.4 L317.5 245.7 L319 246.9 L320.5 248.2 L322 249.5 L323.5 250.8 L325 252.1 L326.5 253.4 L328 254.7 L329.5 256 L331 257.4 L332.5 258.7 L333.7 259.7 L334.9 260.8 M346.6 271.2 L347.8 272.3 L349 273.4 L350.2 274.4 L351.4 275.5 L352.6 276.6 L353.8 277.7 L355 278.8 L356.2 279.9 L357.4 281 L358.6 282.1 L359.8 283.2 L361 284.3 L362.2 285.4 L363.4 286.6 L364.6 287.7 L365.8 288.8 L367 290 L368.2 291.1 L369.4 292.2 L370.6 293.4 L371.8 294.5 L373 295.7 L374.2 296.9 L375.4 298.1 L376.6 299.2 L377.8 300.5 L379 301.7 L380.2 302.9 L381.4 304.2 L382.6 305.4 L383.8 306.7 L385 308 L386.2 309.3 L387.4 310.7 L388.6 312 L389.8 313.3 L391 314.7 L392.2 316.1 L393.1 317.7 L393.4 318.1 M92.5 571.8 L94.5 571.1 L96.5 570.3 L98.5 569.6 L100.5 568.9 L102.5 568.1 L104.5 567.4 L106.5 566.7 L108.5 565.9 L110.5 565.2 L112.5 564.5 L114.5 563.8 L116.5 563.1 L118.5 562.4 L120.5 561.7 L122.5 561 L124.5 560.3 L126.5 559.7 L128.5 559 L130.5 558.4 L132.5 557.7 L134.5 557.1 L136.5 556.4 L138.5 555.8 L140.5 555.2 L142.5 554.5 L144.5 553.9 L146.5 553.3 L148.5 552.7 L150.5 552.1 L152.5 551.4 L154.5 550.8 L156.5 550.2 L158.5 549.6 L160.5 549 L162.5 548.4 L164.5 547.8 L166.5 547.2 L168.5 546.6 L170.5 546 L172.5 545.5 L174.5 544.9 L176.5 544.3 L178.5 543.8 L180.5 543.2 L182.5 542.7 L184.5 542.1 L186.5 541.6 L188.5 541.1 L190.5 540.6 L192.5 540.1 L194.5 539.7 L196.5 539.2 L198.5 538.8 L200.5 538.3 L202.5 537.9 L204.5 537.5 L206.5 537.1 L208.5 536.7 L210.5 536.3 L212.5 535.9 L214.5 535.6 L216.5 535.2 L218.5 534.9 L220.5 534.5 L222.5 534.2 L224.5 533.8 L226.5 533.5 L228.5 533.2 L230.5 532.8 L232.5 532.4 L234.5 532.1 L236.5 531.7 L238.5 531.4 L240.5 531 L242.5 530.6 L244.5 530.3 L246.5 529.9 L248.5 529.6 L250.5 529.2 L252.5 528.9 L254.5 528.6 L256.5 528.3 L258.5 528 L260.5 527.7 L262.5 527.5 L264.5 527.2 L266.5 527 L268.5 526.8 L270.5 526.6 L272.5 526.3 L274.5 526.1 L276.5 526 L278.5 525.8 L280.5 525.6 L282.5 525.4 L284.5 525.3 L286.5 525.1 L288.5 525 L290.5 524.9 L292.5 524.8 L294.5 524.7 L296.5 524.6 L298.5 524.5 L300.5 524.4 L302.5 524.4 L304.5 524.3 L306.5 524.3 L308.5 524.3 L310.5 524.3 L312.5 524.3 L314.5 524.3 L316.5 524.4 L318.5 524.4 L320.5 524.5 L322.5 524.6 L324.5 524.7 L326.5 524.8 L328.5 525 L330.5 525.2 L332.5 525.3 L334.5 525.5 L336.5 525.7 L338.5 526 L340.5 526.2 L342.5 526.5 L344.5 526.7 L346.5 527 L348.5 527.3 L350.5 527.6 L352.5 527.8 L354.5 528.2 L356.5 528.5 L358.5 528.8 L360.5 529.1 L362.5 529.5 L364.5 529.8 L366.5 530.2 L368.5 530.6 L370.5 531 L372.5 531.4 L374.5 531.9 L376.5 532.3 L378.5 532.8 L380.5 533.3 L382.5 533.8 L384.5 534.3 L386.5 534.8 L388.5 535.3 L390.1 535.9 M92.5 739.5 L94.5 739.5 L96.5 739.5 L98.5 739.5 L100.5 739.5 L102.5 739.6 L104.5 739.6 L106.5 739.6 L108.5 739.6 L110.5 739.6 L112.5 739.6 L114.5 739.6 L116.5 739.6 L118.5 739.6 L120.5 739.6 L122.5 739.7 L124.5 739.7 L126.5 739.7 L128.5 739.7 L130.5 739.7 L132.5 739.7 L134.5 739.7 L136.5 739.7 L138.5 739.7 L140.5 739.7 L142.5 739.7 L144.5 739.8 L146.5 739.8 L148.5 739.8 L150.5 739.8 L152.5 739.8 L154.5 739.8 L156.5 739.8 L158.5 739.8 L160.5 739.8 L162.5 739.8 L164.5 739.9 L166.5 739.9 L168.5 739.9 L170.5 739.9 L172.5 739.9 L174.5 739.9 L176.5 739.9 L178.5 740 L180.5 740 L182.5 740 L184.5 740 L186.5 740 L188.5 740 L190.5 740.1 L192.5 740.1 L194.5 740.1 L196.5 740.1 L198.5 740.1 L200.5 740.2 L202.5 740.2 L204.5 740.2 L206.5 740.2 L208.5 740.2 L210.5 740.2 L212.5 740.2 L214.5 740.2 L216.5 740.2 L218.5 740.3 L220.5 740.3 L222.5 740.2 L224.5 740.2 L226.5 740.2 L228.5 740.2 M242.5 740.1 L244.5 740.1 L246.5 740.1 L248.5 740 L250.5 740 L252.5 739.9 L254.5 739.9 L256.5 739.8 L258.5 739.7 L260.5 739.6 L262.5 739.5 L264.5 739.4 L266.5 739.3 L268.5 739.2 L270.5 739.1 L272.5 739 L274.5 738.8 L276.5 738.7 L278.5 738.5 L280.5 738.3 L282.5 738.1 L284.5 737.9 L286.5 737.7 L288.5 737.5 L290.5 737.3 L292.5 737.1 L294.5 736.8 L296.5 736.6 L298.5 736.3 L300.5 736 L302.5 735.7 L304.5 735.4 L306.5 735.1 L308.5 734.8 L310.5 734.4 L312.5 734 L314.5 733.7 L316.5 733.3 L318.5 732.8 L320.5 732.4 L322.5 732 L324.5 731.5 L326.5 731.1 L328.5 730.6 L330.5 730.1 L332.5 729.6 L334.5 729.1 L336.5 728.7 L338.5 728.2 L340.5 727.7 L342.5 727.2 L344.5 726.7 L346.5 726.3 L348.5 725.8 L350.5 725.4 L352.5 724.9 L354.5 724.5 L356.5 724 L358.5 723.6 L360.5 723.1 L362.5 722.7 L364.5 722.3 L366.5 721.9 L368.5 721.4 L370.5 721 L372.5 720.6 L374.5 720.2 L376.5 719.9 L378.5 719.5 L380.5 719.1 L382.5 718.8 L384.5 718.4 L386.5 718.1 L388.5 717.8 L390.5 717.5 L392.5 717.2 L392.8 717 M92.5 219.7 L94.5 219.6 L96.5 219.4 L98.5 219.3 L100.5 219.1 L102.5 219 L104.5 218.9 L106.5 218.7 L108.5 218.6 L110.5 218.5 L112.5 218.4 L114.5 218.3 L116.5 218.2 L118.5 218.1 L120.5 218 L122.5 217.9 L124.5 217.8 L126.5 217.8 L128.5 217.7 L130.5 217.6 L132.5 217.5 L134.5 217.4 L136.5 217.3 L138.5 217.3 L140.5 217.2 L142.5 217.1 L144.5 217.1 L146.5 217 L148.5 217 L150.5 216.9 L152.5 216.9 L154.5 216.8 L156.5 216.8 L158.5 216.7 L160.5 216.7 L162.5 216.7 L164.5 216.6 L166.5 216.6 L168.5 216.6 L170.5 216.6 L172.5 216.6 L174.5 216.6 L176.5 216.7 L178.5 216.7 L180.5 216.7 L182.5 216.8 L184.5 216.8 L186.5 216.9 L188.5 216.9 L190.5 217 L192.5 217 L194.5 217 L196.5 217.1 L198.5 217.1 L200.5 217.2 L202.5 217.3 L204.5 217.4 L206.5 217.5 L208.5 217.6 L210.5 217.8 L212.5 217.9 L214.5 218.1 L216.5 218.3 L218.5 218.5 L220.5 218.7 L222.5 218.9 L224.5 219.2 L226.5 219.5 L228.5 219.7 L230.5 220 L232.5 220.4 L234.5 220.7 L236.5 221.1 L238.5 221.5 L240.5 222 L242.5 222.4 L244.5 222.9 L246.5 223.5 L248.5 224 L250.5 224.6 L252.5 225.2 L254.5 225.8 L256.5 226.5 L258.5 227.2 L260.5 227.9 L262.5 228.6 L264.5 229.3 L266.1 229.9 L267.6 230.5 L269.1 231.1 L270.6 231.7 L272.1 232.3 L273.6 232.9 L275.1 233.6 L276.6 234.3 L278.1 234.9 L279.6 235.6 L281.1 236.3 L282.6 237 L284.1 237.8 L285.6 238.5 L287.1 239.3 L288.6 240.1 L290.1 240.9 L291.6 241.7 L293.1 242.6 L294.6 243.5 L296.1 244.4 L297.6 245.4 L299.1 246.4 L300.6 247.4 L302.1 248.4 L303.6 249.5 L305.1 250.7 L306.6 251.8 L308.1 253 L309.6 254.2 L311.1 255.4 L312.6 256.6 L314.1 257.8 L315.6 259.1 L317.1 260.3 L318.6 261.5 L320.1 262.8 L321.6 264 L323.1 265.3 L323.9 265.9 M336.2 276.3 L337.8 277.6 L339.2 278.8 L340.8 280.1 L342.2 281.4 L343.8 282.7 L345.2 284 L346.8 285.3 L348.2 286.6 L349.8 287.9 L351.1 289.1 L352.3 290.2 L353.5 291.2 L354.7 292.3 L355.9 293.4 L357.1 294.4 L358.3 295.5 L359.5 296.6 L360.7 297.7 L361.9 298.8 L363.1 300 L364.3 301.1 L365.5 302.2 L366.7 303.4 L367.9 304.6 L369.1 305.8 L370.3 307 L371.5 308.3 L372.7 309.5 L373.9 310.8 L375.1 312.1 L376.3 313.4 L377.5 314.7 L378.7 316.1 L379.8 317.4 L380.3 318.1 M92.5 574.2 L94.5 573.5 L96.5 572.8 L98.5 572.1 L100.5 571.4 L102.5 570.7 L104.5 570 L106.5 569.3 L108.5 568.6 L110.5 567.9 L112.5 567.3 L114.5 566.6 L116.5 565.9 L118.5 565.3 L120.5 564.6 L122.5 564 L124.5 563.3 L126.5 562.7 L128.5 562.1 L130.5 561.5 L132.5 560.8 L134.5 560.2 L136.5 559.6 L138.5 559.1 L140.5 558.5 L142.5 557.9 L144.5 557.3 L146.5 556.7 L148.5 556.1 L150.5 555.6 L152.5 555 L154.5 554.4 L156.5 553.9 L158.5 553.3 L160.5 552.8 L162.5 552.2 L164.5 551.7 L166.5 551.1 L168.5 550.6 L170.5 550.1 L172.5 549.5 L174.5 549 L176.5 548.5 L178.5 548 L180.5 547.6 L182.5 547.1 L184.5 546.6 L186.5 546.2 L188.5 545.7 L190.5 545.3 L192.5 544.9 L194.5 544.5 L196.5 544.1 L198.5 543.7 L200.5 543.3 L202.5 543 L204.5 542.6 L206.5 542.3 L208.5 542 L210.5 541.6 L212.5 541.3 L214.5 541 L216.5 540.7 L218.5 540.3 L220.5 540 L222.5 539.7 L224.5 539.4 L226.5 539.1 L228.5 538.7 L230.5 538.4 L232.5 538.1 L234.5 537.7 L236.5 537.4 L238.5 537.1 L240.5 536.8 L242.5 536.4 L244.5 536.1 L246.5 535.9 L248.5 535.6 L250.5 535.3 L252.5 535 L254.5 534.8 L256.5 534.6 L258.5 534.3 L260.5 534.1 L262.5 533.9 L264.5 533.7 L266.5 533.5 L268.5 533.4 L270.5 533.2 L272.5 533 L274.5 532.9 L276.5 532.7 L278.5 532.6 L280.5 532.5 L282.5 532.3 L284.5 532.2 L286.5 532.1 L288.5 532 L290.5 532 L292.5 531.9 L294.5 531.9 L296.5 531.8 L298.5 531.8 L300.5 531.8 L302.5 531.8 L304.5 531.8 L306.5 531.8 L308.5 531.9 L310.5 531.9 L312.5 532 L314.5 532.1 L316.5 532.2 L318.5 532.3 L320.5 532.4 L322.5 532.6 L324.5 532.8 L326.5 533 L328.5 533.2 L330.5 533.4 L332.5 533.6 L334.5 533.8 L336.5 534.1 L338.5 534.3 L340.5 534.6 L342.5 534.9 L344.5 535.2 L346.5 535.6 L348.5 535.9 L350.5 536.3 L352.5 536.6 L354.5 537 L356.5 537.4 L358.5 537.9 L360.5 538.3 L362.5 538.7 L364.5 539.2 L366.5 539.7 L368.5 540.2 L370.5 540.8 L372.5 541.4 L374.5 542 L376.5 542.6 L378.4 543.2 L378.9 543.4 M92.5 751.6 L94.5 751.6 L96.5 751.6 L98.5 751.6 L100.5 751.6 L102.5 751.6 L104.5 751.6 L106.5 751.6 L108.5 751.6 L110.5 751.5 L112.5 751.5 L114.5 751.5 L116.5 751.5 L118.5 751.5 L120.5 751.5 L122.5 751.5 L124.5 751.5 L126.5 751.5 L128.5 751.5 L130.5 751.5 L132.5 751.5 L134.5 751.5 L136.5 751.5 L138.5 751.5 L140.5 751.5 L142.5 751.5 L144.5 751.5 L146.5 751.5 L148.5 751.5 L150.5 751.5 L152.5 751.5 L154.5 751.5 L156.5 751.5 L158.5 751.5 L160.5 751.5 L162.5 751.5 L164.5 751.5 L166.5 751.5 L168.5 751.5 L170.5 751.5 L172.5 751.5 L174.5 751.5 L176.5 751.6 L178.5 751.6 L180.5 751.6 L182.5 751.6 L184.5 751.6 L186.5 751.6 L188.5 751.6 L190.5 751.7 L192.5 751.7 L194.5 751.7 L196.5 751.7 L198.5 751.7 L200.5 751.7 L202.5 751.8 L204.5 751.8 L206.5 751.8 L208.5 751.8 L210.5 751.8 L212.5 751.8 L214.5 751.8 L216.5 751.8 L218.5 751.8 L220.5 751.8 L222.5 751.7 L223.5 751.7 M237.5 751.6 L239.5 751.6 L241.5 751.5 L243.5 751.5 L245.5 751.4 L247.5 751.3 L249.5 751.2 L251.5 751.1 L253.5 751 L255.5 750.9 L257.5 750.8 L259.5 750.7 L261.5 750.5 L263.5 750.4 L265.5 750.2 L267.5 750 L269.5 749.9 L271.5 749.6 L273.5 749.4 L275.5 749.2 L277.5 749 L279.5 748.7 L281.5 748.5 L283.5 748.2 L285.5 747.9 L287.5 747.6 L289.5 747.3 L291.5 746.9 L293.5 746.6 L295.5 746.2 L297.5 745.8 L299.5 745.4 L301.5 745 L303.5 744.5 L305.5 744.1 L307.5 743.6 L309.5 743.1 L311.5 742.6 L313.5 742 L315.5 741.5 L317.5 740.9 L319.5 740.4 L321.5 739.8 L323.5 739.2 L325.5 738.6 L327.5 738 L329.5 737.5 L331.5 736.9 L333.5 736.3 L335.5 735.8 L337.5 735.2 L339.5 734.7 L341.5 734.2 L343.5 733.6 L345.5 733.1 L347.5 732.6 L349.5 732.1 L351.5 731.5 L353.5 731 L355.5 730.6 L357.5 730.1 L359.5 729.6 L361.5 729.1 L363.5 728.7 L365.5 728.2 L367.5 727.8 L369.5 727.4 L371.5 726.9 L373.5 726.6 L375.5 726.2 L377.5 725.8 L378.1 725.5 M109.8 227.4 L111.8 227.2 L113.8 227 L115.8 226.8 L117.8 226.7 L119.8 226.5 L121.8 226.3 L123.8 226.2 L125.8 226.1 L127.8 225.9 L129.8 225.8 L131.8 225.7 L133.8 225.6 L135.8 225.5 L137.8 225.4 L139.8 225.3 L141.8 225.3 L143.8 225.2 L145.8 225.1 L147.8 225.1 L149.8 225 L151.8 224.9 L153.8 224.9 L155.8 224.8 L157.8 224.8 L159.8 224.7 L161.8 224.7 L163.8 224.6 L165.8 224.6 L167.8 224.6 L169.8 224.6 L171.8 224.6 L173.8 224.6 L175.8 224.6 L177.8 224.7 L179.8 224.7 L181.8 224.8 L183.8 224.9 L185.8 225 L187.8 225.1 L189.8 225.2 L191.8 225.3 L193.8 225.5 L195.8 225.7 L197.8 225.9 L199.8 226.1 L201.8 226.3 L203.8 226.6 L205.8 226.9 L207.8 227.2 L209.8 227.6 L211.8 227.9 L213.8 228.3 L215.8 228.7 L217.8 229.2 L219.8 229.6 L221.8 230.1 L223.8 230.7 L225.8 231.2 L227.8 231.8 L229.8 232.4 L231.8 233.1 L233.8 233.8 L235.8 234.5 L237.3 235.1 L238.8 235.7 L240.3 236.3 L241.8 236.9 L243.3 237.6 L244.8 238.3 L246.3 238.9 L247.8 239.6 L249.3 240.3 L250.8 241.1 L252.3 241.8 L253.8 242.5 L255.3 243.2 L256.8 244 L258.3 244.7 L259.8 245.5 L261.3 246.2 L262.8 246.9 L264.3 247.7 L265.8 248.4 L267.3 249.1 L268.8 249.8 L270.3 250.6 L271.8 251.3 L273.3 252.1 L274.8 252.8 L276.3 253.6 L277.8 254.3 L279.3 255.1 L280.8 255.9 L282.3 256.7 L283.8 257.6 L285.3 258.4 L286.8 259.3 L288.3 260.3 L289.8 261.2 L291.3 262.2 L292.8 263.2 L294.3 264.3 L295.8 265.3 L297.3 266.4 L298.8 267.5 L300.3 268.6 L301.8 269.8 L303.3 270.9 L304.8 272 L306.3 273.1 L307.8 274.3 L309.3 275.4 L310.8 276.5 M317.9 281.8 L319.4 282.8 L320.9 283.9 L322.4 285 L323.9 286.1 L325.4 287.2 L326.9 288.2 L328.4 289.3 L329.9 290.4 L331.4 291.4 L332.9 292.5 L334.4 293.6 L335.9 294.6 L337.4 295.7 L338.9 296.7 L340.4 297.8 L341.9 298.8 L343.4 299.9 L344.9 300.9 L346.4 302 L347.9 303 L349.4 304.1 L350.9 305.2 L352.4 306.2 L353.9 307.3 L355.4 308.4 L356.9 309.5 L358.4 310.7 L359.9 311.8 L361.4 313 L362.9 314.2 L364.4 315.4 L365.9 316.6 L367.2 318.1 M92.5 576.6 L94.5 576 L96.5 575.4 L98.5 574.8 L100.5 574.2 L102.5 573.6 L104.5 573 L106.5 572.4 L108.5 571.8 L110.5 571.3 L112.5 570.7 L114.5 570.1 L116.5 569.5 L118.5 569 L120.5 568.4 L122.5 567.9 L124.5 567.3 L126.5 566.8 L128.5 566.2 L130.5 565.7 L132.5 565.2 L134.5 564.6 L136.5 564.1 L138.5 563.6 L140.5 563.1 L142.5 562.6 L144.5 562 L146.5 561.5 L148.5 561 L150.5 560.5 L152.5 560 L154.5 559.5 L156.5 558.9 L158.5 558.4 L160.5 557.9 L162.5 557.4 L164.5 556.9 L166.5 556.4 L168.5 555.9 L170.5 555.5 L172.5 555 L174.5 554.5 L176.5 554.1 L178.5 553.6 L180.5 553.2 L182.5 552.7 L184.5 552.3 L186.5 551.9 L188.5 551.5 L190.5 551.1 L192.5 550.8 L194.5 550.4 L196.5 550.1 L198.5 549.7 L200.5 549.4 L202.5 549.1 L204.5 548.7 L206.5 548.4 L208.5 548.1 L210.5 547.8 L212.5 547.5 L214.5 547.2 L216.5 546.9 L218.5 546.6 L220.5 546.3 L222.5 546 L224.5 545.6 L226.5 545.3 L228.5 545 L230.5 544.7 L232.5 544.4 L234.5 544.1 L236.5 543.8 L238.5 543.5 L240.5 543.3 L242.5 543 L244.5 542.8 L246.5 542.5 L248.5 542.3 L250.5 542.1 L252.5 541.9 L254.5 541.7 L256.5 541.5 L258.5 541.3 L260.5 541.1 L262.5 541 L264.5 540.8 L266.5 540.7 L268.5 540.5 L270.5 540.4 L272.5 540.3 L274.5 540.2 L276.5 540 L278.5 540 L280.5 539.9 L282.5 539.8 L284.5 539.7 L286.5 539.7 L288.5 539.7 L290.5 539.6 L292.5 539.6 L294.5 539.6 L296.5 539.7 L298.5 539.7 L300.5 539.7 L302.5 539.8 L304.5 539.9 L306.5 540 L308.5 540.1 L310.5 540.2 L312.5 540.4 L314.5 540.5 L316.5 540.7 L318.5 540.9 L320.5 541.1 L322.5 541.3 L324.5 541.5 L326.5 541.7 L328.5 541.9 L330.5 542.2 L332.5 542.4 L334.5 542.7 L336.5 542.9 L338.5 543.2 L340.5 543.5 L342.5 543.9 L344.5 544.2 L346.5 544.6 L348.5 545 L350.5 545.4 L352.5 545.9 L354.5 546.4 L356.5 546.9 L358.5 547.4 L360.5 548 L362.5 548.5 L364.5 549.1 L365.4 549.4 M92.5 762 L94.5 762 L96.5 762.1 L98.5 762.1 L100.5 762.1 L102.5 762.2 L104.5 762.2 L106.5 762.2 L108.5 762.3 L110.5 762.3 L112.5 762.4 L114.5 762.4 L116.5 762.4 L118.5 762.4 L120.5 762.5 L122.5 762.5 L124.5 762.5 L126.5 762.6 L128.5 762.6 L130.5 762.6 L132.5 762.7 L134.5 762.7 L136.5 762.7 L138.5 762.7 L140.5 762.8 L142.5 762.8 L144.5 762.8 L146.5 762.8 L148.5 762.9 L150.5 762.9 L152.5 762.9 L154.5 763 L156.5 763 L158.5 763 L160.5 763 L162.5 763.1 L164.5 763.1 L166.5 763.1 L168.5 763.2 L170.5 763.2 L172.5 763.2 L174.5 763.2 L176.5 763.3 L178.5 763.3 L180.5 763.3 L182.5 763.4 L184.5 763.4 L186.5 763.4 L188.5 763.5 L190.5 763.5 L192.5 763.5 L194.5 763.6 L196.5 763.6 L198.5 763.6 L200.5 763.6 L202.5 763.6 L204.5 763.6 L206.5 763.7 L208.5 763.7 L210.5 763.7 L212.5 763.7 L214.5 763.7 L216.5 763.6 L218.5 763.6 M232.5 763.5 L234.5 763.4 L236.5 763.3 L238.5 763.3 L240.5 763.2 L242.5 763.1 L244.5 763 L246.5 762.9 L248.5 762.8 L250.5 762.6 L252.5 762.5 L254.5 762.3 L256.5 762.1 L258.5 761.9 L260.5 761.7 L262.5 761.5 L264.5 761.3 L266.5 761.1 L268.5 760.8 L270.5 760.5 L272.5 760.2 L274.5 759.9 L276.5 759.6 L278.5 759.3 L280.5 758.9 L282.5 758.6 L284.5 758.2 L286.5 757.8 L288.5 757.3 L290.5 756.9 L292.5 756.4 L294.5 755.9 L296.5 755.4 L298.5 754.9 L300.5 754.3 L302.5 753.7 L304.5 753.1 L306.5 752.5 L308.5 751.9 L310.5 751.3 L312.5 750.7 L314.5 750 L316.5 749.4 L318.5 748.8 L320.5 748.1 L322.5 747.5 L324.5 746.9 L326.5 746.3 L328.5 745.7 L330.5 745.1 L332.5 744.5 L334.5 743.9 L336.5 743.3 L338.5 742.8 L340.5 742.2 L342.5 741.6 L344.5 741.1 L346.5 740.5 L348.5 740 L350.5 739.5 L352.5 739 L354.5 738.5 L356.5 738 L358.5 737.5 L360.5 737 L362.3 736.5 M92.5 236.7 L94.5 236.5 L96.5 236.2 L98.5 236 L100.5 235.8 L102.5 235.6 L104.5 235.4 L106.5 235.2 L108.5 235 L110.5 234.9 L112.5 234.7 L114.5 234.6 L116.5 234.5 L118.5 234.3 L120.5 234.2 L122.5 234.1 L124.5 234 L126.5 233.9 L128.5 233.8 L130.5 233.8 L132.5 233.7 L134.5 233.6 L136.5 233.5 L138.5 233.5 L140.5 233.4 L142.5 233.3 L144.5 233.3 L146.5 233.2 L148.5 233.2 L150.5 233.1 L152.5 233.1 L154.5 233 L156.5 233 L158.5 233 L160.5 232.9 L162.5 232.9 L164.5 232.9 L166.5 232.9 L168.5 232.9 L170.5 232.9 L172.5 232.9 L174.5 233 L176.5 233 L178.5 233.1 L180.5 233.1 L182.5 233.2 L184.5 233.3 L186.5 233.4 L188.5 233.6 L190.5 233.7 L192.5 233.9 L194.5 234.1 L196.5 234.4 L198.5 234.6 L200.5 234.9 L202.5 235.2 L204.5 235.6 L206.5 235.9 L208.5 236.3 L210.5 236.7 L212.5 237.1 L214.5 237.5 L216.5 238 L218.5 238.4 L220.5 238.9 L222.5 239.5 L224.5 240 L226.5 240.6 L228.5 241.2 L230.5 241.8 L232.5 242.5 L234.5 243.1 L236.5 243.8 L238.5 244.5 L240.5 245.2 L242.5 245.9 L244.5 246.6 L246.5 247.3 L248.5 248 L250 248.6 L251.5 249.2 L253 249.8 L254.5 250.4 L256 251 L257.5 251.6 L259 252.2 L260.5 252.9 L262 253.5 L263.5 254.2 L265 254.9 L266.5 255.6 L268 256.3 L269.5 257 L271 257.7 L272.5 258.5 L274 259.3 L275.5 260.1 L277 260.9 L278.5 261.8 L280 262.7 L281.5 263.6 L283 264.6 L284.5 265.6 L286 266.6 L287.5 267.6 L289 268.6 L290.5 269.7 L292 270.8 L293.5 271.8 L295 272.9 L296.5 274 L298 275.1 L299.5 276.2 L301 277.2 L302.1 278 M314.1 286.7 L315.6 287.7 L317.1 288.8 L318.6 289.9 L320.1 291 L321.6 292.1 L323.1 293.1 L324.6 294.2 L326.1 295.3 L327.6 296.4 L329.1 297.5 L330.6 298.6 L332.1 299.7 L333.6 300.8 L335.1 302 L336.6 303.1 L338.1 304.2 L339.6 305.4 L341.1 306.6 L342.6 307.8 L344.1 309 L345.6 310.2 L347.1 311.4 L348.6 312.7 L350.1 314 L351.6 315.2 L353.1 316.5 L354.1 318.1 M92.5 579 L94.5 578.4 L96.5 577.8 L98.5 577.1 L100.5 576.5 L102.5 575.9 L104.5 575.3 L106.5 574.7 L108.5 574.1 L110.5 573.5 L112.5 572.9 L114.5 572.4 L116.5 571.8 L118.5 571.2 L120.5 570.7 L122.5 570.1 L124.5 569.6 L126.5 569.1 L128.5 568.5 L130.5 568 L132.5 567.5 L134.5 567 L136.5 566.5 L138.5 566 L140.5 565.5 L142.5 565 L144.5 564.5 L146.5 564 L148.5 563.5 L150.5 563 L152.5 562.6 L154.5 562.1 L156.5 561.6 L158.5 561.2 L160.5 560.7 L162.5 560.3 L164.5 559.8 L166.5 559.4 L168.5 559 L170.5 558.6 L172.5 558.2 L174.5 557.8 L176.5 557.4 L178.5 557.1 L180.5 556.7 L182.5 556.4 L184.5 556.1 L186.5 555.8 L188.5 555.5 L190.5 555.2 L192.5 555 L194.5 554.7 L196.5 554.5 L198.5 554.2 L200.5 554 L202.5 553.7 L204.5 553.5 L206.5 553.3 L208.5 553 L210.5 552.8 L212.5 552.5 L214.5 552.2 L216.5 552 L218.5 551.7 L220.5 551.4 L222.5 551.2 L224.5 550.9 L226.5 550.6 L228.5 550.4 L230.5 550.1 L232.5 549.9 L234.5 549.7 L236.5 549.4 L238.5 549.2 L240.5 549 L242.5 548.8 L244.5 548.6 L246.5 548.5 L248.5 548.3 L250.5 548.1 L252.5 548 L254.5 547.9 L256.5 547.7 L258.5 547.6 L260.5 547.5 L262.5 547.4 L264.5 547.3 L266.5 547.2 L268.5 547.1 L270.5 547 L272.5 547 L274.5 546.9 L276.5 546.9 L278.5 546.8 L280.5 546.8 L282.5 546.8 L284.5 546.8 L286.5 546.8 L288.5 546.8 L290.5 546.9 L292.5 546.9 L294.5 547 L296.5 547.1 L298.5 547.2 L300.5 547.3 L302.5 547.4 L304.5 547.6 L306.5 547.7 L308.5 547.9 L310.5 548 L312.5 548.2 L314.5 548.4 L316.5 548.5 L318.5 548.7 L320.5 548.9 L322.5 549.1 L324.5 549.3 L326.5 549.5 L328.5 549.7 L330.5 549.9 L332.5 550.1 L334.5 550.4 L336.5 550.6 L338.5 550.9 L340.5 551.2 L342.5 551.5 L344.5 551.8 L346.5 552.2 L348.5 552.6 L350.5 553 L352.5 553.4 L354.2 553.9 M92.5 773.6 L94.5 773.6 L96.5 773.6 L98.5 773.6 L100.5 773.6 L102.5 773.6 L104.5 773.6 L106.5 773.6 L108.5 773.6 L110.5 773.6 L112.5 773.6 L114.5 773.6 L116.5 773.6 L118.5 773.6 L120.5 773.6 L122.5 773.7 L124.5 773.7 L126.5 773.7 L128.5 773.7 L130.5 773.7 L132.5 773.7 L134.5 773.7 L136.5 773.7 L138.5 773.7 L140.5 773.7 L142.5 773.7 L144.5 773.7 L146.5 773.7 L148.5 773.7 L150.5 773.7 L152.5 773.7 L154.5 773.7 L156.5 773.8 L158.5 773.8 L160.5 773.8 L162.5 773.8 L164.5 773.8 L166.5 773.8 L168.5 773.8 L170.5 773.9 L172.5 773.9 L174.5 773.9 L176.5 773.9 L178.5 773.9 L180.5 774 L182.5 774 L184.5 774 L186.5 774 L188.5 774 L190.5 774.1 L192.5 774.1 L194.5 774.1 L196.5 774.1 L198.5 774.1 L200.5 774.1 L202.5 774.1 L204.5 774.1 L206.5 774.1 L208.5 774.1 L210.5 774.1 L212.5 774.1 L214.5 774.1 L215 774.1 M229 773.8 L231 773.7 L233 773.7 L235 773.6 L237 773.5 L239 773.3 L241 773.2 L243 773.1 L245 772.9 L247 772.7 L249 772.6 L251 772.4 L253 772.1 L255 771.9 L257 771.7 L259 771.4 L261 771.1 L263 770.9 L265 770.5 L267 770.2 L269 769.9 L271 769.5 L273 769.1 L275 768.7 L277 768.3 L279 767.9 L281 767.4 L283 766.9 L285 766.4 L287 765.9 L289 765.3 L291 764.7 L293 764.1 L295 763.5 L297 762.9 L299 762.2 L301 761.6 L303 760.9 L305 760.3 L307 759.6 L309 758.9 L311 758.3 L313 757.7 L315 757 L317 756.4 L319 755.8 L321 755.2 L323 754.6 L325 754 L327 753.4 L329 752.8 L331 752.3 L333 751.7 L335 751.2 L337 750.6 L339 750.1 L341 749.6 L343 749.1 L345 748.6 L347 748.2 L349 747.8 L351 747.4 L353 747 L354.2 746.6 M92.5 245.7 L94.5 245.4 L96.5 245.1 L98.5 244.8 L100.5 244.5 L102.5 244.2 L104.5 243.9 L106.5 243.7 L108.5 243.4 L110.5 243.2 L112.5 243 L114.5 242.8 L116.5 242.6 L118.5 242.4 L120.5 242.3 L122.5 242.1 L124.5 241.9 L126.5 241.8 L128.5 241.7 L130.5 241.6 L132.5 241.4 L134.5 241.3 L136.5 241.2 L138.5 241.1 L140.5 241.1 L142.5 241 L144.5 240.9 L146.5 240.8 L148.5 240.8 L150.5 240.7 L152.5 240.7 L154.5 240.6 L156.5 240.6 L158.5 240.5 L160.5 240.5 L162.5 240.4 L164.5 240.4 L166.5 240.4 L168.5 240.4 L170.5 240.5 L172.5 240.5 L174.5 240.6 L176.5 240.6 L178.5 240.7 L180.5 240.9 L182.5 241 L184.5 241.2 L186.5 241.4 L188.5 241.6 L190.5 241.8 L192.5 242.1 L194.5 242.4 L196.5 242.7 L198.5 243 L200.5 243.4 L202.5 243.8 L204.5 244.2 L206.5 244.6 L208.5 245.1 L210.5 245.5 L212.5 246 L214.5 246.5 L216.5 247 L218.5 247.6 L220.5 248.1 L222.5 248.7 L224.5 249.3 L226.5 250 L228.5 250.6 L230.5 251.3 L232.5 252 L234.5 252.7 L236.5 253.5 L238 254 L239.5 254.6 L241 255.2 L242.5 255.7 L244 256.3 L245.5 257 L247 257.6 L248.5 258.2 L250 258.8 L251.5 259.5 L253 260.1 L254.5 260.8 L256 261.5 L257.5 262.2 L259 262.9 L260.5 263.6 L262 264.3 L263.5 265 L265 265.7 L266.5 266.5 L268 267.3 L269.5 268.1 L271 268.9 L272.5 269.8 L274 270.6 L275.5 271.5 L277 272.5 L278.5 273.4 L280 274.4 L281.5 275.4 L283 276.3 L284.5 277.3 L286 278.3 L287.5 279.4 L289 280.4 L290.5 281.4 L291.6 282.1 M305.9 291.6 L307.4 292.6 L308.9 293.5 L310.4 294.5 L311.9 295.5 L313.4 296.5 L314.9 297.5 L316.4 298.5 L317.9 299.5 L319.4 300.4 L320.9 301.4 L322.4 302.4 L323.9 303.4 L325.4 304.4 L326.9 305.4 L328.4 306.4 L329.9 307.5 L331.4 308.5 L332.9 309.6 L334.4 310.6 L335.9 311.7 L337.4 312.8 L338.9 313.9 L340.4 315 L341.9 316.1 L343.2 317.4 L343.7 318.1 M92.5 581.3 L94.5 580.7 L96.5 580.2 L98.5 579.6 L100.5 579 L102.5 578.5 L104.5 577.9 L106.5 577.4 L108.5 576.8 L110.5 576.3 L112.5 575.7 L114.5 575.2 L116.5 574.7 L118.5 574.1 L120.5 573.6 L122.5 573.1 L124.5 572.6 L126.5 572.1 L128.5 571.6 L130.5 571.2 L132.5 570.7 L134.5 570.2 L136.5 569.7 L138.5 569.3 L140.5 568.8 L142.5 568.4 L144.5 567.9 L146.5 567.5 L148.5 567 L150.5 566.6 L152.5 566.2 L154.5 565.7 L156.5 565.3 L158.5 564.9 L160.5 564.5 L162.5 564.1 L164.5 563.7 L166.5 563.4 L168.5 563 L170.5 562.7 L172.5 562.3 L174.5 562 L176.5 561.6 L178.5 561.3 L180.5 561 L182.5 560.7 L184.5 560.4 L186.5 560.1 L188.5 559.9 L190.5 559.6 L192.5 559.3 L194.5 559.1 L196.5 558.9 L198.5 558.6 L200.5 558.4 L202.5 558.1 L204.5 557.9 L206.5 557.7 L208.5 557.5 L210.5 557.2 L212.5 557 L214.5 556.8 L216.5 556.5 L218.5 556.3 L220.5 556.1 L222.5 555.9 L224.5 555.7 L226.5 555.5 L228.5 555.3 L230.5 555.2 L232.5 555 L234.5 554.8 L236.5 554.7 L238.5 554.5 L240.5 554.4 L242.5 554.3 L244.5 554.2 L246.5 554.1 L248.5 554 L250.5 553.9 L252.5 553.8 L254.5 553.7 L256.5 553.6 L258.5 553.6 L260.5 553.5 L262.5 553.5 L264.5 553.4 L266.5 553.4 L268.5 553.4 L270.5 553.4 L272.5 553.4 L274.5 553.4 L276.5 553.4 L278.5 553.4 L280.5 553.5 L282.5 553.5 L284.5 553.6 L286.5 553.7 L288.5 553.8 L290.5 553.9 L292.5 554 L294.5 554.1 L296.5 554.3 L298.5 554.4 L300.5 554.6 L302.5 554.8 L304.5 555 L306.5 555.2 L308.5 555.4 L310.5 555.6 L312.5 555.9 L314.5 556.2 L316.5 556.5 L318.5 556.8 L320.5 557.2 L322.5 557.5 L324.5 557.9 L326.5 558.3 L328.5 558.7 L330.5 559.1 L332.5 559.6 L334.5 560 L336.5 560.4 L338.5 560.8 L339.2 561.1 M92.5 786.8 L94.5 786.8 L96.5 786.9 L98.5 786.9 L100.5 786.9 L102.5 787 L104.5 787 L106.5 787 L108.5 787.1 L110.5 787.1 L112.5 787.1 L114.5 787.1 L116.5 787.2 L118.5 787.2 L120.5 787.2 L122.5 787.3 L124.5 787.3 L126.5 787.3 L128.5 787.3 L130.5 787.4 L132.5 787.4 L134.5 787.4 L136.5 787.4 L138.5 787.5 L140.5 787.5 L142.5 787.5 L144.5 787.6 L146.5 787.6 L148.5 787.6 L150.5 787.6 L152.5 787.7 L154.5 787.7 L156.5 787.7 L158.5 787.7 L160.5 787.8 L162.5 787.8 L164.5 787.8 L166.5 787.9 L168.5 787.9 L170.5 787.9 L172.5 788 L174.5 788 L176.5 788 L178.5 788.1 L180.5 788.1 L182.5 788.1 L184.5 788.2 L186.5 788.2 L188.5 788.2 L190.5 788.2 L192.5 788.3 L194.5 788.3 L196.5 788.3 L198.5 788.3 L200.5 788.3 L202.5 788.3 L204.5 788.3 L206.5 788.3 L208.5 788.2 L210 788.2 M221 788 L223 788 L225 787.9 L227 787.8 L229 787.7 L231 787.6 L233 787.5 L235 787.3 L237 787.1 L239 787 L241 786.8 L243 786.6 L245 786.3 L247 786.1 L249 785.8 L251 785.5 L253 785.2 L255 784.9 L257 784.6 L259 784.2 L261 783.8 L263 783.4 L265 783 L267 782.6 L269 782.1 L271 781.6 L273 781.1 L275 780.5 L277 779.9 L279 779.3 L281 778.7 L283 778 L285 777.4 L287 776.7 L289 775.9 L291 775.2 L293 774.5 L294.6 773.9 L296.1 773.3 L297.6 772.7 L299.5 772.1 L301.5 771.3 L303.5 770.6 L305.5 769.9 L307.5 769.2 L309.5 768.4 L311.5 767.7 L313.5 767.1 L315.5 766.4 L317.5 765.7 L319.5 765 L321.5 764.4 L323.5 763.7 L325.5 763.1 L327.5 762.5 L329.5 761.9 L331.5 761.3 L333.5 760.7 L335.5 760.2 L337.5 759.7 L339.1 759 M92.5 252.4 L94.5 252.1 L96.5 251.8 L98.5 251.6 L100.5 251.3 L102.5 251 L104.5 250.8 L106.5 250.6 L108.5 250.3 L110.5 250.1 L112.5 249.9 L114.5 249.7 L116.5 249.6 L118.5 249.4 L120.5 249.2 L122.5 249.1 L124.5 248.9 L126.5 248.8 L128.5 248.7 L130.5 248.6 L132.5 248.5 L134.5 248.3 L136.5 248.3 L138.5 248.2 L140.5 248.1 L142.5 248 L144.5 248 L146.5 247.9 L148.5 247.9 L150.5 247.8 L152.5 247.8 L154.5 247.8 L156.5 247.7 L158.5 247.7 L160.5 247.7 L162.5 247.7 L164.5 247.8 L166.5 247.8 L168.5 247.9 L170.5 248 L172.5 248.1 L174.5 248.2 L176.5 248.3 L178.5 248.5 L180.5 248.7 L182.5 249 L184.5 249.2 L186.5 249.5 L188.5 249.8 L190.5 250.2 L192.5 250.5 L194.5 250.9 L196.5 251.3 L198.5 251.7 L200.5 252.2 L202.5 252.6 L204.5 253.1 L206.5 253.6 L208.5 254.1 L210.5 254.6 L212.5 255.2 L214.5 255.7 L216.5 256.3 L218.5 256.8 L220.5 257.4 L222.5 258 L224.5 258.6 L226.5 259.2 L228.5 259.9 L230.5 260.5 L232.5 261.2 L234.5 261.8 L236.5 262.5 L238.5 263.2 L240.5 263.9 L242.5 264.6 L244.5 265.3 L246.5 266 L248.5 266.8 L250.5 267.5 L252.2 268.1 L253.8 268.7 L255.2 269.3 L256.8 269.9 L258.2 270.6 L259.8 271.3 L261.2 272 L262.8 272.7 L264.2 273.5 L265.8 274.4 L267.2 275.2 L268.8 276.1 L270.2 277.1 L271.8 278 L273.2 279 L274.8 279.9 L276.2 280.9 L277.8 281.9 L279.2 282.9 L280.8 283.9 L282.2 284.9 L283.4 285.6 M297.2 294.9 L298.8 296 L300.2 297 L301.8 298 L303.2 299 L304.8 300.1 L306.2 301.1 L307.8 302.2 L309.2 303.2 L310.8 304.3 L312.2 305.4 L313.8 306.5 L315.2 307.6 L316.8 308.8 L318.2 309.9 L319.8 311.1 L321.2 312.4 L322.8 313.6 L324.2 314.9 L325.8 316.2 L327.2 317.5 L328 318.1 M92.5 582.5 L94.5 582 L96.5 581.4 L98.5 580.9 L100.5 580.3 L102.5 579.8 L104.5 579.3 L106.5 578.7 L108.5 578.2 L110.5 577.7 L112.5 577.2 L114.5 576.7 L116.5 576.2 L118.5 575.7 L120.5 575.2 L122.5 574.7 L124.5 574.3 L126.5 573.8 L128.5 573.4 L130.5 572.9 L132.5 572.5 L134.5 572 L136.5 571.6 L138.5 571.2 L140.5 570.8 L142.5 570.3 L144.5 569.9 L146.5 569.5 L148.5 569.1 L150.5 568.7 L152.5 568.4 L154.5 568 L156.5 567.6 L158.5 567.3 L160.5 566.9 L162.5 566.6 L164.5 566.3 L166.5 566 L168.5 565.7 L170.5 565.4 L172.5 565.1 L174.5 564.9 L176.5 564.6 L178.5 564.4 L180.5 564.1 L182.5 563.9 L184.5 563.7 L186.5 563.5 L188.5 563.3 L190.5 563.1 L192.5 562.9 L194.5 562.7 L196.5 562.5 L198.5 562.3 L200.5 562.1 L202.5 561.9 L204.5 561.7 L206.5 561.5 L208.5 561.3 L210.5 561.1 L212.5 560.9 L214.5 560.7 L216.5 560.5 L218.5 560.3 L220.5 560.2 L222.5 560 L224.5 559.8 L226.5 559.7 L228.5 559.5 L230.5 559.4 L232.5 559.3 L234.5 559.2 L236.5 559 L238.5 558.9 L240.5 558.8 L242.5 558.7 L244.5 558.6 L246.5 558.6 L248.5 558.5 L250.5 558.4 L252.5 558.3 L254.5 558.3 L256.5 558.2 L258.5 558.2 L260.5 558.2 L262.5 558.2 L264.5 558.1 L266.5 558.1 L268.5 558.1 L270.5 558.1 L272.5 558.2 L274.5 558.2 L276.5 558.2 L278.5 558.3 L280.5 558.3 L282.5 558.4 L284.5 558.4 L286.5 558.5 L288.5 558.6 L290.5 558.7 L292.5 558.8 L294.5 558.9 L296.5 559 L298.5 559.2 L300.5 559.3 L302.5 559.5 L304.5 559.7 L306.5 559.9 L308.5 560.2 L310.5 560.5 L312.5 560.9 L314.5 561.3 L316.5 561.8 L318.5 562.3 L320.5 562.9 L322.5 563.5 L324.5 564.2 L325.7 564.8 M92.5 798.4 L94.5 798.4 L96.5 798.4 L98.5 798.5 L100.5 798.5 L102.5 798.5 L104.5 798.5 L106.5 798.5 L108.5 798.6 L110.5 798.6 L112.5 798.6 L114.5 798.6 L116.5 798.6 L118.5 798.6 L120.5 798.7 L122.5 798.7 L124.5 798.7 L126.5 798.7 L128.5 798.7 L130.5 798.8 L132.5 798.8 L134.5 798.8 L136.5 798.8 L138.5 798.8 L140.5 798.8 L142.5 798.9 L144.5 798.9 L146.5 798.9 L148.5 798.9 L150.5 798.9 L152.5 799 L154.5 799 L156.5 799 L158.5 799 L160.5 799.1 L162.5 799.1 L164.5 799.1 L166.5 799.1 L168.5 799.2 L170.5 799.2 L172.5 799.2 L174.5 799.3 L176.5 799.3 L178.5 799.3 L180.5 799.3 L182.5 799.4 L184.5 799.4 L186.5 799.4 L188.5 799.4 L190.5 799.4 L192.5 799.4 L194.5 799.4 L196.5 799.4 L198.5 799.4 L200.5 799.4 L202.5 799.4 L204.5 799.3 L205 799.3 M216 799.1 L218 799 L220 798.9 L222 798.8 L224 798.6 L226 798.5 L228 798.3 L230 798.1 L232 798 L234 797.7 L236 797.5 L238 797.2 L240 797 L242 796.7 L244 796.4 L246 796 L248 795.7 L250 795.3 L252 794.9 L254 794.5 L256 794 L258 793.6 L260 793.1 L262 792.5 L264 792 L266 791.4 L268 790.8 L270 790.1 L272 789.4 L274 788.7 L276 788 L278 787.3 L280 786.6 L281.5 786 L283 785.5 L284.5 784.9 L286 784.3 L288 783.6 L290 782.9 L292 782.1 L294 781.4 L296 780.7 L298 780 L300 779.3 L302 778.6 L304 778 L306 777.3 L308 776.7 L310 776 L312 775.4 L314 774.8 L316 774.2 L318 773.7 L320 773.1 L322 772.6 L324 772.2 L326 771.7 L328 771.3 L328.3 771" stroke="#000" stroke-width="1.1" fill="none" stroke-linejoin="round"/>
<g font-family="Liberation Sans, sans-serif" font-size="6" text-anchor="middle" fill="#000" stroke="#000" stroke-width="0.1"><text x="466.6" y="159.3">1850</text><text x="577.4" y="375">1850</text><text x="277.1" y="638.9">1850</text><text x="460.5" y="173.3">1800</text><text x="554.8" y="390.7">1800</text><text x="275.5" y="643.9">1800</text><text x="452.7" y="184.7">1750</text><text x="550.2" y="407.9">1750</text><text x="272.3" y="649.8">1750</text><text x="444.6" y="193.6">1700</text><text x="529.6" y="425.9">1700</text><text x="268.7" y="658.2">1700</text><text x="438.3" y="200.8">1650</text><text x="524.4" y="438.3">1650</text><text x="266.7" y="663.6">1650</text><text x="428.9" y="211.1">1600</text><text x="505.5" y="451.5">1600</text><text x="262.9" y="670.7">1600</text><text x="419" y="218.8">1550</text><text x="504.9" y="462.6">1550</text><text x="260.4" y="678.3">1550</text><text x="406.9" y="227.8">1500</text><text x="479.3" y="475.8">1500</text><text x="257" y="686">1500</text><text x="399.7" y="234.1">1450</text><text x="480.1" y="486.8">1450</text><text x="254.5" y="694.3">1450</text><text x="389.8" y="240.3">1400</text><text x="456.9" y="499.3">1400</text><text x="251" y="700.7">1400</text><text x="379.5" y="247.5">1350</text><text x="451.6" y="508.7">1350</text><text x="248.3" y="707.9">1350</text><text x="369.6" y="251.6">1300</text><text x="431.7" y="519.8">1300</text><text x="245.6" y="715.1">1300</text><text x="358.4" y="257.8">1250</text><text x="423.2" y="527.2">1250</text><text x="242" y="722.3">1250</text><text x="351.6" y="264.1">1200</text><text x="406.7" y="534.7">1200</text><text x="238.9" y="733.1">1200</text><text x="339.6" y="268.1">1150</text><text x="398.3" y="544.8">1150</text><text x="235.7" y="742">1150</text><text x="329.5" y="273.1">1100</text><text x="381.1" y="550.5">1100</text><text x="230.7" y="753.5">1100</text><text x="318.5" y="278.7">1050</text><text x="372.1" y="556.3">1050</text><text x="225.3" y="765.4">1050</text><text x="310" y="283.5">1000</text><text x="357.9" y="562">1000</text><text x="222.2" y="775.8">1000</text><text x="298.8" y="288.6">960</text><text x="347.9" y="568.4">960</text><text x="215.6" y="790">960</text><text x="290.7" y="291.9">900</text><text x="330.7" y="572.5">900</text><text x="210.5" y="801.1">900</text></g>
<path d="M320.1 185.9 L337.6 190.3 L320.1 194.7 Z" fill="#000"/><circle cx="340.6" cy="190.3" r="3.3" fill="#000"/><path d="M336 210.2 L340.6 194.9 L345.2 210.2 Z" fill="#000"/><path d="M315.9 470.1 L332.8 474.2 L315.9 478.3 Z" fill="#000"/><circle cx="340.6" cy="474.2" r="3" fill="#000"/><path d="M336 502 L340.6 485.3 L345.2 502 Z" fill="#000"/><path d="M315.2 690.7 L332.8 695.3 L315.2 699.9 Z" fill="#000"/><circle cx="340.6" cy="695.3" r="3.2" fill="#000"/><path d="M336 717.2 L340.6 700.4 L345.2 717.2 Z" fill="#000"/>
<g font-family="Liberation Sans, sans-serif" font-size="12" fill="#000" stroke="#000" stroke-width="0.3" letter-spacing="0.2"><text x="88.6" y="52.7" text-anchor="end">1000</text><text x="88.6" y="106.7" text-anchor="end">800</text><text x="88.6" y="160.7" text-anchor="end">600</text><text x="88.6" y="214.7" text-anchor="end">400</text><text x="88.6" y="269.2" text-anchor="end">200</text><text x="88.6" y="322.7" text-anchor="end">0</text><text x="88.6" y="349.2" text-anchor="end">2.5</text><text x="88.6" y="396.2" text-anchor="end">2.0</text><text x="88.6" y="444.3" text-anchor="end">1.5</text><text x="88.6" y="491.7" text-anchor="end">1.0</text><text x="88.6" y="538.7" text-anchor="end">0.5</text><text x="88.6" y="585.9" text-anchor="end">0.0</text><text x="88.6" y="594.7" text-anchor="end">80</text><text x="88.6" y="638.7" text-anchor="end">75</text><text x="88.6" y="682.2" text-anchor="end">70</text><text x="88.6" y="725.7" text-anchor="end">65</text><text x="88.6" y="769.2" text-anchor="end">60</text><text x="88.6" y="812.7" text-anchor="end">55</text><text x="93.2" y="820.8" text-anchor="middle">0</text><text x="144.6" y="820.8" text-anchor="middle">1000</text><text x="191.7" y="820.8" text-anchor="middle">2000</text><text x="239.8" y="820.8" text-anchor="middle">3000</text><text x="289" y="820.8" text-anchor="middle">4000</text><text x="342" y="820.8" text-anchor="middle">5000</text><text x="389.1" y="820.8" text-anchor="middle">6000</text><text x="437.9" y="820.8" text-anchor="middle">7000</text><text x="490.5" y="820.8" text-anchor="middle">8000</text><text x="537" y="820.8" text-anchor="middle">9000</text><text x="586" y="820.8" text-anchor="middle">10000</text></g>
<g font-family="Liberation Sans, Noto Sans CJK SC, sans-serif" fill="#000"><text font-size="23" transform="translate(34.8 133.8) rotate(-90) scale(1.0 1)" text-anchor="middle">静</text><text font-size="23" transform="translate(34.8 110) rotate(-90) scale(1.0 1)" text-anchor="middle">压</text><text font-size="23" transform="translate(34.8 91.2) rotate(-90) scale(1.0 1)" text-anchor="middle">（</text><text font-size="21" transform="translate(34.8 65.2) rotate(-90) scale(1.18 1)" text-anchor="middle">P</text><text font-size="21" transform="translate(34.8 50.6) rotate(-90) scale(1.18 1)" text-anchor="middle">a</text><text font-size="23" transform="translate(34.8 29.2) rotate(-90) scale(1.0 1)" text-anchor="middle">）</text><text font-size="23" transform="translate(34.8 432.3) rotate(-90) scale(1.0 1)" text-anchor="middle">轴</text><text font-size="23" transform="translate(34.8 407.5) rotate(-90) scale(1.0 1)" text-anchor="middle">功</text><text font-size="23" transform="translate(34.8 385.5) rotate(-90) scale(1.0 1)" text-anchor="middle">率</text><text font-size="23" transform="translate(34.8 368.7) rotate(-90) scale(1.0 1)" text-anchor="middle">（</text><text font-size="21" transform="translate(34.8 346.5) rotate(-90) scale(1.18 1)" text-anchor="middle">k</text><text font-size="21" transform="translate(34.8 329.7) rotate(-90) scale(1.18 1)" text-anchor="middle">W</text><text font-size="23" transform="translate(34.8 301.3) rotate(-90) scale(1.0 1)" text-anchor="middle">）</text><text font-size="23" transform="translate(34.8 796.7) rotate(-90) scale(1.0 1)" text-anchor="middle">声</text><text font-size="23" transform="translate(34.8 775.4) rotate(-90) scale(1.0 1)" text-anchor="middle">压</text><text font-size="23" transform="translate(34.8 750.8) rotate(-90) scale(1.0 1)" text-anchor="middle">级</text><text font-size="21" transform="translate(34.8 731.5) rotate(-90) scale(1.18 1)" text-anchor="middle">d</text><text font-size="21" transform="translate(34.8 717.1) rotate(-90) scale(1.18 1)" text-anchor="middle">B</text><text font-size="23" transform="translate(34.8 703.3) rotate(-90) scale(1.0 1)" text-anchor="middle">（</text><text font-size="21" transform="translate(34.8 675.2) rotate(-90) scale(1.18 1)" text-anchor="middle">A</text><text font-size="23" transform="translate(34.8 653.4) rotate(-90) scale(1.0 1)" text-anchor="middle">）</text></g>
</svg></body></html>
